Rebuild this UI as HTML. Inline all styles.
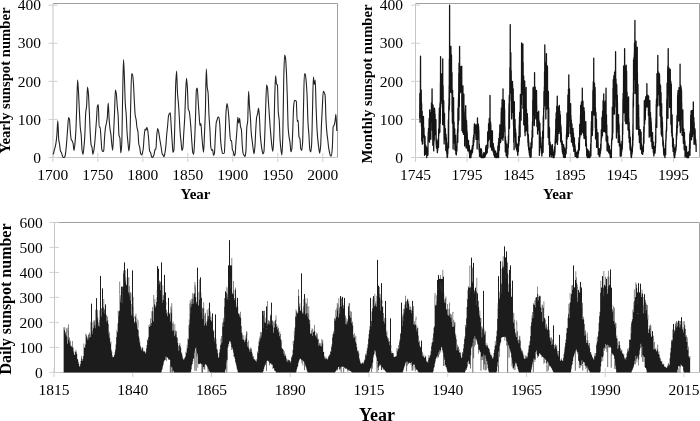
<!DOCTYPE html>
<html><head><meta charset="utf-8"><style>
html,body{margin:0;padding:0;background:#fff;overflow:hidden}
svg{display:block;filter:grayscale(1) blur(0.3px)}
</style></head><body>
<svg width="700" height="421" viewBox="0 0 700 421">
<path d="M53,3.5H337.5V157.5" fill="none" stroke="#a0a0a0" stroke-width="1"/><path d="M53,3.5V157.5H337.5" fill="none" stroke="#c4c4c4" stroke-width="1"/>
<path d="M48.5,157.5H57.5" stroke="#d0d0d0" stroke-width="1"/>
<text x="41.1" y="162.7" text-anchor="end" font-family="Liberation Serif" font-size="15.5">0</text>
<path d="M48.5,119.42H57.5" stroke="#d0d0d0" stroke-width="1"/>
<text x="41.1" y="124.62" text-anchor="end" font-family="Liberation Serif" font-size="15.5">100</text>
<path d="M48.5,81.34H57.5" stroke="#d0d0d0" stroke-width="1"/>
<text x="41.1" y="86.54" text-anchor="end" font-family="Liberation Serif" font-size="15.5">200</text>
<path d="M48.5,43.26H57.5" stroke="#d0d0d0" stroke-width="1"/>
<text x="41.1" y="48.46" text-anchor="end" font-family="Liberation Serif" font-size="15.5">300</text>
<path d="M48.5,5.18H57.5" stroke="#d0d0d0" stroke-width="1"/>
<text x="41.1" y="10.38" text-anchor="end" font-family="Liberation Serif" font-size="15.5">400</text>
<path d="M52.8,153V162" stroke="#d0d0d0" stroke-width="1"/>
<text x="52.8" y="180.4" text-anchor="middle" font-family="Liberation Serif" font-size="15.5">1700</text>
<path d="M97.8,153V162" stroke="#d0d0d0" stroke-width="1"/>
<text x="97.8" y="180.4" text-anchor="middle" font-family="Liberation Serif" font-size="15.5">1750</text>
<path d="M142.8,153V162" stroke="#d0d0d0" stroke-width="1"/>
<text x="142.8" y="180.4" text-anchor="middle" font-family="Liberation Serif" font-size="15.5">1800</text>
<path d="M187.8,153V162" stroke="#d0d0d0" stroke-width="1"/>
<text x="187.8" y="180.4" text-anchor="middle" font-family="Liberation Serif" font-size="15.5">1850</text>
<path d="M232.8,153V162" stroke="#d0d0d0" stroke-width="1"/>
<text x="232.8" y="180.4" text-anchor="middle" font-family="Liberation Serif" font-size="15.5">1900</text>
<path d="M277.8,153V162" stroke="#d0d0d0" stroke-width="1"/>
<text x="277.8" y="180.4" text-anchor="middle" font-family="Liberation Serif" font-size="15.5">1950</text>
<path d="M322.8,153V162" stroke="#d0d0d0" stroke-width="1"/>
<text x="322.8" y="180.4" text-anchor="middle" font-family="Liberation Serif" font-size="15.5">2000</text>
<text x="195.5" y="198.5" text-anchor="middle" font-family="Liberation Serif" font-size="15" font-weight="bold">Year</text>
<text transform="translate(10.2,80.5) rotate(-90)" text-anchor="middle" font-family="Liberation Serif" font-size="14.7" font-weight="bold">Yearly sunspot number</text>
<path d="M53.3,154.34C53.6,153.07 53.9,151.69 54.2,150.53C54.5,149.37 54.8,148.57 55.1,147.33C55.4,146.1 55.7,144.83 56,142.92C56.3,141 56.6,138.11 56.9,134.65C57.2,131.19 57.5,120.68 57.8,120.68C58.1,120.68 58.4,136.2 58.7,139.11C59,142.01 59.3,142.82 59.6,144.82C59.9,146.82 60.2,150.42 60.5,151.14C60.8,151.86 61.1,151.82 61.4,152.44C61.7,153.05 62,154.8 62.3,155.6C62.6,156.39 62.9,157.5 63.2,157.5C63.5,157.5 63.8,157.5 64.1,157.5C64.4,157.5 64.7,156.93 65,156.24C65.3,155.56 65.6,152.97 65.9,150.53C66.2,148.09 66.5,144.13 66.8,140.36C67.1,136.6 67.4,131.45 67.7,127.68C68,123.92 68.3,117.52 68.6,117.52C68.9,117.52 69.2,118.31 69.5,119.42C69.8,120.53 70.1,129.7 70.4,132.75C70.7,135.8 71,138.99 71.3,139.72C71.6,140.44 71.9,140.44 72.2,141.01C72.5,141.58 72.8,142.29 73.1,143.52C73.4,144.76 73.7,150.53 74,150.53C74.3,150.53 74.6,146.95 74.9,144.17C75.2,141.4 75.5,137.46 75.8,132.1C76.1,126.74 76.4,116.62 76.7,108C77,99.37 77.3,80.08 77.6,80.08C77.9,80.08 78.2,87.2 78.5,92.12C78.8,97.03 79.1,105.26 79.4,111.16C79.7,117.05 80,124.21 80.3,127.68C80.6,131.16 80.9,131.91 81.2,135.3C81.5,138.68 81.8,148.5 82.1,150.53C82.4,152.56 82.7,154.34 83,154.34C83.3,154.34 83.6,150.23 83.9,147.33C84.2,144.44 84.5,140.99 84.8,135.91C85.1,130.83 85.4,116.62 85.7,113.06C86,109.5 86.3,109.49 86.6,106.09C86.9,102.69 87.2,87.05 87.5,87.05C87.8,87.05 88.1,90.29 88.4,93.41C88.7,96.53 89,104.75 89.3,111.16C89.6,117.56 89.9,126.83 90.2,132.1C90.5,137.38 90.8,143.42 91.1,144.82C91.4,146.22 91.7,146.1 92,147.33C92.3,148.57 92.6,154.34 92.9,154.34C93.2,154.34 93.5,152.18 93.8,150.53C94.1,148.89 94.4,146.42 94.7,143.52C95,140.63 95.3,136.11 95.6,132.1C95.9,128.09 96.2,123.74 96.5,119.42C96.8,115.1 97.1,107.12 97.4,106.17C97.7,105.22 98,104.57 98.3,104.57C98.6,104.57 98.9,127.23 99.2,127.23C99.5,127.23 99.8,127.15 100.1,127.15C100.4,127.15 100.7,134.24 101,138C101.3,141.77 101.6,148.81 101.9,149.77C102.2,150.73 102.5,151.41 102.8,151.41C103.1,151.41 103.4,151.27 103.7,151.03C104,150.78 104.3,140.75 104.6,136.94C104.9,133.12 105.2,129.21 105.5,127.3C105.8,125.39 106.1,124.8 106.4,123.23C106.7,121.65 107,120.3 107.3,117.59C107.6,114.88 107.9,102.97 108.2,102.97C108.5,102.97 108.8,114.54 109.1,118.66C109.4,122.78 109.7,126.48 110,128.86C110.3,131.25 110.6,132.03 110.9,134.39C111.2,136.75 111.5,141.76 111.8,144.25C112.1,146.74 112.4,150.26 112.7,150.26C113,150.26 113.3,139.63 113.6,133.51C113.9,127.39 114.2,120.41 114.5,113.21C114.8,106.02 115.1,90.17 115.4,90.17C115.7,90.17 116,91.77 116.3,93.53C116.6,95.28 116.9,102.13 117.2,105.71C117.5,109.29 117.8,110.98 118.1,115.31C118.4,119.64 118.7,133.84 119,135.41C119.3,136.98 119.6,136.57 119.9,138.08C120.2,139.59 120.5,153.04 120.8,153.04C121.1,153.04 121.4,149.53 121.7,144.93C122,140.33 122.3,112.92 122.6,98.78C122.9,84.64 123.2,59.52 123.5,59.52C123.8,59.52 124.1,70.49 124.4,77.61C124.7,84.73 125,98.67 125.3,103.69C125.6,108.71 125.9,109.77 126.2,114.28C126.5,118.79 126.8,128.71 127.1,133.05C127.4,137.4 127.7,140.07 128,143.03C128.3,145.99 128.6,151.03 128.9,151.03C129.2,151.03 129.5,146.95 129.8,142.19C130.1,137.43 130.4,116.19 130.7,104.87C131,93.55 131.3,73.72 131.6,73.72C131.9,73.72 132.2,73.99 132.5,74.41C132.8,74.83 133.1,78.83 133.4,82.56C133.7,86.29 134,95.06 134.3,100.46C134.6,105.85 134.9,113.06 135.2,115.23C135.5,117.41 135.8,117.56 136.1,119.42C136.4,121.28 136.7,125.99 137,127.72C137.3,129.45 137.6,129.56 137.9,131.49C138.2,133.42 138.5,142.22 138.8,143.98C139.1,145.74 139.4,145.89 139.7,147.33C140,148.77 140.3,152.63 140.6,153.43C140.9,154.22 141.2,154.91 141.5,154.91C141.8,154.91 142.1,154.04 142.4,153.2C142.7,152.35 143,150.63 143.3,148.28C143.6,145.94 143.9,138.88 144.2,135.91C144.5,132.94 144.8,128.94 145.1,128.94C145.4,128.94 145.7,130.16 146,130.16C146.3,130.16 146.6,127.34 146.9,127.34C147.2,127.34 147.5,129.09 147.8,130.73C148.1,132.37 148.4,136.33 148.7,139.68C149,143.02 149.3,150.35 149.6,151.1C149.9,151.86 150.2,151.74 150.5,152.36C150.8,152.98 151.1,155.17 151.4,155.9C151.7,156.64 152,157.5 152.3,157.5C152.6,157.5 152.9,157.05 153.2,156.62C153.5,156.2 153.8,155.35 154.1,154.34C154.4,153.32 154.7,150.36 155,149.77C155.3,149.18 155.6,149.35 155.9,148.67C156.2,147.98 156.5,137.99 156.8,135.03C157.1,132.07 157.4,128.44 157.7,128.44C158,128.44 158.3,130.15 158.6,131.49C158.9,132.83 159.2,135.47 159.5,137.36C159.8,139.24 160.1,141.02 160.4,142.84C160.7,144.66 161,146.43 161.3,148.28C161.6,150.14 161.9,153.38 162.2,154C162.5,154.61 162.8,154.67 163.1,155.1C163.4,155.53 163.7,156.66 164,156.66C164.3,156.66 164.6,154.67 164.9,153.16C165.2,151.65 165.5,149.55 165.8,146.76C166.1,143.97 166.4,138.08 166.7,134.69C167,131.3 167.3,128.97 167.6,125.89C167.9,122.82 168.2,117.53 168.5,116.18C168.8,114.84 169.1,114.05 169.4,113.63C169.7,113.21 170,112.79 170.3,112.79C170.6,112.79 170.9,122.09 171.2,126.73C171.5,131.37 171.8,136.38 172.1,140.63C172.4,144.88 172.7,152.4 173,152.4C173.3,152.4 173.6,151.49 173.9,150.07C174.2,148.66 174.5,135.22 174.8,124.83C175.1,114.44 175.4,90.76 175.7,84.12C176,77.48 176.3,70.94 176.6,70.94C176.9,70.94 177.2,88.72 177.5,93.26C177.8,97.79 178.1,99.17 178.4,103.05C178.7,106.92 179,112.28 179.3,117.33C179.6,122.37 179.9,129.62 180.2,133.4C180.5,137.17 180.8,139.29 181.1,142.15C181.4,145.02 181.7,150.61 182,150.61C182.3,150.61 182.6,149.46 182.9,147.94C183.2,146.43 183.5,137.36 183.8,132.44C184.1,127.53 184.4,124.32 184.7,118.39C185,112.46 185.3,100.59 185.6,94.17C185.9,87.75 186.2,78.18 186.5,78.18C186.8,78.18 187.1,83.52 187.4,88C187.7,92.49 188,108.39 188.3,109.4C188.6,110.42 188.9,110.15 189.2,111.04C189.5,111.94 189.8,115.47 190.1,118.39C190.4,121.32 190.7,125.28 191,129.28C191.3,133.28 191.6,138.83 191.9,142.65C192.2,146.47 192.5,151.69 192.8,152.66C193.1,153.64 193.4,154.38 193.7,154.38C194,154.38 194.3,146.64 194.6,140.97C194.9,135.31 195.2,126.23 195.5,117.74C195.8,109.26 196.1,90.54 196.4,89.6C196.7,88.66 197,88.12 197.3,88.12C197.6,88.12 197.9,97.23 198.2,101.67C198.5,106.12 198.8,110.84 199.1,114.81C199.4,118.78 199.7,125.7 200,125.7C200.3,125.7 200.6,123.53 200.9,123.53C201.2,123.53 201.5,131.8 201.8,135.49C202.1,139.18 202.4,143.18 202.7,145.81C203,148.44 203.3,152.21 203.6,152.21C203.9,152.21 204.2,140.47 204.5,133.59C204.8,126.71 205.1,120.32 205.4,110.43C205.7,100.54 206,69.15 206.3,69.15C206.6,69.15 206.9,83.9 207.2,86.94C207.5,89.98 207.8,89.86 208.1,93.07C208.4,96.28 208.7,109.93 209,115.57C209.3,121.21 209.6,124.03 209.9,129.13C210.2,134.23 210.5,144.74 210.8,146.72C211.1,148.71 211.4,150.3 211.7,150.3C212,150.3 212.3,149.62 212.6,149.62C212.9,149.62 213.2,155.33 213.5,155.33C213.8,155.33 214.1,154.69 214.4,153.69C214.7,152.7 215,142.12 215.3,137.05C215.6,131.98 215.9,124.79 216.2,123.04C216.5,121.28 216.8,120.78 217.1,119.8C217.4,118.82 217.7,117.1 218,117.1C218.3,117.1 218.6,117.14 218.9,117.21C219.2,117.29 219.5,121.21 219.8,124.64C220.1,128.06 220.4,137.79 220.7,141.35C221,144.91 221.3,147.42 221.6,149.2C221.9,150.98 222.2,153.05 222.5,153.24C222.8,153.42 223.1,153.54 223.4,153.54C223.7,153.54 224,153.35 224.3,153.01C224.6,152.66 224.9,141.7 225.2,134.84C225.5,127.99 225.8,115.04 226.1,111.16C226.4,107.27 226.7,103.43 227,103.43C227.3,103.43 227.6,105.98 227.9,108C228.2,110.01 228.5,113.26 228.8,116.91C229.1,120.55 229.4,127.22 229.7,131.07C230,134.92 230.3,140.82 230.6,140.82C230.9,140.82 231.2,140.59 231.5,140.59C231.8,140.59 232.1,148.84 232.4,149.81C232.7,150.77 233,150.71 233.3,151.52C233.6,152.33 233.9,155.75 234.2,155.75C234.5,155.75 234.8,155.15 235.1,154.26C235.4,153.38 235.7,145.86 236,141.96C236.3,138.06 236.6,134.88 236.9,130.81C237.2,126.74 237.5,117.33 237.8,117.33C238.1,117.33 238.4,123.19 238.7,123.19C239,123.19 239.3,118.35 239.6,118.35C239.9,118.35 240.2,125.25 240.5,126.69C240.8,128.14 241.1,127.97 241.4,129.63C241.7,131.28 242,142.13 242.3,145.73C242.6,149.34 242.9,153.12 243.2,153.88C243.5,154.65 243.8,154.76 244.1,155.22C244.4,155.67 244.7,156.59 245,156.59C245.3,156.59 245.6,154.23 245.9,151.37C246.2,148.51 246.5,130.65 246.8,127.42C247.1,124.18 247.4,124.7 247.7,121.32C248,117.95 248.3,91.39 248.6,91.39C248.9,91.39 249.2,102.03 249.5,106.24C249.8,110.46 250.1,112.86 250.4,117.25C250.7,121.64 251,130.25 251.3,133.62C251.6,136.99 251.9,138.46 252.2,140.94C252.5,143.41 252.8,146.39 253.1,148.48C253.4,150.56 253.7,153.81 254,153.81C254.3,153.81 254.6,150.19 254.9,146.88C255.2,143.56 255.5,134.16 255.8,129.32C256.1,124.48 256.4,118.61 256.7,116.94C257,115.28 257.3,115.17 257.6,113.82C257.9,112.48 258.2,108.11 258.5,108.11C258.8,108.11 259.1,112.51 259.4,116.3C259.7,120.09 260,130.76 260.3,134.88C260.6,139 260.9,141.64 261.2,144.13C261.5,146.63 261.8,148.9 262.1,150.42C262.4,151.94 262.7,154 263,154C263.3,154 263.6,153.17 263.9,151.94C264.2,150.71 264.5,141.69 264.8,134.58C265.1,127.47 265.4,115.1 265.7,106.93C266,98.76 266.3,84.92 266.6,84.92C266.9,84.92 267.2,86.32 267.5,87.97C267.8,89.62 268.1,96.72 268.4,101.14C268.7,105.56 269,110.1 269.3,114.47C269.6,118.83 269.9,123.42 270.2,127.34C270.5,131.26 270.8,134.88 271.1,138.16C271.4,141.44 271.7,145.27 272,147.18C272.3,149.09 272.6,151.37 272.9,151.37C273.2,151.37 273.5,143.57 273.8,136.44C274.1,129.31 274.4,108.27 274.7,98.74C275,89.22 275.3,75.74 275.6,75.74C275.9,75.74 276.2,83.48 276.5,84.01C276.8,84.53 277.1,84.32 277.4,84.88C277.7,85.45 278,108.16 278.3,112.22C278.6,116.29 278.9,116.3 279.2,120.07C279.5,123.84 279.8,136.06 280.1,140.36C280.4,144.67 280.7,147.62 281,149.85C281.3,152.07 281.6,154.99 281.9,154.99C282.2,154.99 282.5,145.98 282.8,136.86C283.1,127.74 283.4,92.93 283.7,81.07C284,69.21 284.3,54.95 284.6,54.95C284.9,54.95 285.2,56.25 285.5,57.84C285.8,59.44 286.1,65.8 286.4,71.78C286.7,77.76 287,87.63 287.3,96.95C287.6,106.27 287.9,123.84 288.2,128.41C288.5,132.97 288.8,135.01 289.1,137.17C289.4,139.32 289.7,140.08 290,142.31C290.3,144.53 290.6,151.79 290.9,151.79C291.2,151.79 291.5,150.66 291.8,149.12C292.1,147.59 292.4,138.84 292.7,132.06C293,125.28 293.3,110.34 293.6,106.89C293.9,103.44 294.2,100.38 294.5,100.38C294.8,100.38 295.1,100.5 295.4,100.61C295.7,100.72 296,100.8 296.3,101.14C296.6,101.49 296.9,121.55 297.2,121.55C297.5,121.55 297.8,120.33 298.1,120.33C298.4,120.33 298.7,135.78 299,136.9C299.3,138.02 299.6,137.71 299.9,138.76C300.2,139.82 300.5,148.03 300.8,148.93C301.1,149.83 301.4,150.49 301.7,150.49C302,150.49 302.3,146.86 302.6,142.53C302.9,138.21 303.2,119.09 303.5,107.62C303.8,96.14 304.1,73.69 304.4,73.69C304.7,73.69 305,73.86 305.3,74.14C305.6,74.43 305.9,78.48 306.2,81.76C306.5,85.04 306.8,89.53 307.1,95.66C307.4,101.79 307.7,117.42 308,122.85C308.3,128.27 308.6,130.07 308.9,134.46C309.2,138.85 309.5,148.37 309.8,149.66C310.1,150.94 310.4,151.86 310.7,151.86C311,151.86 311.3,148.58 311.6,144.59C311.9,140.6 312.2,121.91 312.5,110.66C312.8,99.42 313.1,77.11 313.4,77.11C313.7,77.11 314,84.46 314.3,84.46C314.6,84.46 314.9,80.08 315.2,80.08C315.5,80.08 315.8,98.87 316.1,106.85C316.4,114.84 316.7,123.41 317,128.52C317.3,133.64 317.6,137.33 317.9,140.4C318.2,143.48 318.5,145.9 318.8,147.94C319.1,149.98 319.4,153.08 319.7,153.08C320,153.08 320.3,149.9 320.6,146.49C320.9,143.09 321.2,130.61 321.5,123.88C321.8,117.14 322.1,110.95 322.4,105.6C322.7,100.24 323,91.28 323.3,91.28C323.6,91.28 323.9,92.03 324.2,92.61C324.5,93.2 324.8,93.64 325.1,95.2C325.4,96.76 325.7,114.04 326,119.69C326.3,125.33 326.6,129.49 326.9,132.63C327.2,135.78 327.5,137.49 327.8,140.06C328.1,142.63 328.4,146.14 328.7,148.09C329,150.05 329.3,151.44 329.6,152.7C329.9,153.96 330.2,155.9 330.5,155.9C330.8,155.9 331.1,155.82 331.4,155.67C331.7,155.52 332,151.77 332.3,148.02C332.6,144.26 332.9,127.61 333.2,126.73C333.5,125.85 333.8,126 334.1,125.32C334.4,124.65 334.7,123.32 335,121.7C335.3,120.09 335.6,114.36 335.9,114.36C336.2,114.36 336.5,125.4 336.8,130.92" fill="none" stroke="#222" stroke-width="1.1"/>
<path d="M415.5,3.5H699.5V157.5" fill="none" stroke="#a0a0a0" stroke-width="1"/><path d="M415.5,3.5V157.5H699.5" fill="none" stroke="#c4c4c4" stroke-width="1"/>
<path d="M411,157.5H420" stroke="#d0d0d0" stroke-width="1"/>
<text x="403.1" y="162.7" text-anchor="end" font-family="Liberation Serif" font-size="15.5">0</text>
<path d="M411,119.42H420" stroke="#d0d0d0" stroke-width="1"/>
<text x="403.1" y="124.62" text-anchor="end" font-family="Liberation Serif" font-size="15.5">100</text>
<path d="M411,81.34H420" stroke="#d0d0d0" stroke-width="1"/>
<text x="403.1" y="86.54" text-anchor="end" font-family="Liberation Serif" font-size="15.5">200</text>
<path d="M411,43.26H420" stroke="#d0d0d0" stroke-width="1"/>
<text x="403.1" y="48.46" text-anchor="end" font-family="Liberation Serif" font-size="15.5">300</text>
<path d="M411,5.18H420" stroke="#d0d0d0" stroke-width="1"/>
<text x="403.1" y="10.38" text-anchor="end" font-family="Liberation Serif" font-size="15.5">400</text>
<path d="M415.5,153V162" stroke="#d0d0d0" stroke-width="1"/>
<text x="415.5" y="180.4" text-anchor="middle" font-family="Liberation Serif" font-size="15.5">1745</text>
<path d="M467.1,153V162" stroke="#d0d0d0" stroke-width="1"/>
<text x="467.1" y="180.4" text-anchor="middle" font-family="Liberation Serif" font-size="15.5">1795</text>
<path d="M518.7,153V162" stroke="#d0d0d0" stroke-width="1"/>
<text x="518.7" y="180.4" text-anchor="middle" font-family="Liberation Serif" font-size="15.5">1845</text>
<path d="M570.3,153V162" stroke="#d0d0d0" stroke-width="1"/>
<text x="570.3" y="180.4" text-anchor="middle" font-family="Liberation Serif" font-size="15.5">1895</text>
<path d="M621.9,153V162" stroke="#d0d0d0" stroke-width="1"/>
<text x="621.9" y="180.4" text-anchor="middle" font-family="Liberation Serif" font-size="15.5">1945</text>
<path d="M673.5,153V162" stroke="#d0d0d0" stroke-width="1"/>
<text x="673.5" y="180.4" text-anchor="middle" font-family="Liberation Serif" font-size="15.5">1995</text>
<text x="558" y="198.5" text-anchor="middle" font-family="Liberation Serif" font-size="15" font-weight="bold">Year</text>
<text transform="translate(372.2,84) rotate(-90)" text-anchor="middle" font-family="Liberation Serif" font-size="14.7" font-weight="bold">Monthly sunspot number</text>
<path d="M419.67,113.6 419.76,118.11 419.84,93.52 419.93,99.84 420.01,122.28 420.1,115.05 420.19,117.75 420.27,109.04 420.36,102.12 420.45,76.39 420.53,56.21 420.62,102.39 420.7,113.76 420.79,90.74 420.88,97.77 420.96,90.23 421.05,100.4 421.13,106.39 421.22,90.02 421.31,101.84 421.39,101.25 421.48,126.39 421.56,109.77 421.65,103.62 421.74,140.98 421.82,132.62 421.91,113.62 421.99,112.95 422.08,121.64 422.17,111.28 422.25,139.15 422.34,144.15 422.42,140.04 422.51,132.34 422.6,128.71 422.68,129.74 422.77,130.85 422.85,136.27 422.94,127.46 423.03,136.85 423.11,132.41 423.2,121.71 423.28,124.25 423.37,124.01 423.46,116.3 423.54,126.62 423.63,128.45 423.71,131.24 423.8,137.81 423.88,132.9 423.97,127.97 424.06,133.87 424.14,143.38 424.23,141.77 424.32,136.58 424.4,135.22 424.49,137.05 424.57,155.3 424.66,144.16 424.75,139.34 424.83,141.24 424.92,140.21 425,136.35 425.09,144.41 425.18,150.9 425.26,154.36 425.35,150.7 425.43,151.4 425.52,149.34 425.61,145.01 425.69,153.29 425.78,149.64 425.86,146.22 425.95,148.78 426.04,151.11 426.12,148.75 426.21,153.67 426.29,149.92 426.38,151.09 426.46,146.98 426.55,147.58 426.64,147.52 426.72,157.5 426.81,151.62 426.9,153.59 426.98,151.27 427.07,151.47 427.15,151.36 427.24,152.71 427.33,149.13 427.41,154.34 427.5,151.93 427.58,155.3 427.67,148.79 427.75,155.17 427.84,154.24 427.93,155.1 428.01,145.63 428.1,136.64 428.19,140.58 428.27,132.06 428.36,139.86 428.44,133.07 428.53,128.4 428.62,130.37 428.7,130.34 428.79,135.29 428.87,132.76 428.96,133.17 429.05,128.94 429.13,118.3 429.22,122.45 429.3,139.39 429.39,130.96 429.48,142.14 429.56,132.41 429.65,109.81 429.73,126.59 429.82,112.03 429.91,124.59 429.99,124.09 430.08,123.53 430.16,119.18 430.25,117.09 430.33,127.06 430.42,122.5 430.51,125.76 430.59,112.6 430.68,121.54 430.77,119.53 430.85,139.33 430.94,112.71 431.02,122.34 431.11,114.89 431.2,114.84 431.28,109.53 431.37,116.23 431.45,102.79 431.54,106.83 431.62,111.79 431.71,114.56 431.8,117.04 431.88,102.7 431.97,104.62 432.06,88.96 432.14,101.72 432.23,107.89 432.31,130.31 432.4,104.32 432.49,114.63 432.57,113.76 432.66,120.11 432.74,134.02 432.83,145.3 432.92,128.29 433,106.95 433.09,105.12 433.17,118.02 433.26,113.6 433.35,136.31 433.43,125.04 433.52,125.78 433.6,125.03 433.69,150.87 433.78,143.51 433.86,143.3 433.95,123.45 434.03,132.57 434.12,121.79 434.2,138.49 434.29,140.13 434.38,129.89 434.46,108.11 434.55,125.85 434.64,131.32 434.72,109.94 434.81,117.07 434.89,130.37 434.98,123.13 435.07,114.2 435.15,120.38 435.24,124.01 435.32,129.69 435.41,134.53 435.5,124.11 435.58,133.84 435.67,128.2 435.75,127.61 435.84,125.14 435.93,119.54 436.01,140.89 436.1,130.76 436.18,143.34 436.27,144.81 436.36,144 436.44,148.03 436.53,145.41 436.61,140.13 436.7,142.91 436.79,148.33 436.87,144.01 436.96,141.29 437.04,141.05 437.13,144.65 437.22,148.68 437.3,151.07 437.39,152.66 437.47,148.07 437.56,147.57 437.65,150.77 437.73,149.44 437.82,146.25 437.9,143.01 437.99,144.1 438.07,143.03 438.16,141.35 438.25,138.62 438.33,139.04 438.42,143.27 438.51,147.37 438.59,140.5 438.68,129.02 438.76,136.06 438.85,132.66 438.94,129.05 439.02,128.48 439.11,128.43 439.19,113.71 439.28,113.57 439.37,108.02 439.45,119.8 439.54,117.47 439.62,132.81 439.71,114.3 439.8,116.25 439.88,132.05 439.97,103.58 440.05,108.16 440.14,108.6 440.23,101.63 440.31,123.23 440.4,83 440.48,87.23 440.57,56.59 440.65,107.08 440.74,88.76 440.83,94.11 440.91,103.99 441,92.64 441.09,74.12 441.17,78.14 441.26,87.84 441.34,79.09 441.43,88.6 441.52,82.73 441.6,73.97 441.69,79.94 441.77,100.54 441.86,95.16 441.94,98.86 442.03,95.87 442.12,95.12 442.2,95.08 442.29,75.26 442.38,103.52 442.46,93.79 442.55,96.67 442.63,124.48 442.72,58.87 442.81,108.13 442.89,104.54 442.98,102.51 443.06,85.53 443.15,90.51 443.24,111.17 443.32,102.49 443.41,112.96 443.49,115.53 443.58,124.54 443.67,121.99 443.75,100.74 443.84,118.42 443.92,123.26 444.01,133.32 444.1,139.52 444.18,143.94 444.27,121.69 444.35,126.78 444.44,123.26 444.52,113.33 444.61,135.49 444.7,125.08 444.78,131.41 444.87,136.56 444.96,139.68 445.04,136 445.13,135.76 445.21,133 445.3,131.18 445.39,128.7 445.47,138.5 445.56,135.95 445.64,137.72 445.73,138.25 445.81,150.35 445.9,134.95 445.99,134.15 446.07,142.69 446.16,144.19 446.25,143.81 446.33,137.54 446.42,151.22 446.5,143.01 446.59,147.66 446.68,147.05 446.76,152.96 446.85,153.5 446.93,151.85 447.02,153.48 447.11,157.5 447.19,152.02 447.28,154.31 447.36,156.02 447.45,152.99 447.54,156.77 447.62,151.03 447.71,151.81 447.79,153.66 447.88,148.94 447.97,142.66 448.05,144.94 448.14,146.66 448.22,142.3 448.31,134.69 448.39,119.85 448.48,128.39 448.57,147.94 448.65,133.47 448.74,106.05 448.83,113.18 448.91,110.04 449,98.24 449.08,108.15 449.17,85.55 449.26,109.7 449.34,59.14 449.43,86.38 449.51,105.18 449.6,5.18 449.69,71.52 449.77,45.1 449.86,65.43 449.94,52.97 450.03,86.67 450.12,92.25 450.2,62.89 450.29,86.48 450.37,65.05 450.46,65.59 450.55,59.18 450.63,55.9 450.72,79.52 450.8,50.7 450.89,46.28 450.98,55.59 451.06,53.69 451.15,91.8 451.23,92.49 451.32,75.16 451.41,82.8 451.49,55.27 451.58,78.95 451.66,81.39 451.75,93.34 451.84,93.41 451.92,93.94 452.01,72.63 452.09,112.08 452.18,103.86 452.26,101.81 452.35,119.97 452.44,123.12 452.52,112.11 452.61,90.1 452.7,103.51 452.78,105.41 452.87,109.12 452.95,112.68 453.04,132.84 453.13,149.07 453.21,139.37 453.3,117.12 453.38,106.08 453.47,106.87 453.56,97.6 453.64,111.81 453.73,129.92 453.81,136.22 453.9,136.89 453.99,142.84 454.07,122.25 454.16,126.15 454.24,130.23 454.33,143.05 454.42,134.93 454.5,138.74 454.59,135.09 454.67,128.61 454.76,129.19 454.85,141.22 454.93,150 455.02,138.97 455.1,139.52 455.19,143.65 455.28,142.74 455.36,145.23 455.45,145.17 455.53,135.4 455.62,146.29 455.71,147.72 455.79,146.49 455.88,154.05 455.96,151.41 456.05,151.95 456.13,148.31 456.22,149.53 456.31,154.48 456.39,154.84 456.48,149.15 456.57,151.46 456.65,147.49 456.74,149.69 456.82,148.1 456.91,150.71 457,145.43 457.08,143.51 457.17,140.64 457.25,138.81 457.34,133.4 457.43,141.23 457.51,130.45 457.6,129.38 457.68,138.53 457.77,142.26 457.86,120.3 457.94,108.25 458.03,132.22 458.11,118.43 458.2,109 458.29,124.8 458.37,108.89 458.46,98.32 458.54,107.59 458.63,93.19 458.72,112.22 458.8,73.46 458.89,120.35 458.97,82.18 459.06,63.05 459.15,67.77 459.23,94.54 459.32,106.51 459.4,69.48 459.49,70.6 459.58,46.31 459.66,65.29 459.75,87.69 459.83,78.5 459.92,87.72 460,68.05 460.09,82.66 460.18,92.86 460.26,70.45 460.35,76.51 460.44,83.1 460.52,79.71 460.61,73.17 460.69,66.7 460.78,77.7 460.87,88.64 460.95,91.49 461.04,90.33 461.12,83.45 461.21,80.42 461.3,80.7 461.38,83.83 461.47,73.45 461.55,69.65 461.64,77.28 461.73,66.12 461.81,100.06 461.9,114.77 461.98,130.63 462.07,95.22 462.16,92.62 462.24,97.89 462.33,118.73 462.41,104.48 462.5,122.94 462.58,131.25 462.67,109.58 462.76,115.31 462.84,132.58 462.93,85.87 463.02,100.31 463.1,123.05 463.19,126.11 463.27,116.75 463.36,126.2 463.45,128.22 463.53,134.33 463.62,126.95 463.7,121.82 463.79,111.15 463.88,94.23 463.96,117.9 464.05,108.98 464.13,128.72 464.22,111.65 464.31,129.05 464.39,126.49 464.48,131.54 464.56,120.56 464.65,145.95 464.74,125.08 464.82,122.69 464.91,128.69 464.99,137.93 465.08,123.56 465.17,135.13 465.25,124.57 465.34,133.73 465.42,133.41 465.51,133.13 465.6,113.31 465.68,105.69 465.77,122.61 465.85,134.29 465.94,117.75 466.03,141.49 466.11,148.06 466.2,123.01 466.28,126.82 466.37,129.8 466.45,130.03 466.54,120.66 466.63,136.43 466.71,124.9 466.8,138.95 466.89,140.07 466.97,130.59 467.06,131.43 467.14,144.67 467.23,133.2 467.32,147.3 467.4,137.06 467.49,149.09 467.57,147.47 467.66,147.35 467.75,150.42 467.83,148.08 467.92,149.19 468,150.88 468.09,148.34 468.18,141.92 468.26,149.65 468.35,148.56 468.43,144.6 468.52,140.31 468.61,151 468.69,148.68 468.78,145.3 468.86,147.73 468.95,145.19 469.04,146.14 469.12,147.43 469.21,152.41 469.29,152.27 469.38,145.64 469.47,153.37 469.55,149.23 469.64,157.5 469.72,153.24 469.81,152.88 469.9,157.5 469.98,154.58 470.07,151 470.15,150.49 470.24,156.99 470.32,155.34 470.41,152.94 470.5,152.01 470.58,153.27 470.67,157.5 470.76,155.22 470.84,157.5 470.93,157.5 471.01,154.17 471.1,156.2 471.19,153.27 471.27,154.78 471.36,153.19 471.44,150.13 471.53,153.23 471.62,150 471.7,153.77 471.79,153.87 471.87,152.4 471.96,150.56 472.05,147.8 472.13,149.26 472.22,149.87 472.3,147.48 472.39,145.59 472.48,152.25 472.56,148.02 472.65,147.32 472.73,148.67 472.82,148.08 472.9,149.25 472.99,146.35 473.08,146.79 473.16,140.18 473.25,144.72 473.34,137.71 473.42,141.68 473.51,145.49 473.59,140.1 473.68,135.17 473.77,135.74 473.85,134.58 473.94,142.03 474.02,134.42 474.11,138.54 474.19,127.36 474.28,126.95 474.37,123.97 474.45,125.66 474.54,126.96 474.63,128.23 474.71,124 474.8,128.41 474.88,127.96 474.97,128.74 475.06,124.97 475.14,130.08 475.23,133.24 475.31,131.6 475.4,129.48 475.49,128.07 475.57,129.73 475.66,132.91 475.74,128.23 475.83,135.65 475.92,134.17 476,139.44 476.09,132.88 476.17,124.98 476.26,132.75 476.35,137.41 476.43,125.05 476.52,131.85 476.6,129.59 476.69,127.79 476.77,130.71 476.86,130.32 476.95,127.17 477.03,134.17 477.12,148.94 477.21,139.82 477.29,126.17 477.38,129.66 477.46,117.9 477.55,130.53 477.64,131.65 477.72,126.97 477.81,127.36 477.89,139.32 477.98,129.56 478.06,131.88 478.15,131.75 478.24,124.76 478.32,124.18 478.41,137.9 478.5,136.54 478.58,126.52 478.67,129 478.75,134.07 478.84,130.29 478.93,137.88 479.01,146.66 479.1,150.07 479.18,145.9 479.27,151.43 479.36,144.1 479.44,148.42 479.53,156.25 479.61,155.07 479.7,153.96 479.79,151.32 479.87,153.26 479.96,154.45 480.04,152.22 480.13,148.34 480.22,150.63 480.3,156.15 480.39,156.05 480.47,150.48 480.56,149.96 480.64,156.74 480.73,155.27 480.82,151.98 480.9,155.45 480.99,153.06 481.08,157.5 481.16,154.76 481.25,152.84 481.33,155.14 481.42,148.92 481.51,154.3 481.59,150.47 481.68,157.5 481.76,157.5 481.85,153.98 481.94,157.5 482.02,155.28 482.11,157.48 482.19,155.68 482.28,156.9 482.37,156.68 482.45,157.5 482.54,157.5 482.62,156.94 482.71,156.37 482.8,157.5 482.88,157.29 482.97,157.5 483.05,155.91 483.14,157.5 483.23,156.8 483.31,157.5 483.4,156.3 483.48,153.35 483.57,152.9 483.66,157.5 483.74,157.19 483.83,157.4 483.91,152.75 484,157.12 484.09,155.57 484.17,157.4 484.26,156.94 484.34,153.3 484.43,154.34 484.51,155.58 484.6,157.43 484.69,153.45 484.77,156.01 484.86,155.63 484.95,152.91 485.03,154.56 485.12,153.24 485.2,154.63 485.29,156.14 485.38,155.37 485.46,154.6 485.55,155.07 485.63,148.52 485.72,153.26 485.81,146.76 485.89,149.17 485.98,147.6 486.06,150.49 486.15,145.39 486.24,145.88 486.32,153.91 486.41,145.29 486.49,150.86 486.58,152.26 486.67,153.47 486.75,147.81 486.84,150.95 486.92,147.62 487.01,146.08 487.1,147.87 487.18,151.48 487.27,152.44 487.35,145.99 487.44,144.59 487.53,145.31 487.61,137.66 487.7,131.9 487.78,140.89 487.87,148.31 487.96,137.78 488.04,139.85 488.13,142.11 488.21,137.55 488.3,141.1 488.38,138.49 488.47,140.53 488.56,123.75 488.64,132.86 488.73,129.53 488.82,131.5 488.9,139.11 488.99,139.2 489.07,131.94 489.16,124.78 489.25,118.73 489.33,118.38 489.42,134.44 489.5,124.2 489.59,121.19 489.68,121.75 489.76,124.76 489.85,130.44 489.93,127.29 490.02,95.43 490.11,125.56 490.19,134.51 490.28,132.26 490.36,147.02 490.45,138.56 490.54,121.89 490.62,131.18 490.71,126.45 490.79,124.21 490.88,131.16 490.97,138.33 491.05,142.58 491.14,139.99 491.22,130.37 491.31,144.88 491.4,136.95 491.48,140.46 491.57,149.88 491.65,142.13 491.74,138.04 491.83,150.12 491.91,145.04 492,140.83 492.08,146.28 492.17,142.41 492.25,146.51 492.34,140.45 492.43,130.82 492.51,148.32 492.6,146.66 492.69,146.5 492.77,143.89 492.86,143.73 492.94,145.19 493.03,146.19 493.12,151.89 493.2,147.87 493.29,143.64 493.37,145.87 493.46,150.47 493.55,149.94 493.63,146.56 493.72,149.07 493.8,154.91 493.89,151.62 493.98,147.83 494.06,149.16 494.15,150.33 494.23,154.86 494.32,153.49 494.41,152.34 494.49,154.17 494.58,156.94 494.66,150.16 494.75,151.84 494.84,157.17 494.92,154.63 495.01,155.92 495.09,155.93 495.18,152.35 495.27,155.89 495.35,152.78 495.44,155.33 495.52,153.15 495.61,151.1 495.7,153.4 495.78,157.5 495.87,156.64 495.95,156.13 496.04,154.47 496.12,157.5 496.21,155.29 496.3,157.5 496.38,155.55 496.47,156.58 496.56,157.5 496.64,154.98 496.73,156.06 496.81,154.41 496.9,156.38 496.99,153.17 497.07,157.5 497.16,155.26 497.24,153.31 497.33,157.5 497.42,153.4 497.5,156.85 497.59,154.22 497.67,156.41 497.76,152.38 497.85,146.17 497.93,152.77 498.02,149.07 498.1,148.35 498.19,148.85 498.28,148.53 498.36,149.16 498.45,142.45 498.53,146.92 498.62,157.5 498.7,143.03 498.79,138.48 498.88,143.49 498.96,140.85 499.05,143.48 499.14,150.65 499.22,150.58 499.31,140.09 499.39,147.95 499.48,133.2 499.57,141.42 499.65,140.42 499.74,143.33 499.82,124.86 499.91,126.5 500,135.49 500.08,130.68 500.17,130.3 500.25,135.95 500.34,127.36 500.43,132.62 500.51,142.44 500.6,136.62 500.68,130.68 500.77,141.8 500.86,132.3 500.94,126.78 501.03,123.66 501.11,120.31 501.2,112.23 501.28,119.92 501.37,108 501.46,115.43 501.54,111.96 501.63,138.74 501.72,120.65 501.8,121.72 501.89,117.15 501.97,114.23 502.06,99.68 502.15,113.82 502.23,123.57 502.32,122.11 502.4,115.02 502.49,110.6 502.57,114.16 502.66,111.91 502.75,105.41 502.83,130.14 502.92,140.28 503.01,88.96 503.09,133.26 503.18,110.96 503.26,109.61 503.35,137.14 503.44,107.55 503.52,99.89 503.61,103.93 503.69,113.72 503.78,123.54 503.87,111.4 503.95,118.81 504.04,117.15 504.12,100.82 504.21,113.9 504.3,100.49 504.38,106.18 504.47,123.27 504.55,114.26 504.64,109.62 504.73,131.93 504.81,126.32 504.9,126.92 504.98,130.92 505.07,143.32 505.15,143.47 505.24,143.33 505.33,151.87 505.41,136.71 505.5,140.57 505.59,142.3 505.67,142.84 505.76,141.55 505.84,140.62 505.93,148.31 506.02,142.51 506.1,147.57 506.19,155.65 506.27,147.64 506.36,151.9 506.44,151.67 506.53,151.82 506.62,144.09 506.7,156.09 506.79,151.67 506.88,154.27 506.96,154.29 507.05,154.93 507.13,156.8 507.22,156.38 507.31,153.12 507.39,150.69 507.48,154.82 507.56,157.5 507.65,151.91 507.74,153.27 507.82,154.47 507.91,153.13 507.99,146.99 508.08,142.94 508.17,145.49 508.25,142.75 508.34,147.62 508.42,135.87 508.51,143.51 508.6,142.1 508.68,139.98 508.77,132.71 508.85,118.48 508.94,109.66 509.02,103.78 509.11,116.32 509.2,112.24 509.28,95.46 509.37,97.58 509.46,128.31 509.54,106.89 509.63,112.55 509.71,97.09 509.8,91.05 509.89,67.71 509.97,73.51 510.06,92.28 510.14,91.49 510.23,24.6 510.31,56.42 510.4,71.71 510.49,68.02 510.57,64.93 510.66,54.99 510.75,60.21 510.83,52.75 510.92,73.48 511,93.27 511.09,72.58 511.18,70.57 511.26,80.39 511.35,100.42 511.43,88.62 511.52,84.21 511.61,116.21 511.69,118.93 511.78,95.36 511.86,90.88 511.95,94.17 512.04,95.7 512.12,112.41 512.21,97.58 512.29,100.1 512.38,103.27 512.47,81.51 512.55,97.06 512.64,84.53 512.72,100.02 512.81,109.23 512.89,94.2 512.98,109.77 513.07,109.21 513.15,89.56 513.24,88.83 513.33,117.17 513.41,102.16 513.5,125.57 513.58,116.16 513.67,127.13 513.76,142.3 513.84,128.49 513.93,117.06 514.01,125.1 514.1,149.66 514.18,107.09 514.27,120.12 514.36,101.58 514.44,120.4 514.53,129.99 514.62,132.75 514.7,124.05 514.79,122.16 514.87,124.6 514.96,120.47 515.05,119.49 515.13,126.85 515.22,136.91 515.3,128.5 515.39,130.39 515.48,131.78 515.56,129.37 515.65,142.81 515.73,142.53 515.82,147.11 515.91,133 515.99,136.88 516.08,140.8 516.16,148.36 516.25,148.59 516.34,143.5 516.42,148.62 516.51,144.46 516.59,149.49 516.68,146.71 516.76,143.42 516.85,150.2 516.94,147.04 517.02,147.39 517.11,151.36 517.2,151.05 517.28,150.07 517.37,147.49 517.45,148.23 517.54,148.02 517.63,155.17 517.71,146.48 517.8,154.29 517.88,148.46 517.97,150.66 518.06,144.36 518.14,144.58 518.23,148.77 518.31,147.24 518.4,151.5 518.49,144.02 518.57,136.48 518.66,142.6 518.74,139.08 518.83,145.75 518.92,136.36 519,144.15 519.09,140.27 519.17,126.42 519.26,124.47 519.35,140.86 519.43,117.05 519.52,120.49 519.6,117.96 519.69,112.39 519.78,123.18 519.86,126.63 519.95,122.72 520.03,114.27 520.12,136.75 520.21,110.85 520.29,113.92 520.38,94.4 520.46,97.16 520.55,95.43 520.63,117.96 520.72,109.51 520.81,118.81 520.89,106.1 520.98,117.25 521.07,120.13 521.15,100.37 521.24,101.51 521.32,104.54 521.41,81.74 521.5,90.44 521.58,42.88 521.67,89.57 521.75,75.22 521.84,76.89 521.92,94.64 522.01,66.13 522.1,85.49 522.18,81.52 522.27,63.15 522.36,62.65 522.44,78.96 522.53,67.71 522.61,62.16 522.7,66.16 522.79,74.31 522.87,44.02 522.96,108.34 523.04,95.67 523.13,62.77 523.22,89.19 523.3,92.23 523.39,104.85 523.47,80.07 523.56,99.68 523.65,75.78 523.73,124.84 523.82,121.44 523.9,88.93 523.99,87.81 524.08,86.16 524.16,112.27 524.25,95.48 524.33,107.24 524.42,121.17 524.5,99.78 524.59,106.58 524.68,80.96 524.76,89.72 524.85,132.61 524.94,100.51 525.02,123.35 525.11,135.72 525.19,107.8 525.28,130.77 525.37,126.83 525.45,108.99 525.54,108.15 525.62,103 525.71,110.23 525.79,108.23 525.88,118.84 525.97,106.63 526.05,95.48 526.14,87.39 526.23,107.28 526.31,130.96 526.4,129.45 526.48,109.31 526.57,118.37 526.66,117.92 526.74,121.58 526.83,127.36 526.91,118.89 527,116.9 527.09,119.61 527.17,125.24 527.26,128.46 527.34,113.77 527.43,134.67 527.52,117.4 527.6,135.18 527.69,124.94 527.77,131.22 527.86,139.13 527.95,142.76 528.03,138.54 528.12,134.31 528.2,145.99 528.29,142.91 528.38,134.77 528.46,146.65 528.55,138.98 528.63,149.86 528.72,144.6 528.81,142 528.89,145.16 528.98,148.08 529.06,149.82 529.15,152.53 529.24,148.57 529.32,149.93 529.41,154.15 529.49,154.81 529.58,153.25 529.66,153.64 529.75,154.77 529.84,155.67 529.92,153.58 530.01,147.91 530.1,153.78 530.18,157.5 530.27,151.21 530.35,155.12 530.44,153.91 530.53,154.6 530.61,152.91 530.7,154.02 530.78,149.03 530.87,146 530.96,142.91 531.04,150.53 531.13,156.91 531.21,152.27 531.3,147.43 531.39,145.27 531.47,141.67 531.56,148.8 531.64,145.91 531.73,137.88 531.82,138.56 531.9,147.78 531.99,139.9 532.07,145.11 532.16,130.47 532.25,129.82 532.33,137.24 532.42,125.81 532.5,121.73 532.59,129.99 532.68,137.35 532.76,100.76 532.85,125.48 532.93,103.41 533.02,88.18 533.11,98.51 533.19,87.13 533.28,100.09 533.36,95.83 533.45,112.43 533.53,100.14 533.62,100.09 533.71,99.68 533.79,104.14 533.88,113.07 533.97,106.62 534.05,115.3 534.14,98.3 534.22,89.02 534.31,125.52 534.4,115.12 534.48,118.35 534.57,72.58 534.65,97.63 534.74,108.97 534.83,106.87 534.91,93.47 535,92.62 535.08,104.71 535.17,92.43 535.26,87.27 535.34,110.33 535.43,90.44 535.51,99.54 535.6,90.73 535.69,103.99 535.77,100.02 535.86,118.93 535.94,101.41 536.03,111.81 536.12,100.84 536.2,95.98 536.29,114.93 536.37,95.35 536.46,113.28 536.55,90.52 536.63,107.92 536.72,105.32 536.8,122.14 536.89,126.57 536.98,118.86 537.06,119.54 537.15,115.65 537.23,115.8 537.32,119.52 537.4,112.28 537.49,114.52 537.58,134.11 537.66,123.09 537.75,127.68 537.84,122.47 537.92,121.08 538.01,127.65 538.09,119.13 538.18,123.96 538.27,125.99 538.35,130.4 538.44,127.33 538.52,122.82 538.61,125.69 538.7,111.05 538.78,126.46 538.87,119.5 538.95,125.56 539.04,128.39 539.13,120.9 539.21,126.63 539.3,125.77 539.38,155.29 539.47,136.65 539.56,128.93 539.64,126.23 539.73,137.3 539.81,126.66 539.9,123.1 539.99,132.23 540.07,144.55 540.16,131.85 540.24,140.39 540.33,141.13 540.42,142.85 540.5,143.57 540.59,147.54 540.67,146.1 540.76,137.17 540.85,141.52 540.93,142.23 541.02,146.13 541.1,147.94 541.19,150.68 541.27,147.4 541.36,147.22 541.45,152.84 541.53,150.97 541.62,151.46 541.71,154.35 541.79,151.53 541.88,156.09 541.96,148.85 542.05,149.66 542.14,154.05 542.22,145.8 542.31,148.83 542.39,148.42 542.48,142.87 542.57,141.27 542.65,131.1 542.74,137.07 542.82,139.9 542.91,137.04 543,141.52 543.08,152.33 543.17,143.37 543.25,117.05 543.34,117.61 543.43,138.52 543.51,114.81 543.6,125.75 543.68,108.04 543.77,111.31 543.86,107.41 543.94,91.62 544.03,108.66 544.11,96.43 544.2,92.13 544.29,96.3 544.37,86.79 544.46,105.81 544.54,71.99 544.63,77.29 544.72,79.85 544.8,44.78 544.89,61.86 544.97,99 545.06,95.32 545.14,68.59 545.23,80.59 545.32,62.58 545.4,70.13 545.49,85.49 545.58,103.7 545.66,73.98 545.75,68.54 545.83,118.9 545.92,94.33 546.01,77.33 546.09,77.22 546.18,79.91 546.26,95.36 546.35,83.44 546.43,53.54 546.52,92.52 546.61,104.22 546.69,103.27 546.78,109.09 546.87,76.01 546.95,98.56 547.04,87 547.12,65.55 547.21,77.08 547.3,66.03 547.38,101.11 547.47,66.9 547.55,92.43 547.64,95.54 547.73,92.04 547.81,92.65 547.9,99.62 547.98,105.32 548.07,92.92 548.16,137.5 548.24,131.99 548.33,122.03 548.41,91.48 548.5,117.12 548.59,109.51 548.67,114.49 548.76,108.01 548.84,131.03 548.93,133.93 549.01,144.71 549.1,137.02 549.19,132.43 549.27,127.1 549.36,129.1 549.45,129.49 549.53,128.8 549.62,156.62 549.7,144.02 549.79,146.07 549.88,146.53 549.96,151.05 550.05,141.82 550.13,151.53 550.22,144.3 550.31,144.51 550.39,147.93 550.48,145.49 550.56,148.26 550.65,150.37 550.74,152.78 550.82,154.54 550.91,148.32 550.99,153.35 551.08,152.31 551.17,154.2 551.25,156.99 551.34,150.63 551.42,147.43 551.51,146.99 551.6,150.96 551.68,147.61 551.77,152.56 551.85,148.67 551.94,144.9 552.03,153.64 552.11,152.59 552.2,145.68 552.28,151.3 552.37,144.53 552.46,147.59 552.54,152.53 552.63,155.58 552.71,149.23 552.8,150.27 552.88,156.49 552.97,157.5 553.06,154.63 553.14,157.5 553.23,154.83 553.32,155.61 553.4,154.5 553.49,157.5 553.57,153.63 553.66,157.25 553.75,152.38 553.83,153.67 553.92,155.46 554,153.91 554.09,157.5 554.17,154.82 554.26,151.49 554.35,153.13 554.43,150.74 554.52,150.27 554.61,146.79 554.69,154.99 554.78,149.39 554.86,146.79 554.95,152.38 555.04,149.13 555.12,142.1 555.21,139.6 555.29,144.01 555.38,136.22 555.47,135.19 555.55,136.45 555.64,129.17 555.72,142.84 555.81,119.33 555.9,118.91 555.98,132.49 556.07,141.12 556.15,114.03 556.24,112.76 556.33,117.77 556.41,122.44 556.5,113.42 556.58,129.31 556.67,116.15 556.75,106.27 556.84,108.76 556.93,110.17 557.01,131.69 557.1,142.9 557.19,116.4 557.27,96.19 557.36,116.73 557.44,144.47 557.53,124.55 557.62,126.78 557.7,112.37 557.79,140.34 557.87,112.24 557.96,114.93 558.05,123.45 558.13,117.18 558.22,111.91 558.3,118.45 558.39,112.69 558.48,107.38 558.56,114.27 558.65,114.96 558.73,107.16 558.82,106.49 558.91,117.95 558.99,133.57 559.08,130.72 559.16,109.87 559.25,116.94 559.34,105.41 559.42,128.22 559.51,125.77 559.59,115.09 559.68,122.29 559.77,120.19 559.85,111.05 559.94,130.06 560.02,118.58 560.11,123.93 560.2,117.46 560.28,131.46 560.37,114.87 560.45,130.62 560.54,129.13 560.62,141.78 560.71,134.18 560.8,124.89 560.88,132.84 560.97,137.57 561.06,127.25 561.14,139.14 561.23,132.33 561.31,132.91 561.4,140.99 561.49,143.27 561.57,144.55 561.66,143.11 561.74,141.55 561.83,142.36 561.91,143.05 562,147.52 562.09,143.65 562.17,149.66 562.26,140.95 562.35,152 562.43,148.29 562.52,148.29 562.6,151.84 562.69,149.78 562.78,153.75 562.86,152.77 562.95,144.2 563.03,149.76 563.12,152.59 563.21,151.69 563.29,153.5 563.38,154.39 563.46,156.57 563.55,157.21 563.64,156.41 563.72,144.99 563.81,154.2 563.89,153.79 563.98,155.25 564.07,155.42 564.15,151.98 564.24,153.68 564.32,157.5 564.41,155.11 564.5,150.64 564.58,147.81 564.67,154.67 564.75,153.86 564.84,150.86 564.93,153.67 565.01,157.02 565.1,155.15 565.18,153.92 565.27,157.42 565.36,155.32 565.44,153.01 565.53,154.11 565.61,154.35 565.7,152.81 565.78,151.44 565.87,150.1 565.96,148.78 566.04,149.58 566.13,153.57 566.22,146.49 566.3,146.08 566.39,135.78 566.47,134.76 566.56,148.85 566.65,134.46 566.73,128.05 566.82,126.47 566.9,122.55 566.99,113.11 567.08,123.31 567.16,138.8 567.25,133.34 567.33,125.93 567.42,114.63 567.51,120.57 567.59,115.58 567.68,121.46 567.76,116.06 567.85,99.36 567.94,94.82 568.02,106.88 568.11,99.93 568.19,115.19 568.28,115.49 568.37,136.41 568.45,89.13 568.54,105.77 568.62,127.11 568.71,93.37 568.8,74.87 568.88,97.43 568.97,92.17 569.05,97.75 569.14,106.68 569.23,106.55 569.31,90.88 569.4,113.93 569.48,88.78 569.57,103.42 569.65,120.24 569.74,103.22 569.83,107.59 569.91,111.5 570,119.14 570.09,133.57 570.17,112.79 570.26,112.56 570.34,127.03 570.43,109.71 570.52,120.5 570.6,103.68 570.69,107.35 570.77,133.33 570.86,120.94 570.94,115.46 571.03,136.8 571.12,130.79 571.2,126.13 571.29,119.88 571.38,130.13 571.46,141.98 571.55,135.09 571.63,123.56 571.72,123.6 571.81,141.92 571.89,131.68 571.98,123.86 572.06,133.36 572.15,134.08 572.24,142.45 572.32,132.55 572.41,128.81 572.49,133.13 572.58,138.76 572.67,141.46 572.75,144.73 572.84,143.36 572.92,146.27 573.01,128.31 573.1,136.82 573.18,134.38 573.27,138.93 573.35,133.86 573.44,132.91 573.52,135.9 573.61,142.06 573.7,139.13 573.78,151.36 573.87,141.78 573.96,141.02 574.04,138.48 574.13,142.13 574.21,144.41 574.3,146.57 574.39,138 574.47,147.97 574.56,145.71 574.64,145.58 574.73,144.4 574.82,147.56 574.9,149.87 574.99,154.59 575.07,146.14 575.16,156.38 575.25,149.1 575.33,149.29 575.42,151.92 575.5,150.22 575.59,153.13 575.68,154.31 575.76,152.13 575.85,152.34 575.93,153.85 576.02,155.46 576.11,152.04 576.19,156.6 576.28,152.63 576.36,153.94 576.45,155.74 576.54,153.57 576.62,157.28 576.71,157.45 576.79,157.08 576.88,153.42 576.97,155.39 577.05,156.49 577.14,154.38 577.22,152.17 577.31,156.62 577.39,152.48 577.48,157.5 577.57,157.5 577.65,156.77 577.74,155.38 577.83,150.55 577.91,154.37 578,157.45 578.08,151.85 578.17,154.07 578.26,150.3 578.34,152.94 578.43,153.8 578.51,152.6 578.6,150.94 578.68,142.88 578.77,146.64 578.86,146.75 578.94,145.66 579.03,137.63 579.12,141.79 579.2,143.48 579.29,137.74 579.37,150.11 579.46,145.15 579.55,138.5 579.63,139.78 579.72,124.34 579.8,124.91 579.89,126.38 579.98,137.28 580.06,132.02 580.15,133.34 580.23,131.81 580.32,133.22 580.41,131.77 580.49,114.69 580.58,129.85 580.66,105.42 580.75,118.04 580.84,120.12 580.92,116.59 581.01,127.91 581.09,126.16 581.18,122.64 581.26,134.75 581.35,109.32 581.44,101.96 581.52,109.06 581.61,114.1 581.7,113.6 581.78,109.31 581.87,130.16 581.95,117.31 582.04,123.56 582.13,107.89 582.21,128.51 582.3,88.19 582.38,131.62 582.47,115.55 582.56,108.9 582.64,104.45 582.73,120.47 582.81,132.96 582.9,101.71 582.99,101.23 583.07,119.94 583.16,111.31 583.24,123.06 583.33,123.72 583.42,114.63 583.5,133.51 583.59,121.97 583.67,120.27 583.76,135.92 583.85,124.83 583.93,107.62 584.02,108.75 584.1,138.4 584.19,120.71 584.28,122.96 584.36,111.28 584.45,114.09 584.53,122.87 584.62,122.65 584.71,127.81 584.79,125.71 584.88,130.89 584.96,125.24 585.05,134.21 585.13,136.82 585.22,138.03 585.31,139 585.39,133.52 585.48,123.52 585.57,127.84 585.65,145.66 585.74,135.28 585.82,121.54 585.91,133.15 586,139.94 586.08,145.5 586.17,136.2 586.25,142.57 586.34,146.79 586.42,143.7 586.51,149.26 586.6,149.09 586.68,152.57 586.77,156 586.86,151.98 586.94,149.17 587.03,149.02 587.11,156.57 587.2,150.15 587.29,156.17 587.37,152.9 587.46,157.5 587.54,156.19 587.63,154.18 587.72,153.39 587.8,149.71 587.89,154.9 587.97,154.12 588.06,153.69 588.15,154.94 588.23,152.03 588.32,156.03 588.4,152.81 588.49,155.54 588.58,151.2 588.66,157.5 588.75,155.08 588.83,153.73 588.92,157.5 589,157.5 589.09,157.5 589.18,157.5 589.26,157.5 589.35,157.5 589.44,157.5 589.52,157.5 589.61,155.13 589.69,157.5 589.78,157.5 589.87,157.5 589.95,157.2 590.04,155.79 590.12,151.2 590.21,150.95 590.3,154.04 590.38,152.65 590.47,155.16 590.55,149.81 590.64,146.79 590.73,143.89 590.81,150.48 590.9,155.96 590.98,144.99 591.07,135.59 591.16,141.96 591.24,128.8 591.33,126.84 591.41,121.39 591.5,122.33 591.59,129.5 591.67,122.92 591.76,111.58 591.84,124.1 591.93,112.68 592.02,112.33 592.1,122.43 592.19,133.62 592.27,135.54 592.36,134.62 592.45,124.01 592.53,123.47 592.62,131.09 592.7,117.29 592.79,115.42 592.88,90.69 592.96,106.77 593.05,109.79 593.13,92.8 593.22,87.82 593.31,81.6 593.39,102.56 593.48,98.12 593.56,82.88 593.65,100.16 593.74,58.11 593.82,114.38 593.91,96.47 593.99,96.74 594.08,104.06 594.16,114.99 594.25,98.96 594.34,87.82 594.42,108.57 594.51,83.18 594.6,97.72 594.68,115.37 594.77,112.77 594.85,106.91 594.94,106.06 595.03,102.95 595.11,87.39 595.2,95.18 595.28,127.86 595.37,107.57 595.46,109.85 595.54,138.88 595.63,114.6 595.71,112.07 595.8,117.9 595.89,134.39 595.97,112.35 596.06,117.1 596.14,127.34 596.23,124.4 596.32,123.88 596.4,119.05 596.49,120.38 596.57,147.36 596.66,145.24 596.75,135.28 596.83,129.25 596.92,135.34 597,133.14 597.09,138.57 597.18,142.25 597.26,132.87 597.35,132.49 597.43,139.69 597.52,147.21 597.61,145.86 597.69,141.36 597.78,142.73 597.86,139.52 597.95,132.92 598.03,148.53 598.12,141.96 598.21,154.53 598.29,148.25 598.38,148.08 598.47,151.77 598.55,150.87 598.64,152.51 598.72,151.23 598.81,150.42 598.9,149.28 598.98,148.96 599.07,153.89 599.15,150.23 599.24,152.43 599.33,156.52 599.41,155.72 599.5,154.26 599.58,153.71 599.67,149.34 599.76,149.92 599.84,156.54 599.93,154.19 600.01,148.33 600.1,152.19 600.19,152.7 600.27,153.63 600.36,153.2 600.44,152.18 600.53,150.23 600.62,148.86 600.7,144.06 600.79,150.39 600.87,144.74 600.96,148.46 601.05,144.82 601.13,138.62 601.22,140.87 601.3,130.9 601.39,129.62 601.48,130.25 601.56,138.55 601.65,132.08 601.73,135.93 601.82,136.7 601.9,117.52 601.99,123.14 602.08,127.42 602.16,126.62 602.25,120.82 602.34,121.1 602.42,135.68 602.51,126.28 602.59,111.17 602.68,117.9 602.77,123.99 602.85,114.92 602.94,129.23 603.02,115.64 603.11,100.79 603.19,100.66 603.28,108.66 603.37,115.41 603.45,126.68 603.54,118.76 603.63,121.39 603.71,93.91 603.8,131.64 603.88,109.03 603.97,129.54 604.06,111.42 604.14,128.53 604.23,125.76 604.31,110.89 604.4,131.32 604.49,103.87 604.57,112.17 604.66,106.75 604.74,105.97 604.83,126.75 604.92,106.75 605,118.74 605.09,103.22 605.17,101.24 605.26,102.77 605.35,122.03 605.43,132.54 605.52,107.96 605.6,106.14 605.69,118.3 605.77,128.63 605.86,110.72 605.95,109.15 606.03,88.19 606.12,140.76 606.21,125.38 606.29,116.47 606.38,118.68 606.46,114.64 606.55,137.9 606.64,131.91 606.72,128.82 606.81,124.89 606.89,142.44 606.98,137.24 607.07,150.76 607.15,144.43 607.24,148.08 607.32,150.31 607.41,143.85 607.5,148.04 607.58,139.69 607.67,136.15 607.75,140.48 607.84,146.32 607.93,146.43 608.01,144.88 608.1,145.91 608.18,146.09 608.27,151.52 608.36,143.63 608.44,149.08 608.53,146.35 608.61,145.03 608.7,145.61 608.79,152.76 608.87,152.94 608.96,146.32 609.04,151.06 609.13,150.79 609.22,152.05 609.3,145.87 609.39,151.51 609.47,151.14 609.56,152.65 609.64,153.93 609.73,151.44 609.82,151.52 609.9,153 609.99,152.04 610.08,152.4 610.16,151.63 610.25,156.44 610.33,157.5 610.42,155.81 610.51,153.26 610.59,150.93 610.68,150.09 610.76,154.09 610.85,150.27 610.93,153.51 611.02,152.78 611.11,152.58 611.19,149.11 611.28,148.57 611.37,157.5 611.45,148.24 611.54,143.09 611.62,144.58 611.71,139.49 611.8,138.94 611.88,140.21 611.97,139.88 612.05,138.11 612.14,134.74 612.23,136.77 612.31,107.25 612.4,118.17 612.48,139.02 612.57,126.31 612.66,125.35 612.74,120.64 612.83,132.98 612.91,122.33 613,88.32 613.09,96.07 613.17,105.22 613.26,79.7 613.34,109.56 613.43,98.75 613.51,89.63 613.6,90.21 613.69,106.29 613.77,100.85 613.86,76.14 613.95,102.7 614.03,75.43 614.12,85.92 614.2,87.26 614.29,114.19 614.38,93.48 614.46,113.7 614.55,72.03 614.63,74.47 614.72,107.25 614.81,105.92 614.89,80.86 614.98,84.33 615.06,85.25 615.15,80.22 615.24,86.78 615.32,95.75 615.41,69.69 615.49,83.32 615.58,51.64 615.67,88.86 615.75,98.53 615.84,95.14 615.92,84.7 616.01,79.2 616.1,97.17 616.18,82.94 616.27,108.75 616.35,126.5 616.44,138.06 616.53,118.28 616.61,108.14 616.7,90.73 616.78,84.57 616.87,96.33 616.96,111.05 617.04,108.6 617.13,126.3 617.21,101.89 617.3,95.27 617.38,110.82 617.47,102.58 617.56,116.36 617.64,118.43 617.73,119.16 617.82,130.34 617.9,132.39 617.99,131.82 618.07,121.57 618.16,127.61 618.25,142.39 618.33,137.35 618.42,118.16 618.5,121.63 618.59,114.7 618.67,134.57 618.76,121.85 618.85,141.46 618.93,140.92 619.02,138.58 619.11,124.54 619.19,130.38 619.28,139.66 619.36,145.93 619.45,141.55 619.54,135.46 619.62,140.02 619.71,140.54 619.79,144.14 619.88,145.17 619.97,142.16 620.05,145.12 620.14,149.55 620.22,156.26 620.31,155.37 620.4,153.33 620.48,144.08 620.57,147.06 620.65,148.2 620.74,151.35 620.83,152.33 620.91,147.53 621,153.86 621.08,153.16 621.17,151.34 621.25,155.75 621.34,153.18 621.43,148.57 621.51,148.49 621.6,149.07 621.69,151.96 621.77,150.27 621.86,141.37 621.94,144.89 622.03,143.81 622.12,149.42 622.2,143.09 622.29,148.66 622.37,140.5 622.46,144.88 622.55,123.69 622.63,123.18 622.72,134.49 622.8,124.36 622.89,112.35 622.98,98.93 623.06,103.69 623.15,93.36 623.23,107.06 623.32,94.06 623.41,104.67 623.49,91.23 623.58,66.27 623.66,84.02 623.75,97.49 623.84,112.87 623.92,66.51 624.01,88.15 624.09,77.11 624.18,92.02 624.27,81.35 624.35,65.3 624.44,66.15 624.52,76.16 624.61,48.59 624.7,66.96 624.78,71.01 624.87,88.08 624.95,88.13 625.04,76.57 625.12,121.11 625.21,92.42 625.3,85.95 625.38,86.08 625.47,88.05 625.56,66.81 625.64,99.24 625.73,108.84 625.81,123.67 625.9,105.9 625.99,73.77 626.07,78.49 626.16,79.21 626.24,65.09 626.33,96.82 626.41,94.11 626.5,73.62 626.59,71.05 626.67,82.86 626.76,123.78 626.85,119.17 626.93,96.01 627.02,99.56 627.1,92.07 627.19,100.02 627.28,101.7 627.36,104.93 627.45,113.56 627.53,99.23 627.62,113.45 627.71,112.78 627.79,103.64 627.88,120.62 627.96,110.55 628.05,130.11 628.14,117.39 628.22,116.92 628.31,98.25 628.39,98.76 628.48,114.29 628.57,96.81 628.65,120.45 628.74,119.41 628.82,118.61 628.91,137.67 629,131.98 629.08,129.42 629.17,122.46 629.25,136.09 629.34,142.4 629.43,141.12 629.51,129.75 629.6,132.62 629.68,137.24 629.77,142.11 629.86,143.08 629.94,148.08 630.03,148.8 630.11,143.33 630.2,147.43 630.28,150.59 630.37,137.5 630.46,150.07 630.54,146.88 630.63,148.49 630.72,150.87 630.8,148.41 630.89,154.55 630.97,152.53 631.06,156.84 631.15,150.42 631.23,154.65 631.32,153.15 631.4,153.4 631.49,157.5 631.58,155.18 631.66,154.27 631.75,152.52 631.83,151.79 631.92,154.54 632.01,152.75 632.09,150.03 632.18,146.37 632.26,145.98 632.35,151.92 632.44,143.92 632.52,147.94 632.61,142.63 632.69,133.6 632.78,145.78 632.87,129.29 632.95,124.16 633.04,139.9 633.12,104.02 633.21,99.09 633.3,92.99 633.38,106.22 633.47,106.9 633.55,59.76 633.64,75.05 633.73,63.47 633.81,74.19 633.9,71.59 633.98,57.45 634.07,65.59 634.15,65.38 634.24,72.3 634.33,52.98 634.41,65.2 634.5,43.23 634.59,57.49 634.67,79.68 634.76,51.82 634.84,44.25 634.93,20.41 635.02,93.49 635.1,60.37 635.19,60.91 635.27,51.24 635.36,46.71 635.44,76.75 635.53,47.64 635.62,55.12 635.7,53.43 635.79,57.23 635.88,58.32 635.96,50.08 636.05,41.12 636.13,84.74 636.22,86.34 636.31,85.93 636.39,129.18 636.48,96.51 636.56,99.62 636.65,76.18 636.74,69.6 636.82,77.54 636.91,88.32 636.99,100.63 637.08,71.49 637.17,72 637.25,47.13 637.34,91.35 637.42,72.93 637.51,110.1 637.6,86.29 637.68,98.37 637.77,129.31 637.85,99.55 637.94,84.26 638.02,92.12 638.11,113.95 638.2,118.84 638.28,123.4 638.37,122.5 638.46,113.23 638.54,114.59 638.63,104.98 638.71,134.8 638.8,117.09 638.89,126.73 638.97,128.41 639.06,126.25 639.14,130.34 639.23,133.03 639.32,137.47 639.4,142.6 639.49,129.96 639.57,136.88 639.66,134.91 639.75,137.41 639.83,139.59 639.92,141.96 640,139.82 640.09,134.68 640.18,136.41 640.26,129.6 640.35,146.32 640.43,146.7 640.52,149.21 640.61,144.31 640.69,145.33 640.78,147.29 640.86,143.65 640.95,138.11 641.04,136.26 641.12,132.03 641.21,145.89 641.29,149.95 641.38,147.98 641.47,143.76 641.55,147.97 641.64,148.25 641.72,153.53 641.81,149.86 641.89,147.92 641.98,153.27 642.07,153.66 642.15,152.89 642.24,153.3 642.33,147.11 642.41,147.97 642.5,151.14 642.58,150.46 642.67,154.38 642.76,152.85 642.84,148.57 642.93,150.07 643.01,151.04 643.1,150.77 643.18,145.06 643.27,146.17 643.36,151.69 643.44,148.84 643.53,137.82 643.62,139.97 643.7,137.68 643.79,126.69 643.87,129.54 643.96,143.21 644.05,126.99 644.13,132.15 644.22,124.61 644.3,102.42 644.39,100.69 644.48,113.44 644.56,109.64 644.65,123.94 644.73,109.83 644.82,116.46 644.91,118.26 644.99,104.15 645.08,103.47 645.16,113.72 645.25,119.79 645.34,116.87 645.42,100.99 645.51,98.5 645.59,110.47 645.68,100.18 645.76,97.66 645.85,96.64 645.94,101.03 646.02,100.89 646.11,102.26 646.2,104.5 646.28,106.95 646.37,98.87 646.45,106.63 646.54,103.02 646.63,106.65 646.71,94.85 646.8,107.08 646.88,83.62 646.97,98.71 647.06,97.17 647.14,100.35 647.23,103.13 647.31,100.93 647.4,95.19 647.49,97.52 647.57,100.05 647.66,106.73 647.74,105.52 647.83,102.81 647.92,95.49 648,96.36 648.09,100.49 648.17,107 648.26,106.85 648.35,102.57 648.43,115.42 648.52,111.01 648.6,96.22 648.69,110.06 648.78,104.43 648.86,102.86 648.95,106.11 649.03,125.36 649.12,125.2 649.21,137.18 649.29,117.17 649.38,126.9 649.46,134.9 649.55,135.57 649.63,134.33 649.72,123.81 649.81,100.47 649.89,103.9 649.98,121.07 650.07,118.02 650.15,132.23 650.24,122.02 650.32,133.49 650.41,135.91 650.5,112.58 650.58,130.19 650.67,126.62 650.75,130.25 650.84,134.91 650.92,117.82 651.01,126.58 651.1,141.6 651.18,121.84 651.27,125.12 651.36,127.81 651.44,127.75 651.53,133.6 651.61,134.02 651.7,132.55 651.79,134.63 651.87,141.45 651.96,146.55 652.04,139.63 652.13,145.54 652.22,138.95 652.3,148.39 652.39,142.28 652.47,138.89 652.56,132.58 652.65,140.46 652.73,140.58 652.82,142.01 652.9,144.49 652.99,143.68 653.08,145.24 653.16,144.04 653.25,141.97 653.33,152.29 653.42,148.09 653.5,149.75 653.59,149.39 653.68,152.77 653.76,152.65 653.85,155.91 653.94,150.29 654.02,153.64 654.11,154.32 654.19,151.66 654.28,153.68 654.37,150.12 654.45,146.82 654.54,149.2 654.62,146.45 654.71,150.01 654.8,147.75 654.88,148.25 654.97,149 655.05,153.03 655.14,146.83 655.23,151.07 655.31,142.22 655.4,147.48 655.48,146.81 655.57,136.82 655.66,135.29 655.74,143.12 655.83,123.99 655.91,127.86 656,117.66 656.09,121.48 656.17,114.82 656.26,104.4 656.34,111.13 656.43,101.78 656.52,98.87 656.6,113.42 656.69,105.91 656.77,127.43 656.86,105 656.95,73.73 657.03,74.51 657.12,83.15 657.2,75.08 657.29,106.43 657.38,84.48 657.46,82.88 657.55,93.93 657.63,73.45 657.72,74.86 657.81,55.45 657.89,105.52 657.98,100.53 658.06,80.14 658.15,71.32 658.24,80.6 658.32,83.72 658.41,75.52 658.49,94.53 658.58,85.32 658.66,88.96 658.75,80.28 658.84,79.31 658.92,86.44 659.01,80.3 659.1,73.24 659.18,84.8 659.27,85.07 659.35,92.25 659.44,94.73 659.53,74.75 659.61,81.93 659.7,105.82 659.78,83.66 659.87,101.93 659.96,94.38 660.04,84.32 660.13,115.48 660.21,112.9 660.3,116.33 660.39,97.52 660.47,95.04 660.56,85.75 660.64,102.09 660.73,102.82 660.82,99.37 660.9,126.89 660.99,108.38 661.07,92.61 661.16,119.48 661.25,134.16 661.33,121.37 661.42,107.18 661.5,107.13 661.59,117.37 661.68,103.59 661.76,136.14 661.85,129.13 661.93,132.03 662.02,127.99 662.11,131.45 662.19,117.02 662.28,136.22 662.36,123.07 662.45,121.9 662.53,130.28 662.62,131.27 662.71,133.97 662.79,144.6 662.88,137.45 662.97,146.19 663.05,139.83 663.14,143.92 663.22,140.75 663.31,141.84 663.4,146.06 663.48,148.58 663.57,150.82 663.65,150.2 663.74,154.14 663.83,152.64 663.91,151.58 664,155.25 664.08,152.27 664.17,155.56 664.26,149.57 664.34,154.81 664.43,154.81 664.51,153.76 664.6,148.84 664.69,150.61 664.77,151.39 664.86,155.32 664.94,157.5 665.03,152.52 665.12,150.61 665.2,149.33 665.29,153.85 665.37,145.75 665.46,146.85 665.55,143.52 665.63,154.68 665.72,148.16 665.8,139.72 665.89,141.23 665.98,139.95 666.06,133.7 666.15,138.2 666.23,130.24 666.32,131.21 666.4,132.17 666.49,129.41 666.58,126.61 666.66,130.37 666.75,102.58 666.84,99.25 666.92,104.1 667.01,112.64 667.09,83.49 667.18,82.9 667.27,92.25 667.35,90.07 667.44,92.24 667.52,84.27 667.61,105.97 667.69,68.55 667.78,85.44 667.87,65.81 667.95,118.36 668.04,101.22 668.13,79.42 668.21,48.59 668.3,85.15 668.38,92.4 668.47,88.18 668.56,90.83 668.64,73.94 668.73,67.63 668.81,94.52 668.9,72.98 668.99,75.42 669.07,92.8 669.16,68.25 669.24,89.62 669.33,82.51 669.42,73.42 669.5,99.27 669.59,107.61 669.67,86.72 669.76,98.46 669.85,78.58 669.93,93.87 670.02,92.6 670.1,99.58 670.19,104.86 670.27,69.29 670.36,86.64 670.45,80.79 670.53,90.59 670.62,105.85 670.71,102.84 670.79,81.23 670.88,124.37 670.96,120.36 671.05,111.04 671.14,98.29 671.22,103.86 671.31,83.95 671.39,96.06 671.48,125.86 671.57,132.83 671.65,125.51 671.74,127.06 671.82,119.09 671.91,136.05 672,124.51 672.08,114.56 672.17,117.29 672.25,135.28 672.34,132.79 672.43,138.08 672.51,134.84 672.6,147.07 672.68,146.2 672.77,142.68 672.86,139.81 672.94,144.44 673.03,145.41 673.11,151.58 673.2,138.31 673.29,139.38 673.37,143.15 673.46,146.81 673.54,147.81 673.63,145.49 673.72,148.87 673.8,144.42 673.89,148.24 673.97,152.28 674.06,155.81 674.14,151.23 674.23,150.62 674.32,157.5 674.4,152.95 674.49,153.79 674.58,152.79 674.66,157.5 674.75,157.5 674.83,151.2 674.92,150.63 675.01,151.3 675.09,154.8 675.18,147.65 675.26,152.06 675.35,149.99 675.43,151.5 675.52,152.26 675.61,148.17 675.69,149.36 675.78,146.85 675.87,149.91 675.95,150.23 676.04,144.93 676.12,146.2 676.21,144.04 676.3,146.72 676.38,133.17 676.47,137.13 676.55,139.84 676.64,131.12 676.73,125.46 676.81,128.73 676.9,135.63 676.98,115.53 677.07,133.42 677.16,116.38 677.24,123.01 677.33,125.63 677.41,126.99 677.5,127.59 677.59,97.46 677.67,95.24 677.76,101.07 677.84,93.31 677.93,116.54 678.01,90.77 678.1,119.33 678.19,120.43 678.27,108.21 678.36,91.83 678.45,99.32 678.53,113.86 678.62,100.57 678.7,113.9 678.79,120.88 678.88,111.05 678.96,87.67 679.05,99.9 679.13,107.62 679.22,109.39 679.31,92.74 679.39,95.47 679.48,91.54 679.56,92.29 679.65,119.17 679.74,118.88 679.82,94.97 679.91,125.41 679.99,106.94 680.08,64.2 680.17,114.66 680.25,103.92 680.34,132.5 680.42,95.76 680.51,112.69 680.6,85.13 680.68,118.74 680.77,110.36 680.85,86.06 680.94,90.96 681.03,104.53 681.11,105.43 681.2,87.64 681.28,111.59 681.37,101.97 681.46,90.14 681.54,92.36 681.63,106.93 681.71,102.94 681.8,130.54 681.88,114.99 681.97,122.86 682.06,132 682.14,135.32 682.23,125.04 682.32,124.25 682.4,120.19 682.49,119.18 682.57,117.48 682.66,123.22 682.75,124.97 682.83,109.85 682.92,119.65 683,126.54 683.09,127.59 683.17,134.64 683.26,139.16 683.35,143.25 683.43,137.76 683.52,137.44 683.61,131.88 683.69,132.06 683.78,129.2 683.86,140.12 683.95,142.51 684.04,136.92 684.12,148.01 684.21,149.77 684.29,136.26 684.38,135.97 684.47,132.66 684.55,148.5 684.64,149.08 684.72,143.35 684.81,147.81 684.9,140.99 684.98,143.15 685.07,156.89 685.15,144.87 685.24,154.24 685.33,151.49 685.41,150.47 685.5,148.27 685.58,148.88 685.67,156.05 685.75,152.77 685.84,147.95 685.93,149.93 686.01,151.49 686.1,153.3 686.19,151.58 686.27,149.9 686.36,147.59 686.44,146.5 686.53,149.55 686.62,152.28 686.7,157.5 686.79,155.57 686.87,155.42 686.96,154.15 687.05,155.33 687.13,156.73 687.22,154.83 687.3,157.5 687.39,154.7 687.48,155 687.56,152.32 687.65,157.5 687.73,157.5 687.82,157.1 687.91,157.5 687.99,153.83 688.08,153.47 688.16,157.32 688.25,154.65 688.34,155.42 688.42,155.72 688.51,154.79 688.59,157.5 688.68,154.22 688.77,151.46 688.85,154.74 688.94,153.17 689.02,153.35 689.11,155.18 689.2,151.07 689.28,151.56 689.37,154.42 689.45,148.81 689.54,144.28 689.62,148.13 689.71,141.39 689.8,133.89 689.88,133.57 689.97,155.35 690.06,136.15 690.14,148.82 690.23,143.1 690.31,131.16 690.4,132.33 690.49,133.63 690.57,137.56 690.66,120.78 690.74,115.05 690.83,131.31 690.91,128.45 691,123.62 691.09,110.85 691.17,119.43 691.26,115.02 691.35,125.83 691.43,127.92 691.52,139.78 691.6,129.08 691.69,110.55 691.78,116.99 691.86,126.75 691.95,119.24 692.03,114.07 692.12,112.33 692.2,122.92 692.29,122.05 692.38,136.6 692.46,114.51 692.55,110.44 692.64,122.24 692.72,134.17 692.81,117.75 692.89,126.78 692.98,119.56 693.07,119.38 693.15,128.76 693.24,130.08 693.32,101.9 693.41,122.11 693.5,121.84 693.58,131.06 693.67,117.48 693.75,119.64 693.84,117.6 693.93,129.26 694.01,144.37 694.1,135.99 694.18,122.76 694.27,136.19 694.36,134 694.44,143.94 694.53,129.25 694.61,134.08 694.7,134.52 694.79,128.49 694.87,132.84 694.96,139.87 695.04,141.22 695.13,129.8 695.22,135.94 695.3,138.11 695.39,143.73 695.47,139.65 695.56,142.19 695.65,142.54 695.73,139.57 695.82,143.21 695.9,146.01 695.99,143.7 696.08,143.86 696.16,151.9" fill="none" stroke="#151515" stroke-width="1.3" stroke-linejoin="round"/>
<path d="M54.5,222.5H699.5V372.5" fill="none" stroke="#a0a0a0" stroke-width="1"/><path d="M54.5,222.5V372.5H699.5" fill="none" stroke="#c4c4c4" stroke-width="1"/>
<path d="M49.5,372.4H59" stroke="#d0d0d0" stroke-width="1"/>
<text x="42.8" y="377.6" text-anchor="end" font-family="Liberation Serif" font-size="15.5">0</text>
<path d="M49.5,347.4H59" stroke="#d0d0d0" stroke-width="1"/>
<text x="42.8" y="352.6" text-anchor="end" font-family="Liberation Serif" font-size="15.5">100</text>
<path d="M49.5,322.4H59" stroke="#d0d0d0" stroke-width="1"/>
<text x="42.8" y="327.6" text-anchor="end" font-family="Liberation Serif" font-size="15.5">200</text>
<path d="M49.5,297.4H59" stroke="#d0d0d0" stroke-width="1"/>
<text x="42.8" y="302.6" text-anchor="end" font-family="Liberation Serif" font-size="15.5">300</text>
<path d="M49.5,272.4H59" stroke="#d0d0d0" stroke-width="1"/>
<text x="42.8" y="277.6" text-anchor="end" font-family="Liberation Serif" font-size="15.5">400</text>
<path d="M49.5,247.4H59" stroke="#d0d0d0" stroke-width="1"/>
<text x="42.8" y="252.6" text-anchor="end" font-family="Liberation Serif" font-size="15.5">500</text>
<path d="M49.5,222.4H59" stroke="#d0d0d0" stroke-width="1"/>
<text x="42.8" y="227.6" text-anchor="end" font-family="Liberation Serif" font-size="15.5">600</text>
<path d="M54,368V377" stroke="#d0d0d0" stroke-width="1"/>
<text x="54" y="395" text-anchor="middle" font-family="Liberation Serif" font-size="15.5">1815</text>
<path d="M132.75,368V377" stroke="#d0d0d0" stroke-width="1"/>
<text x="132.75" y="395" text-anchor="middle" font-family="Liberation Serif" font-size="15.5">1840</text>
<path d="M211.5,368V377" stroke="#d0d0d0" stroke-width="1"/>
<text x="211.5" y="395" text-anchor="middle" font-family="Liberation Serif" font-size="15.5">1865</text>
<path d="M290.25,368V377" stroke="#d0d0d0" stroke-width="1"/>
<text x="290.25" y="395" text-anchor="middle" font-family="Liberation Serif" font-size="15.5">1890</text>
<path d="M369,368V377" stroke="#d0d0d0" stroke-width="1"/>
<text x="369" y="395" text-anchor="middle" font-family="Liberation Serif" font-size="15.5">1915</text>
<path d="M447.75,368V377" stroke="#d0d0d0" stroke-width="1"/>
<text x="447.75" y="395" text-anchor="middle" font-family="Liberation Serif" font-size="15.5">1940</text>
<path d="M526.5,368V377" stroke="#d0d0d0" stroke-width="1"/>
<text x="526.5" y="395" text-anchor="middle" font-family="Liberation Serif" font-size="15.5">1965</text>
<path d="M605.25,368V377" stroke="#d0d0d0" stroke-width="1"/>
<text x="605.25" y="395" text-anchor="middle" font-family="Liberation Serif" font-size="15.5">1990</text>
<path d="M684,368V377" stroke="#d0d0d0" stroke-width="1"/>
<text x="684" y="395" text-anchor="middle" font-family="Liberation Serif" font-size="15.5">2015</text>
<path d="M63.65,327.24 64.15,327.24 64.15,330.34 64.65,330.34 64.65,327.2 65.15,327.2 65.15,332.29 65.65,332.29 65.65,334.79 66.15,334.79 66.15,332.53 66.65,332.53 66.65,336.39 67.15,336.39 67.15,343.76 67.65,343.76 67.65,331 68.15,331 68.15,324.25 68.65,324.25 68.65,339.92 69.15,339.92 69.15,337.6 69.65,337.6 69.65,342.73 70.15,342.73 70.15,345.29 70.65,345.29 70.65,345.48 71.15,345.48 71.15,346.08 71.65,346.08 71.65,347.26 72.15,347.26 72.15,341 72.65,341 72.65,347.54 73.15,347.54 73.15,351.31 73.65,351.31 73.65,352.85 74.15,352.85 74.15,354.95 74.65,354.95 74.65,354.52 75.15,354.52 75.15,351.99 75.65,351.99 75.65,349.87 76.15,349.87 76.15,351.56 76.65,351.56 76.65,353.88 77.15,353.88 77.15,358.8 77.65,358.8 77.65,359.5 78.15,359.5 78.15,362.49 78.65,362.49 78.65,364.11 79.15,364.11 79.15,366.59 79.65,366.59 79.65,366.29 80.15,366.29 80.15,364.03 80.65,364.03 80.65,360.95 81.15,360.95 81.15,358.09 81.65,358.09 81.65,358.53 82.15,358.53 82.15,360.83 82.65,360.83 82.65,359.07 83.15,359.07 83.15,356.01 83.65,356.01 83.65,343.58 84.15,343.58 84.15,347.15 84.65,347.15 84.65,348.07 85.15,348.07 85.15,344.38 85.65,344.38 85.65,334.98 86.15,334.98 86.15,335.25 86.65,335.25 86.65,336.98 87.15,336.98 87.15,337.89 87.65,337.89 87.65,339.95 88.15,339.95 88.15,334.87 88.65,334.87 88.65,337.97 89.15,337.97 89.15,337.71 89.65,337.71 89.65,335.01 90.15,335.01 90.15,337.03 90.65,337.03 90.65,327.87 91.15,327.87 91.15,325.2 91.65,325.2 91.65,331.84 92.15,331.84 92.15,333.89 92.65,333.89 92.65,322.27 93.15,322.27 93.15,328.22 93.65,328.22 93.65,320.28 94.15,320.28 94.15,320.68 94.65,320.68 94.65,325.79 95.15,325.79 95.15,320.21 95.65,320.21 95.65,328.23 96.15,328.23 96.15,326.46 96.65,326.46 96.65,319.7 97.15,319.7 97.15,310.48 97.65,310.48 97.65,317.61 98.15,317.61 98.15,325.95 98.65,325.95 98.65,322.46 99.15,322.46 99.15,326.45 99.65,326.45 99.65,310.25 100.15,310.25 100.15,323.23 100.65,323.23 100.65,308.97 101.15,308.97 101.15,308.08 101.65,308.08 101.65,316.62 102.15,316.62 102.15,309.21 102.65,309.21 102.65,312.26 103.15,312.26 103.15,307.43 103.65,307.43 103.65,307.2 104.15,307.2 104.15,309.55 104.65,309.55 104.65,313.63 105.15,313.63 105.15,314 105.65,314 105.65,314.16 106.15,314.16 106.15,315.13 106.65,315.13 106.65,321.64 107.15,321.64 107.15,316.41 107.65,316.41 107.65,320.58 108.15,320.58 108.15,324.04 108.65,324.04 108.65,334.46 109.15,334.46 109.15,338.23 109.65,338.23 109.65,338.41 110.15,338.41 110.15,343.65 110.65,343.65 110.65,342.19 111.15,342.19 111.15,349.78 111.65,349.78 111.65,352.5 112.15,352.5 112.15,356.7 112.65,356.7 112.65,357.18 113.15,357.18 113.15,356.63 113.65,356.63 113.65,356.75 114.15,356.75 114.15,355.1 114.65,355.1 114.65,352.55 115.15,352.55 115.15,349.61 115.65,349.61 115.65,344.61 116.15,344.61 116.15,337.01 116.65,337.01 116.65,332.58 117.15,332.58 117.15,331.88 117.65,331.88 117.65,323.18 118.15,323.18 118.15,316.22 118.65,316.22 118.65,311.42 119.15,311.42 119.15,310.87 119.65,310.87 119.65,292.59 120.15,292.59 120.15,301.99 120.65,301.99 120.65,298.85 121.15,298.85 121.15,304.14 121.65,304.14 121.65,302.71 122.15,302.71 122.15,286.35 122.65,286.35 122.65,286.91 123.15,286.91 123.15,270.61 123.65,270.61 123.65,273.54 124.15,273.54 124.15,280.52 124.65,280.52 124.65,283.03 125.15,283.03 125.15,280.61 125.65,280.61 125.65,277.14 126.15,277.14 126.15,285.15 126.65,285.15 126.65,284.23 127.15,284.23 127.15,273.21 127.65,273.21 127.65,276.7 128.15,276.7 128.15,292.4 128.65,292.4 128.65,278.2 129.15,278.2 129.15,295.83 129.65,295.83 129.65,298.26 130.15,298.26 130.15,292.27 130.65,292.27 130.65,300.66 131.15,300.66 131.15,313.41 131.65,313.41 131.65,315.59 132.15,315.59 132.15,305.14 132.65,305.14 132.65,314.85 133.15,314.85 133.15,306.89 133.65,306.89 133.65,317.8 134.15,317.8 134.15,322.73 134.65,322.73 134.65,321.44 135.15,321.44 135.15,316.35 135.65,316.35 135.65,317.06 136.15,317.06 136.15,322.04 136.65,322.04 136.65,324.05 137.15,324.05 137.15,329.05 137.65,329.05 137.65,326.83 138.15,326.83 138.15,330.23 138.65,330.23 138.65,336.54 139.15,336.54 139.15,342.86 139.65,342.86 139.65,341.32 140.15,341.32 140.15,345.51 140.65,345.51 140.65,347.28 141.15,347.28 141.15,350.26 141.65,350.26 141.65,348.5 142.15,348.5 142.15,348.31 142.65,348.31 142.65,347.53 143.15,347.53 143.15,351.43 143.65,351.43 143.65,351.16 144.15,351.16 144.15,351.4 144.65,351.4 144.65,351.56 145.15,351.56 145.15,353.39 145.65,353.39 145.65,352.16 146.15,352.16 146.15,348.31 146.65,348.31 146.65,344.93 147.15,344.93 147.15,339.74 147.65,339.74 147.65,340.47 148.15,340.47 148.15,337.28 148.65,337.28 148.65,325.46 149.15,325.46 149.15,327.04 149.65,327.04 149.65,325.58 150.15,325.58 150.15,318.36 150.65,318.36 150.65,325.97 151.15,325.97 151.15,322.91 151.65,322.91 151.65,319.58 152.15,319.58 152.15,307.04 152.65,307.04 152.65,311.22 153.15,311.22 153.15,321.6 153.65,321.6 153.65,302.16 154.15,302.16 154.15,303.95 154.65,303.95 154.65,304.88 155.15,304.88 155.15,307.56 155.65,307.56 155.65,305.62 156.15,305.62 156.15,302.07 156.65,302.07 156.65,297.37 157.15,297.37 157.15,295.67 157.65,295.67 157.65,286.08 158.15,286.08 158.15,284.72 158.65,284.72 158.65,280.87 159.15,280.87 159.15,284.5 159.65,284.5 159.65,282.34 160.15,282.34 160.15,281.47 160.65,281.47 160.65,290.18 161.15,290.18 161.15,292.54 161.65,292.54 161.65,294.66 162.15,294.66 162.15,302.69 162.65,302.69 162.65,285.28 163.15,285.28 163.15,295.22 163.65,295.22 163.65,299.69 164.15,299.69 164.15,300.26 164.65,300.26 164.65,302.01 165.15,302.01 165.15,303.03 165.65,303.03 165.65,303.82 166.15,303.82 166.15,309.95 166.65,309.95 166.65,313.59 167.15,313.59 167.15,316.14 167.65,316.14 167.65,312.03 168.15,312.03 168.15,318.56 168.65,318.56 168.65,315.09 169.15,315.09 169.15,313.77 169.65,313.77 169.65,312.9 170.15,312.9 170.15,321.62 170.65,321.62 170.65,312.53 171.15,312.53 171.15,308.78 171.65,308.78 171.65,313.16 172.15,313.16 172.15,330.24 172.65,330.24 172.65,331.29 173.15,331.29 173.15,324.83 173.65,324.83 173.65,330.35 174.15,330.35 174.15,336.32 174.65,336.32 174.65,324.01 175.15,324.01 175.15,331.54 175.65,331.54 175.65,334.5 176.15,334.5 176.15,330.91 176.65,330.91 176.65,337.3 177.15,337.3 177.15,339.31 177.65,339.31 177.65,342.79 178.15,342.79 178.15,346.01 178.65,346.01 178.65,350.83 179.15,350.83 179.15,344.81 179.65,344.81 179.65,344.91 180.15,344.91 180.15,346.14 180.65,346.14 180.65,347.88 181.15,347.88 181.15,352.66 181.65,352.66 181.65,354.12 182.15,354.12 182.15,355.63 182.65,355.63 182.65,358.51 183.15,358.51 183.15,359.48 183.65,359.48 183.65,359.63 184.15,359.63 184.15,358.39 184.65,358.39 184.65,357.38 185.15,357.38 185.15,356.41 185.65,356.41 185.65,351.85 186.15,351.85 186.15,353.01 186.65,353.01 186.65,348.45 187.15,348.45 187.15,347.77 187.65,347.77 187.65,338.39 188.15,338.39 188.15,339.61 188.65,339.61 188.65,328.14 189.15,328.14 189.15,323.49 189.65,323.49 189.65,314.03 190.15,314.03 190.15,304.44 190.65,304.44 190.65,307.16 191.15,307.16 191.15,304.46 191.65,304.46 191.65,299.5 192.15,299.5 192.15,299.08 192.65,299.08 192.65,303.94 193.15,303.94 193.15,303.27 193.65,303.27 193.65,297.75 194.15,297.75 194.15,301.18 194.65,301.18 194.65,287.54 195.15,287.54 195.15,288.48 195.65,288.48 195.65,296.95 196.15,296.95 196.15,301.69 196.65,301.69 196.65,303.73 197.15,303.73 197.15,294.54 197.65,294.54 197.65,306.36 198.15,306.36 198.15,305.33 198.65,305.33 198.65,293.18 199.15,293.18 199.15,291.58 199.65,291.58 199.65,299.81 200.15,299.81 200.15,305.98 200.65,305.98 200.65,305.91 201.15,305.91 201.15,312.08 201.65,312.08 201.65,309.5 202.15,309.5 202.15,308.09 202.65,308.09 202.65,318.97 203.15,318.97 203.15,307.6 203.65,307.6 203.65,308.88 204.15,308.88 204.15,325.41 204.65,325.41 204.65,315.96 205.15,315.96 205.15,312.81 205.65,312.81 205.65,323.32 206.15,323.32 206.15,325.58 206.65,325.58 206.65,321.26 207.15,321.26 207.15,312.96 207.65,312.96 207.65,319.14 208.15,319.14 208.15,315.9 208.65,315.9 208.65,308.2 209.15,308.2 209.15,317.28 209.65,317.28 209.65,316.96 210.15,316.96 210.15,317.52 210.65,317.52 210.65,319.94 211.15,319.94 211.15,321.03 211.65,321.03 211.65,321.49 212.15,321.49 212.15,327.89 212.65,327.89 212.65,330.71 213.15,330.71 213.15,330.9 213.65,330.9 213.65,331.57 214.15,331.57 214.15,337.38 214.65,337.38 214.65,341.59 215.15,341.59 215.15,341.78 215.65,341.78 215.65,344.47 216.15,344.47 216.15,343.73 216.65,343.73 216.65,348.95 217.15,348.95 217.15,350 217.65,350 217.65,353.23 218.15,353.23 218.15,358.07 218.65,358.07 218.65,356.69 219.15,356.69 219.15,352.52 219.65,352.52 219.65,349.26 220.15,349.26 220.15,345.34 220.65,345.34 220.65,344.3 221.15,344.3 221.15,336.05 221.65,336.05 221.65,342.81 222.15,342.81 222.15,322.38 222.65,322.38 222.65,326.68 223.15,326.68 223.15,320.03 223.65,320.03 223.65,321.39 224.15,321.39 224.15,298 224.65,298 224.65,306.79 225.15,306.79 225.15,317.53 225.65,317.53 225.65,298.85 226.15,298.85 226.15,292.75 226.65,292.75 226.65,286.7 227.15,286.7 227.15,297.06 227.65,297.06 227.65,299.34 228.15,299.34 228.15,291.49 228.65,291.49 228.65,300.22 229.15,300.22 229.15,287.87 229.65,287.87 229.65,288.52 230.15,288.52 230.15,287.88 230.65,287.88 230.65,288.76 231.15,288.76 231.15,274.9 231.65,274.9 231.65,257.97 232.15,257.97 232.15,293.93 232.65,293.93 232.65,292.72 233.15,292.72 233.15,280.9 233.65,280.9 233.65,294.55 234.15,294.55 234.15,297.97 234.65,297.97 234.65,300.21 235.15,300.21 235.15,293.37 235.65,293.37 235.65,299 236.15,299 236.15,307.41 236.65,307.41 236.65,306.15 237.15,306.15 237.15,302.61 237.65,302.61 237.65,306.5 238.15,306.5 238.15,313.48 238.65,313.48 238.65,313.29 239.15,313.29 239.15,315.04 239.65,315.04 239.65,316.57 240.15,316.57 240.15,311.83 240.65,311.83 240.65,318.1 241.15,318.1 241.15,326 241.65,326 241.65,332.87 242.15,332.87 242.15,335.7 242.65,335.7 242.65,339.22 243.15,339.22 243.15,339.75 243.65,339.75 243.65,335.33 244.15,335.33 244.15,340.55 244.65,340.55 244.65,342.13 245.15,342.13 245.15,339.54 245.65,339.54 245.65,338.04 246.15,338.04 246.15,333.98 246.65,333.98 246.65,334.3 247.15,334.3 247.15,346.19 247.65,346.19 247.65,346.62 248.15,346.62 248.15,340.49 248.65,340.49 248.65,348.54 249.15,348.54 249.15,349.52 249.65,349.52 249.65,351.9 250.15,351.9 250.15,347.59 250.65,347.59 250.65,349.59 251.15,349.59 251.15,348.29 251.65,348.29 251.65,351.87 252.15,351.87 252.15,354.61 252.65,354.61 252.65,356.71 253.15,356.71 253.15,356.06 253.65,356.06 253.65,359.01 254.15,359.01 254.15,359.23 254.65,359.23 254.65,359.99 255.15,359.99 255.15,361.01 255.65,361.01 255.65,359.54 256.15,359.54 256.15,361.66 256.65,361.66 256.65,359.15 257.15,359.15 257.15,352.7 257.65,352.7 257.65,353.36 258.15,353.36 258.15,345.98 258.65,345.98 258.65,341.55 259.15,341.55 259.15,341.63 259.65,341.63 259.65,339.41 260.15,339.41 260.15,336.42 260.65,336.42 260.65,337.82 261.15,337.82 261.15,335.21 261.65,335.21 261.65,331.93 262.15,331.93 262.15,330.16 262.65,330.16 262.65,328.36 263.15,328.36 263.15,315.22 263.65,315.22 263.65,310.84 264.15,310.84 264.15,310.82 264.65,310.82 264.65,322.48 265.15,322.48 265.15,323.01 265.65,323.01 265.65,317.81 266.15,317.81 266.15,328.76 266.65,328.76 266.65,325.95 267.15,325.95 267.15,301.1 267.65,301.1 267.65,323.96 268.15,323.96 268.15,320.67 268.65,320.67 268.65,323.74 269.15,323.74 269.15,323.32 269.65,323.32 269.65,324.57 270.15,324.57 270.15,315.8 270.65,315.8 270.65,315.46 271.15,315.46 271.15,315.09 271.65,315.09 271.65,320.88 272.15,320.88 272.15,320.85 272.65,320.85 272.65,325.57 273.15,325.57 273.15,332.91 273.65,332.91 273.65,328.03 274.15,328.03 274.15,327.23 274.65,327.23 274.65,324.01 275.15,324.01 275.15,319.68 275.65,319.68 275.65,320.32 276.15,320.32 276.15,324.2 276.65,324.2 276.65,327.03 277.15,327.03 277.15,329.61 277.65,329.61 277.65,325.71 278.15,325.71 278.15,327.97 278.65,327.97 278.65,332.39 279.15,332.39 279.15,336.34 279.65,336.34 279.65,331.33 280.15,331.33 280.15,333.93 280.65,333.93 280.65,339.18 281.15,339.18 281.15,343.51 281.65,343.51 281.65,347.73 282.15,347.73 282.15,348.76 282.65,348.76 282.65,348.96 283.15,348.96 283.15,350.38 283.65,350.38 283.65,353.87 284.15,353.87 284.15,351.19 284.65,351.19 284.65,356.23 285.15,356.23 285.15,354.23 285.65,354.23 285.65,356.01 286.15,356.01 286.15,358.37 286.65,358.37 286.65,361.36 287.15,361.36 287.15,359.41 287.65,359.41 287.65,362.23 288.15,362.23 288.15,359.68 288.65,359.68 288.65,359.73 289.15,359.73 289.15,360.22 289.65,360.22 289.65,360.88 290.15,360.88 290.15,362.82 290.65,362.82 290.65,361.09 291.15,361.09 291.15,357.59 291.65,357.59 291.65,357.26 292.15,357.26 292.15,355.09 292.65,355.09 292.65,349.81 293.15,349.81 293.15,344.3 293.65,344.3 293.65,340.62 294.15,340.62 294.15,335.59 294.65,335.59 294.65,327.61 295.15,327.61 295.15,316.35 295.65,316.35 295.65,316.93 296.15,316.93 296.15,312.24 296.65,312.24 296.65,311.71 297.15,311.71 297.15,313.53 297.65,313.53 297.65,312.75 298.15,312.75 298.15,289.2 298.65,289.2 298.65,295.99 299.15,295.99 299.15,307.13 299.65,307.13 299.65,303.6 300.15,303.6 300.15,310.75 300.65,310.75 300.65,310.69 301.15,310.69 301.15,307.5 301.65,307.5 301.65,308.09 302.15,308.09 302.15,313.44 302.65,313.44 302.65,311.77 303.15,311.77 303.15,313.57 303.65,313.57 303.65,299.3 304.15,299.3 304.15,294.37 304.65,294.37 304.65,308.67 305.15,308.67 305.15,314.47 305.65,314.47 305.65,302.62 306.15,302.62 306.15,303.8 306.65,303.8 306.65,313.35 307.15,313.35 307.15,307.12 307.65,307.12 307.65,316.63 308.15,316.63 308.15,318.89 308.65,318.89 308.65,315.61 309.15,315.61 309.15,319.76 309.65,319.76 309.65,324.08 310.15,324.08 310.15,333.51 310.65,333.51 310.65,333.4 311.15,333.4 311.15,330.57 311.65,330.57 311.65,333.67 312.15,333.67 312.15,335.69 312.65,335.69 312.65,328.99 313.15,328.99 313.15,332.18 313.65,332.18 313.65,331.87 314.15,331.87 314.15,324.83 314.65,324.83 314.65,330.99 315.15,330.99 315.15,335.08 315.65,335.08 315.65,336.18 316.15,336.18 316.15,332.68 316.65,332.68 316.65,337.44 317.15,337.44 317.15,338.46 317.65,338.46 317.65,339.45 318.15,339.45 318.15,338.8 318.65,338.8 318.65,345.84 319.15,345.84 319.15,342.93 319.65,342.93 319.65,344.87 320.15,344.87 320.15,346.05 320.65,346.05 320.65,342.92 321.15,342.92 321.15,346.39 321.65,346.39 321.65,339.38 322.15,339.38 322.15,341.54 322.65,341.54 322.65,344.28 323.15,344.28 323.15,351.73 323.65,351.73 323.65,351.98 324.15,351.98 324.15,356.21 324.65,356.21 324.65,358.25 325.15,358.25 325.15,359.11 325.65,359.11 325.65,356.83 326.15,356.83 326.15,358.88 326.65,358.88 326.65,358.93 327.15,358.93 327.15,359.76 327.65,359.76 327.65,358.45 328.15,358.45 328.15,356.27 328.65,356.27 328.65,356.53 329.15,356.53 329.15,354.84 329.65,354.84 329.65,354.96 330.15,354.96 330.15,350.98 330.65,350.98 330.65,351.98 331.15,351.98 331.15,347.1 331.65,347.1 331.65,344.46 332.15,344.46 332.15,337.62 332.65,337.62 332.65,334.39 333.15,334.39 333.15,331.24 333.65,331.24 333.65,333.39 334.15,333.39 334.15,319.11 334.65,319.11 334.65,320.85 335.15,320.85 335.15,319.49 335.65,319.49 335.65,315.34 336.15,315.34 336.15,316.76 336.65,316.76 336.65,307.77 337.15,307.77 337.15,310.14 337.65,310.14 337.65,304.65 338.15,304.65 338.15,317.49 338.65,317.49 338.65,298.12 339.15,298.12 339.15,307.53 339.65,307.53 339.65,313.72 340.15,313.72 340.15,299.45 340.65,299.45 340.65,296.05 341.15,296.05 341.15,298.38 341.65,298.38 341.65,306.58 342.15,306.58 342.15,302.59 342.65,302.59 342.65,302.68 343.15,302.68 343.15,305.27 343.65,305.27 343.65,308.48 344.15,308.48 344.15,308.41 344.65,308.41 344.65,317.23 345.15,317.23 345.15,315.42 345.65,315.42 345.65,324.14 346.15,324.14 346.15,321.97 346.65,321.97 346.65,324.37 347.15,324.37 347.15,321.41 347.65,321.41 347.65,320.61 348.15,320.61 348.15,322.06 348.65,322.06 348.65,311.61 349.15,311.61 349.15,304.44 349.65,304.44 349.65,315.73 350.15,315.73 350.15,317.28 350.65,317.28 350.65,317.92 351.15,317.92 351.15,311.76 351.65,311.76 351.65,323.1 352.15,323.1 352.15,321.55 352.65,321.55 352.65,325.69 353.15,325.69 353.15,334.81 353.65,334.81 353.65,337.76 354.15,337.76 354.15,333.13 354.65,333.13 354.65,337.63 355.15,337.63 355.15,341.78 355.65,341.78 355.65,335.8 356.15,335.8 356.15,343.47 356.65,343.47 356.65,346.92 357.15,346.92 357.15,350.37 357.65,350.37 357.65,351.44 358.15,351.44 358.15,352.47 358.65,352.47 358.65,354.35 359.15,354.35 359.15,359.4 359.65,359.4 359.65,360.59 360.15,360.59 360.15,362.34 360.65,362.34 360.65,363.78 361.15,363.78 361.15,363.4 361.65,363.4 361.65,363.43 362.15,363.43 362.15,362.93 362.65,362.93 362.65,362.63 363.15,362.63 363.15,363.83 363.65,363.83 363.65,361.81 364.15,361.81 364.15,360.13 364.65,360.13 364.65,359.7 365.15,359.7 365.15,355.59 365.65,355.59 365.65,355.42 366.15,355.42 366.15,355.6 366.65,355.6 366.65,350.56 367.15,350.56 367.15,348.27 367.65,348.27 367.65,344.81 368.15,344.81 368.15,338.79 368.65,338.79 368.65,333.98 369.15,333.98 369.15,329.9 369.65,329.9 369.65,325.92 370.15,325.92 370.15,324.3 370.65,324.3 370.65,326.48 371.15,326.48 371.15,321.08 371.65,321.08 371.65,311.38 372.15,311.38 372.15,307.98 372.65,307.98 372.65,308.71 373.15,308.71 373.15,312.51 373.65,312.51 373.65,298.18 374.15,298.18 374.15,306.26 374.65,306.26 374.65,293.66 375.15,293.66 375.15,305.34 375.65,305.34 375.65,304.12 376.15,304.12 376.15,306.92 376.65,306.92 376.65,295.82 377.15,295.82 377.15,296.25 377.65,296.25 377.65,289.54 378.15,289.54 378.15,302.1 378.65,302.1 378.65,298 379.15,298 379.15,287.67 379.65,287.67 379.65,296.88 380.15,296.88 380.15,310.53 380.65,310.53 380.65,297.93 381.15,297.93 381.15,298.03 381.65,298.03 381.65,302.77 382.15,302.77 382.15,306.95 382.65,306.95 382.65,306.59 383.15,306.59 383.15,312.98 383.65,312.98 383.65,321.15 384.15,321.15 384.15,317.99 384.65,317.99 384.65,323.62 385.15,323.62 385.15,311.8 385.65,311.8 385.65,318.16 386.15,318.16 386.15,332.77 386.65,332.77 386.65,335.92 387.15,335.92 387.15,336.95 387.65,336.95 387.65,338.64 388.15,338.64 388.15,340.52 388.65,340.52 388.65,341.97 389.15,341.97 389.15,340.96 389.65,340.96 389.65,345.16 390.15,345.16 390.15,346.39 390.65,346.39 390.65,346.93 391.15,346.93 391.15,353.18 391.65,353.18 391.65,351.13 392.15,351.13 392.15,353.04 392.65,353.04 392.65,353.2 393.15,353.2 393.15,354.58 393.65,354.58 393.65,356.79 394.15,356.79 394.15,356.91 394.65,356.91 394.65,356.94 395.15,356.94 395.15,356.11 395.65,356.11 395.65,356.99 396.15,356.99 396.15,355.65 396.65,355.65 396.65,350.74 397.15,350.74 397.15,351.4 397.65,351.4 397.65,349.62 398.15,349.62 398.15,344.97 398.65,344.97 398.65,348.54 399.15,348.54 399.15,342.76 399.65,342.76 399.65,339.62 400.15,339.62 400.15,334.08 400.65,334.08 400.65,332.83 401.15,332.83 401.15,331.15 401.65,331.15 401.65,320.55 402.15,320.55 402.15,325.88 402.65,325.88 402.65,321 403.15,321 403.15,315.44 403.65,315.44 403.65,312.64 404.15,312.64 404.15,309.74 404.65,309.74 404.65,304.49 405.15,304.49 405.15,295.73 405.65,295.73 405.65,301.56 406.15,301.56 406.15,301.31 406.65,301.31 406.65,307.91 407.15,307.91 407.15,308.42 407.65,308.42 407.65,298.73 408.15,298.73 408.15,303.48 408.65,303.48 408.65,301.08 409.15,301.08 409.15,309.82 409.65,309.82 409.65,307.48 410.15,307.48 410.15,309.8 410.65,309.8 410.65,306.92 411.15,306.92 411.15,310.26 411.65,310.26 411.65,313.25 412.15,313.25 412.15,308.6 412.65,308.6 412.65,310.66 413.15,310.66 413.15,308.28 413.65,308.28 413.65,324.16 414.15,324.16 414.15,321.27 414.65,321.27 414.65,325.08 415.15,325.08 415.15,324.39 415.65,324.39 415.65,319.3 416.15,319.3 416.15,329.11 416.65,329.11 416.65,331.15 417.15,331.15 417.15,327.96 417.65,327.96 417.65,327.28 418.15,327.28 418.15,335.42 418.65,335.42 418.65,342.36 419.15,342.36 419.15,340.69 419.65,340.69 419.65,345.55 420.15,345.55 420.15,347.19 420.65,347.19 420.65,347.18 421.15,347.18 421.15,350.73 421.65,350.73 421.65,351.87 422.15,351.87 422.15,352.62 422.65,352.62 422.65,355.88 423.15,355.88 423.15,356.65 423.65,356.65 423.65,354.49 424.15,354.49 424.15,358.04 424.65,358.04 424.65,357.25 425.15,357.25 425.15,355.82 425.65,355.82 425.65,356.38 426.15,356.38 426.15,360.87 426.65,360.87 426.65,361.74 427.15,361.74 427.15,361.54 427.65,361.54 427.65,362.79 428.15,362.79 428.15,359.99 428.65,359.99 428.65,357.88 429.15,357.88 429.15,357.61 429.65,357.61 429.65,356.31 430.15,356.31 430.15,354.86 430.65,354.86 430.65,351.7 431.15,351.7 431.15,346.37 431.65,346.37 431.65,342.79 432.15,342.79 432.15,342.23 432.65,342.23 432.65,341.75 433.15,341.75 433.15,333.56 433.65,333.56 433.65,327.73 434.15,327.73 434.15,326.3 434.65,326.3 434.65,296.88 435.15,296.88 435.15,304.71 435.65,304.71 435.65,305.67 436.15,305.67 436.15,305.02 436.65,305.02 436.65,301.19 437.15,301.19 437.15,296.75 437.65,296.75 437.65,289.66 438.15,289.66 438.15,288.94 438.65,288.94 438.65,293.89 439.15,293.89 439.15,289.51 439.65,289.51 439.65,282.58 440.15,282.58 440.15,274.95 440.65,274.95 440.65,290.15 441.15,290.15 441.15,291.78 441.65,291.78 441.65,287.75 442.15,287.75 442.15,291.27 442.65,291.27 442.65,269.68 443.15,269.68 443.15,282.88 443.65,282.88 443.65,293.2 444.15,293.2 444.15,302.61 444.65,302.61 444.65,299.25 445.15,299.25 445.15,298.23 445.65,298.23 445.65,303.23 446.15,303.23 446.15,309.42 446.65,309.42 446.65,309.15 447.15,309.15 447.15,304.01 447.65,304.01 447.65,314.83 448.15,314.83 448.15,315.98 448.65,315.98 448.65,308.83 449.15,308.83 449.15,304.24 449.65,304.24 449.65,315.85 450.15,315.85 450.15,313.86 450.65,313.86 450.65,317.9 451.15,317.9 451.15,314.58 451.65,314.58 451.65,321.98 452.15,321.98 452.15,326.63 452.65,326.63 452.65,312.59 453.15,312.59 453.15,326.82 453.65,326.82 453.65,321.29 454.15,321.29 454.15,322.28 454.65,322.28 454.65,325.77 455.15,325.77 455.15,335.17 455.65,335.17 455.65,336.67 456.15,336.67 456.15,339.14 456.65,339.14 456.65,350.29 457.15,350.29 457.15,344.71 457.65,344.71 457.65,347.61 458.15,347.61 458.15,346.42 458.65,346.42 458.65,350.69 459.15,350.69 459.15,352.69 459.65,352.69 459.65,351.64 460.15,351.64 460.15,352.5 460.65,352.5 460.65,355.59 461.15,355.59 461.15,358.06 461.65,358.06 461.65,357.35 462.15,357.35 462.15,352.6 462.65,352.6 462.65,353.54 463.15,353.54 463.15,348.53 463.65,348.53 463.65,343.88 464.15,343.88 464.15,339.02 464.65,339.02 464.65,336.43 465.15,336.43 465.15,325.24 465.65,325.24 465.65,327.13 466.15,327.13 466.15,318.21 466.65,318.21 466.65,306.92 467.15,306.92 467.15,299.48 467.65,299.48 467.65,289.98 468.15,289.98 468.15,288.03 468.65,288.03 468.65,292.89 469.15,292.89 469.15,294.27 469.65,294.27 469.65,266.47 470.15,266.47 470.15,291.15 470.65,291.15 470.65,297.05 471.15,297.05 471.15,297.75 471.65,297.75 471.65,281.25 472.15,281.25 472.15,282.41 472.65,282.41 472.65,281.21 473.15,281.21 473.15,282.76 473.65,282.76 473.65,293.8 474.15,293.8 474.15,291.14 474.65,291.14 474.65,289.4 475.15,289.4 475.15,292.18 475.65,292.18 475.65,304.92 476.15,304.92 476.15,291.58 476.65,291.58 476.65,277.7 477.15,277.7 477.15,297.32 477.65,297.32 477.65,301.1 478.15,301.1 478.15,301.02 478.65,301.02 478.65,307.31 479.15,307.31 479.15,316.47 479.65,316.47 479.65,315.57 480.15,315.57 480.15,317.87 480.65,317.87 480.65,321.99 481.15,321.99 481.15,326.6 481.65,326.6 481.65,337.37 482.15,337.37 482.15,328.97 482.65,328.97 482.65,328.48 483.15,328.48 483.15,334.97 483.65,334.97 483.65,332.7 484.15,332.7 484.15,334.85 484.65,334.85 484.65,332.6 485.15,332.6 485.15,334.37 485.65,334.37 485.65,345.1 486.15,345.1 486.15,346.59 486.65,346.59 486.65,345.11 487.15,345.11 487.15,345.28 487.65,345.28 487.65,346.49 488.15,346.49 488.15,347.97 488.65,347.97 488.65,348.41 489.15,348.41 489.15,349.26 489.65,349.26 489.65,352.24 490.15,352.24 490.15,355.09 490.65,355.09 490.65,353.48 491.15,353.48 491.15,356.23 491.65,356.23 491.65,355.21 492.15,355.21 492.15,357.69 492.65,357.69 492.65,358.63 493.15,358.63 493.15,356.71 493.65,356.71 493.65,353.1 494.15,353.1 494.15,349.55 494.65,349.55 494.65,345.81 495.15,345.81 495.15,344.49 495.65,344.49 495.65,345.2 496.15,345.2 496.15,336.19 496.65,336.19 496.65,330.64 497.15,330.64 497.15,319.09 497.65,319.09 497.65,309.08 498.15,309.08 498.15,304.01 498.65,304.01 498.65,299.87 499.15,299.87 499.15,297.84 499.65,297.84 499.65,298.5 500.15,298.5 500.15,285.22 500.65,285.22 500.65,293.61 501.15,293.61 501.15,284.2 501.65,284.2 501.65,268.79 502.15,268.79 502.15,265.74 502.65,265.74 502.65,270.66 503.15,270.66 503.15,270.09 503.65,270.09 503.65,268.34 504.15,268.34 504.15,276.52 504.65,276.52 504.65,274.41 505.15,274.41 505.15,270.12 505.65,270.12 505.65,277.28 506.15,277.28 506.15,265.73 506.65,265.73 506.65,261.32 507.15,261.32 507.15,262.6 507.65,262.6 507.65,276.79 508.15,276.79 508.15,291.7 508.65,291.7 508.65,283.79 509.15,283.79 509.15,282.09 509.65,282.09 509.65,283.1 510.15,283.1 510.15,283.03 510.65,283.03 510.65,288.24 511.15,288.24 511.15,296.41 511.65,296.41 511.65,297.02 512.15,297.02 512.15,307.35 512.65,307.35 512.65,311.41 513.15,311.41 513.15,322.46 513.65,322.46 513.65,313.04 514.15,313.04 514.15,323.88 514.65,323.88 514.65,328.69 515.15,328.69 515.15,333.68 515.65,333.68 515.65,335.19 516.15,335.19 516.15,337.04 516.65,337.04 516.65,323.86 517.15,323.86 517.15,331.35 517.65,331.35 517.65,340.41 518.15,340.41 518.15,339.59 518.65,339.59 518.65,343.32 519.15,343.32 519.15,339.76 519.65,339.76 519.65,338.56 520.15,338.56 520.15,340.46 520.65,340.46 520.65,348.1 521.15,348.1 521.15,350.02 521.65,350.02 521.65,351.48 522.15,351.48 522.15,352.77 522.65,352.77 522.65,353.62 523.15,353.62 523.15,355.63 523.65,355.63 523.65,357.46 524.15,357.46 524.15,359.1 524.65,359.1 524.65,358.55 525.15,358.55 525.15,355.38 525.65,355.38 525.65,358.49 526.15,358.49 526.15,355.66 526.65,355.66 526.65,358.1 527.15,358.1 527.15,357.31 527.65,357.31 527.65,352.75 528.15,352.75 528.15,352.19 528.65,352.19 528.65,345.52 529.15,345.52 529.15,345.37 529.65,345.37 529.65,341.07 530.15,341.07 530.15,335.99 530.65,335.99 530.65,326.07 531.15,326.07 531.15,322.14 531.65,322.14 531.65,318.4 532.15,318.4 532.15,311.93 532.65,311.93 532.65,318.08 533.15,318.08 533.15,303.18 533.65,303.18 533.65,304.49 534.15,304.49 534.15,304.98 534.65,304.98 534.65,300.23 535.15,300.23 535.15,297.73 535.65,297.73 535.65,307.5 536.15,307.5 536.15,305.11 536.65,305.11 536.65,301.43 537.15,301.43 537.15,286.6 537.65,286.6 537.65,294.09 538.15,294.09 538.15,296.82 538.65,296.82 538.65,300.33 539.15,300.33 539.15,304.29 539.65,304.29 539.65,295.47 540.15,295.47 540.15,296.29 540.65,296.29 540.65,307.25 541.15,307.25 541.15,312.06 541.65,312.06 541.65,308.02 542.15,308.02 542.15,305.19 542.65,305.19 542.65,321.47 543.15,321.47 543.15,307.66 543.65,307.66 543.65,306.47 544.15,306.47 544.15,317.75 544.65,317.75 544.65,318.16 545.15,318.16 545.15,328.4 545.65,328.4 545.65,325.82 546.15,325.82 546.15,323.99 546.65,323.99 546.65,328.44 547.15,328.44 547.15,329.51 547.65,329.51 547.65,329.82 548.15,329.82 548.15,333.21 548.65,333.21 548.65,329.43 549.15,329.43 549.15,333.63 549.65,333.63 549.65,337.42 550.15,337.42 550.15,339.53 550.65,339.53 550.65,341.15 551.15,341.15 551.15,337.55 551.65,337.55 551.65,344.95 552.15,344.95 552.15,339.53 552.65,339.53 552.65,343.78 553.15,343.78 553.15,345.84 553.65,345.84 553.65,345.05 554.15,345.05 554.15,348.74 554.65,348.74 554.65,345.11 555.15,345.11 555.15,346.79 555.65,346.79 555.65,345.23 556.15,345.23 556.15,346.65 556.65,346.65 556.65,348.89 557.15,348.89 557.15,353.23 557.65,353.23 557.65,354.6 558.15,354.6 558.15,351.36 558.65,351.36 558.65,356.65 559.15,356.65 559.15,355.04 559.65,355.04 559.65,359.32 560.15,359.32 560.15,360.99 560.65,360.99 560.65,359.68 561.15,359.68 561.15,358.25 561.65,358.25 561.65,360.24 562.15,360.24 562.15,360.42 562.65,360.42 562.65,360.89 563.15,360.89 563.15,357.83 563.65,357.83 563.65,354.28 564.15,354.28 564.15,352.26 564.65,352.26 564.65,346.66 565.15,346.66 565.15,343.11 565.65,343.11 565.65,339.62 566.15,339.62 566.15,333.22 566.65,333.22 566.65,327.76 567.15,327.76 567.15,328.23 567.65,328.23 567.65,317.87 568.15,317.87 568.15,313.65 568.65,313.65 568.65,303.69 569.15,303.69 569.15,318.04 569.65,318.04 569.65,302.79 570.15,302.79 570.15,298.78 570.65,298.78 570.65,302.3 571.15,302.3 571.15,297.12 571.65,297.12 571.65,285.3 572.15,285.3 572.15,285.25 572.65,285.25 572.65,296.98 573.15,296.98 573.15,284.07 573.65,284.07 573.65,292.83 574.15,292.83 574.15,293.01 574.65,293.01 574.65,300.89 575.15,300.89 575.15,290.91 575.65,290.91 575.65,271.29 576.15,271.29 576.15,289.37 576.65,289.37 576.65,297.38 577.15,297.38 577.15,286.9 577.65,286.9 577.65,302.04 578.15,302.04 578.15,306.3 578.65,306.3 578.65,301.11 579.15,301.11 579.15,295.89 579.65,295.89 579.65,297.58 580.15,297.58 580.15,292.24 580.65,292.24 580.65,289.64 581.15,289.64 581.15,298.63 581.65,298.63 581.65,307.48 582.15,307.48 582.15,302.95 582.65,302.95 582.65,319.18 583.15,319.18 583.15,316.82 583.65,316.82 583.65,319.53 584.15,319.53 584.15,324.37 584.65,324.37 584.65,335.79 585.15,335.79 585.15,330.31 585.65,330.31 585.65,334.57 586.15,334.57 586.15,342.99 586.65,342.99 586.65,340.3 587.15,340.3 587.15,337.05 587.65,337.05 587.65,343.01 588.15,343.01 588.15,345.18 588.65,345.18 588.65,345.72 589.15,345.72 589.15,343.06 589.65,343.06 589.65,348.33 590.15,348.33 590.15,352.53 590.65,352.53 590.65,351.96 591.15,351.96 591.15,354.73 591.65,354.73 591.65,355.27 592.15,355.27 592.15,356.92 592.65,356.92 592.65,357.85 593.15,357.85 593.15,359.58 593.65,359.58 593.65,359.7 594.15,359.7 594.15,356.19 594.65,356.19 594.65,355.46 595.15,355.46 595.15,356.31 595.65,356.31 595.65,353.11 596.15,353.11 596.15,345.04 596.65,345.04 596.65,342.56 597.15,342.56 597.15,341.12 597.65,341.12 597.65,336.13 598.15,336.13 598.15,331.46 598.65,331.46 598.65,322.66 599.15,322.66 599.15,316.24 599.65,316.24 599.65,311.71 600.15,311.71 600.15,292.76 600.65,292.76 600.65,280.65 601.15,280.65 601.15,299 601.65,299 601.65,287.72 602.15,287.72 602.15,298.75 602.65,298.75 602.65,296.21 603.15,296.21 603.15,287.56 603.65,287.56 603.65,271.12 604.15,271.12 604.15,290 604.65,290 604.65,286.98 605.15,286.98 605.15,278.62 605.65,278.62 605.65,293.25 606.15,293.25 606.15,286.35 606.65,286.35 606.65,289.12 607.15,289.12 607.15,293.75 607.65,293.75 607.65,287.13 608.15,287.13 608.15,270.7 608.65,270.7 608.65,287.22 609.15,287.22 609.15,300.35 609.65,300.35 609.65,297.67 610.15,297.67 610.15,286.63 610.65,286.63 610.65,290.69 611.15,290.69 611.15,298.71 611.65,298.71 611.65,304.6 612.15,304.6 612.15,309.32 612.65,309.32 612.65,312.25 613.15,312.25 613.15,306.22 613.65,306.22 613.65,320.93 614.15,320.93 614.15,307.73 614.65,307.73 614.65,324.15 615.15,324.15 615.15,324.85 615.65,324.85 615.65,327.61 616.15,327.61 616.15,338.25 616.65,338.25 616.65,335.52 617.15,335.52 617.15,343.33 617.65,343.33 617.65,348.93 618.15,348.93 618.15,348.1 618.65,348.1 618.65,341.27 619.15,341.27 619.15,341.32 619.65,341.32 619.65,345.15 620.15,345.15 620.15,347.94 620.65,347.94 620.65,350.64 621.15,350.64 621.15,351.27 621.65,351.27 621.65,351.81 622.15,351.81 622.15,353.62 622.65,353.62 622.65,353.33 623.15,353.33 623.15,355.21 623.65,355.21 623.65,354.57 624.15,354.57 624.15,358.51 624.65,358.51 624.65,359.14 625.15,359.14 625.15,357.8 625.65,357.8 625.65,359.53 626.15,359.53 626.15,357.01 626.65,357.01 626.65,354.12 627.15,354.12 627.15,348.87 627.65,348.87 627.65,351.85 628.15,351.85 628.15,350.49 628.65,350.49 628.65,347.85 629.15,347.85 629.15,339.48 629.65,339.48 629.65,339.81 630.15,339.81 630.15,339.68 630.65,339.68 630.65,333.62 631.15,333.62 631.15,323.87 631.65,323.87 631.65,320.94 632.15,320.94 632.15,319.15 632.65,319.15 632.65,309.61 633.15,309.61 633.15,312.36 633.65,312.36 633.65,305.58 634.15,305.58 634.15,301.12 634.65,301.12 634.65,300.46 635.15,300.46 635.15,296.94 635.65,296.94 635.65,282.34 636.15,282.34 636.15,284.2 636.65,284.2 636.65,287.64 637.15,287.64 637.15,303.66 637.65,303.66 637.65,313.74 638.15,313.74 638.15,303.9 638.65,303.9 638.65,304.32 639.15,304.32 639.15,298.58 639.65,298.58 639.65,299.66 640.15,299.66 640.15,290.4 640.65,290.4 640.65,294.92 641.15,294.92 641.15,297.1 641.65,297.1 641.65,293.86 642.15,293.86 642.15,299.97 642.65,299.97 642.65,306.05 643.15,306.05 643.15,313.33 643.65,313.33 643.65,297.01 644.15,297.01 644.15,310.5 644.65,310.5 644.65,313.04 645.15,313.04 645.15,299.93 645.65,299.93 645.65,302.45 646.15,302.45 646.15,305.42 646.65,305.42 646.65,317.61 647.15,317.61 647.15,304.93 647.65,304.93 647.65,319.4 648.15,319.4 648.15,333.09 648.65,333.09 648.65,329.38 649.15,329.38 649.15,326.33 649.65,326.33 649.65,328.15 650.15,328.15 650.15,324.52 650.65,324.52 650.65,333.43 651.15,333.43 651.15,337 651.65,337 651.65,335.69 652.15,335.69 652.15,337.01 652.65,337.01 652.65,342.63 653.15,342.63 653.15,339.29 653.65,339.29 653.65,349.59 654.15,349.59 654.15,341.7 654.65,341.7 654.65,348.98 655.15,348.98 655.15,349.75 655.65,349.75 655.65,347.75 656.15,347.75 656.15,350.7 656.65,350.7 656.65,351.43 657.15,351.43 657.15,349.14 657.65,349.14 657.65,349.46 658.15,349.46 658.15,353.9 658.65,353.9 658.65,351.95 659.15,351.95 659.15,354.71 659.65,354.71 659.65,357.96 660.15,357.96 660.15,359.27 660.65,359.27 660.65,360.75 661.15,360.75 661.15,361.53 661.65,361.53 661.65,361.47 662.15,361.47 662.15,364.31 662.65,364.31 662.65,363.7 663.15,363.7 663.15,364.46 663.65,364.46 663.65,364.74 664.15,364.74 664.15,366.38 664.65,366.38 664.65,366.78 665.15,366.78 665.15,366.72 665.65,366.72 665.65,367.35 666.15,367.35 666.15,367.91 666.65,367.91 666.65,367.59 667.15,367.59 667.15,365.53 667.65,365.53 667.65,366.4 668.15,366.4 668.15,363.78 668.65,363.78 668.65,364.27 669.15,364.27 669.15,365.16 669.65,365.16 669.65,358.36 670.15,358.36 670.15,352.77 670.65,352.77 670.65,347.7 671.15,347.7 671.15,340.12 671.65,340.12 671.65,341.58 672.15,341.58 672.15,340.36 672.65,340.36 672.65,336.62 673.15,336.62 673.15,338.92 673.65,338.92 673.65,333.34 674.15,333.34 674.15,331.28 674.65,331.28 674.65,330.81 675.15,330.81 675.15,324 675.65,324 675.65,325.94 676.15,325.94 676.15,327.48 676.65,327.48 676.65,321.67 677.15,321.67 677.15,326.51 677.65,326.51 677.65,326.62 678.15,326.62 678.15,332.76 678.65,332.76 678.65,324.49 679.15,324.49 679.15,324.34 679.65,324.34 679.65,327.47 680.15,327.47 680.15,321.1 680.65,321.1 680.65,324.87 681.15,324.87 681.15,319.6 681.65,319.6 681.65,326.6 682.15,326.6 682.15,329.61 682.65,329.61 682.65,327.6 683.15,327.6 683.15,332.89 683.65,332.89 683.65,328.35 684.15,328.35 684.15,324.58 684.65,324.58 684.65,325.29 685.15,325.29 685.15,329.24 685.65,329.24 685.65,336.69 686.15,336.69 686.15,335.24 686.65,335.24 686.65,341.9 687.15,341.9 687.15,341.89 687.65,341.89 687.65,349.94 688.15,349.94 688.15,347.84 688.65,347.84 688.65,356.14 689.15,356.14 689.15,357.61 689.65,357.61 689.65,358.12 690.15,358.12 690.15,372.4 689.65,372.4 689.65,372.4 689.15,372.4 689.15,372.4 688.65,372.4 688.65,372.4 688.15,372.4 688.15,372.4 687.65,372.4 687.65,372.4 687.15,372.4 687.15,372.4 686.65,372.4 686.65,372.4 686.15,372.4 686.15,372.4 685.65,372.4 685.65,372.4 685.15,372.4 685.15,372.4 684.65,372.4 684.65,372.4 684.15,372.4 684.15,371.85 683.65,371.85 683.65,369.1 683.15,369.1 683.15,366.79 682.65,366.79 682.65,366.24 682.15,366.24 682.15,365.93 681.65,365.93 681.65,365.35 681.15,365.35 681.15,364.59 680.65,364.59 680.65,367.15 680.15,367.15 680.15,366.08 679.65,366.08 679.65,366.48 679.15,366.48 679.15,365.94 678.65,365.94 678.65,366.41 678.15,366.41 678.15,369.06 677.65,369.06 677.65,370.42 677.15,370.42 677.15,372.4 676.65,372.4 676.65,372.4 676.15,372.4 676.15,372.4 675.65,372.4 675.65,372.4 675.15,372.4 675.15,372.4 674.65,372.4 674.65,372.4 674.15,372.4 674.15,372.4 673.65,372.4 673.65,372.4 673.15,372.4 673.15,372.4 672.65,372.4 672.65,372.4 672.15,372.4 672.15,372.4 671.65,372.4 671.65,372.4 671.15,372.4 671.15,372.4 670.65,372.4 670.65,372.4 670.15,372.4 670.15,372.4 669.65,372.4 669.65,372.4 669.15,372.4 669.15,372.4 668.65,372.4 668.65,372.4 668.15,372.4 668.15,372.4 667.65,372.4 667.65,372.4 667.15,372.4 667.15,372.4 666.65,372.4 666.65,372.4 666.15,372.4 666.15,372.4 665.65,372.4 665.65,372.4 665.15,372.4 665.15,372.4 664.65,372.4 664.65,372.4 664.15,372.4 664.15,372.4 663.65,372.4 663.65,372.4 663.15,372.4 663.15,372.4 662.65,372.4 662.65,372.4 662.15,372.4 662.15,372.4 661.65,372.4 661.65,372.4 661.15,372.4 661.15,372.4 660.65,372.4 660.65,372.4 660.15,372.4 660.15,372.4 659.65,372.4 659.65,372.4 659.15,372.4 659.15,372.4 658.65,372.4 658.65,372.4 658.15,372.4 658.15,372.4 657.65,372.4 657.65,372.4 657.15,372.4 657.15,372.4 656.65,372.4 656.65,372.4 656.15,372.4 656.15,372.4 655.65,372.4 655.65,372.4 655.15,372.4 655.15,372.4 654.65,372.4 654.65,372.4 654.15,372.4 654.15,372.4 653.65,372.4 653.65,372.4 653.15,372.4 653.15,372.4 652.65,372.4 652.65,372.4 652.15,372.4 652.15,372.4 651.65,372.4 651.65,372.4 651.15,372.4 651.15,372.4 650.65,372.4 650.65,372.4 650.15,372.4 650.15,372.4 649.65,372.4 649.65,372.4 649.15,372.4 649.15,372.4 648.65,372.4 648.65,372.4 648.15,372.4 648.15,372.4 647.65,372.4 647.65,372.4 647.15,372.4 647.15,372.4 646.65,372.4 646.65,369.65 646.15,369.65 646.15,368.01 645.65,368.01 645.65,368.08 645.15,368.08 645.15,366.95 644.65,366.95 644.65,357.11 644.15,357.11 644.15,362.02 643.65,362.02 643.65,356.56 643.15,356.56 643.15,355.37 642.65,355.37 642.65,361.8 642.15,361.8 642.15,346.77 641.65,346.77 641.65,357.18 641.15,357.18 641.15,343.73 640.65,343.73 640.65,347.92 640.15,347.92 640.15,350.31 639.65,350.31 639.65,354.47 639.15,354.47 639.15,359.46 638.65,359.46 638.65,365.53 638.15,365.53 638.15,356.32 637.65,356.32 637.65,358.26 637.15,358.26 637.15,362.27 636.65,362.27 636.65,359.3 636.15,359.3 636.15,355.64 635.65,355.64 635.65,364.28 635.15,364.28 635.15,360.86 634.65,360.86 634.65,364.02 634.15,364.02 634.15,365.65 633.65,365.65 633.65,367.55 633.15,367.55 633.15,368.39 632.65,368.39 632.65,369.96 632.15,369.96 632.15,370.83 631.65,370.83 631.65,372.4 631.15,372.4 631.15,372.4 630.65,372.4 630.65,372.4 630.15,372.4 630.15,372.4 629.65,372.4 629.65,372.4 629.15,372.4 629.15,372.4 628.65,372.4 628.65,372.4 628.15,372.4 628.15,372.4 627.65,372.4 627.65,372.4 627.15,372.4 627.15,372.4 626.65,372.4 626.65,372.4 626.15,372.4 626.15,372.4 625.65,372.4 625.65,372.4 625.15,372.4 625.15,372.4 624.65,372.4 624.65,372.4 624.15,372.4 624.15,372.4 623.65,372.4 623.65,372.4 623.15,372.4 623.15,372.4 622.65,372.4 622.65,372.4 622.15,372.4 622.15,372.4 621.65,372.4 621.65,372.4 621.15,372.4 621.15,372.4 620.65,372.4 620.65,372.4 620.15,372.4 620.15,372.4 619.65,372.4 619.65,372.4 619.15,372.4 619.15,372.4 618.65,372.4 618.65,372.4 618.15,372.4 618.15,372.4 617.65,372.4 617.65,372.4 617.15,372.4 617.15,372.4 616.65,372.4 616.65,372.4 616.15,372.4 616.15,369.02 615.65,369.02 615.65,365.64 615.15,365.64 615.15,362.26 614.65,362.26 614.65,358.88 614.15,358.88 614.15,355.91 613.65,355.91 613.65,354.61 613.15,354.61 613.15,354.92 612.65,354.92 612.65,353.65 612.15,353.65 612.15,353.19 611.65,353.19 611.65,354.34 611.15,354.34 611.15,348.08 610.65,348.08 610.65,346.77 610.15,346.77 610.15,347.06 609.65,347.06 609.65,347.81 609.15,347.81 609.15,345.3 608.65,345.3 608.65,347.6 608.15,347.6 608.15,346.72 607.65,346.72 607.65,344.72 607.15,344.72 607.15,351.88 606.65,351.88 606.65,345.3 606.15,345.3 606.15,348.97 605.65,348.97 605.65,343.95 605.15,343.95 605.15,347.57 604.65,347.57 604.65,350.78 604.15,350.78 604.15,348.24 603.65,348.24 603.65,355.78 603.15,355.78 603.15,361.19 602.65,361.19 602.65,357.48 602.15,357.48 602.15,356.87 601.65,356.87 601.65,361.72 601.15,361.72 601.15,366.58 600.65,366.58 600.65,371.43 600.15,371.43 600.15,372.4 599.65,372.4 599.65,372.4 599.15,372.4 599.15,372.4 598.65,372.4 598.65,372.4 598.15,372.4 598.15,372.4 597.65,372.4 597.65,372.4 597.15,372.4 597.15,372.4 596.65,372.4 596.65,372.4 596.15,372.4 596.15,372.4 595.65,372.4 595.65,372.4 595.15,372.4 595.15,372.4 594.65,372.4 594.65,372.4 594.15,372.4 594.15,372.4 593.65,372.4 593.65,372.4 593.15,372.4 593.15,372.4 592.65,372.4 592.65,372.4 592.15,372.4 592.15,372.4 591.65,372.4 591.65,372.4 591.15,372.4 591.15,372.4 590.65,372.4 590.65,372.4 590.15,372.4 590.15,372.22 589.65,372.22 589.65,371.32 589.15,371.32 589.15,370.54 588.65,370.54 588.65,369.64 588.15,369.64 588.15,368.07 587.65,368.07 587.65,367.04 587.15,367.04 587.15,366.01 586.65,366.01 586.65,367.85 586.15,367.85 586.15,369.09 585.65,369.09 585.65,365.77 585.15,365.77 585.15,365.5 584.65,365.5 584.65,362.61 584.15,362.61 584.15,362.13 583.65,362.13 583.65,361.65 583.15,361.65 583.15,365.82 582.65,365.82 582.65,363.88 582.15,363.88 582.15,360.2 581.65,360.2 581.65,365.74 581.15,365.74 581.15,364.92 580.65,364.92 580.65,367.57 580.15,367.57 580.15,364.82 579.65,364.82 579.65,363.81 579.15,363.81 579.15,361.5 578.65,361.5 578.65,360.72 578.15,360.72 578.15,352.1 577.65,352.1 577.65,354.04 577.15,354.04 577.15,351.59 576.65,351.59 576.65,349.59 576.15,349.59 576.15,350.4 575.65,350.4 575.65,351.3 575.15,351.3 575.15,352.83 574.65,352.83 574.65,354.36 574.15,354.36 574.15,355.89 573.65,355.89 573.65,357.42 573.15,357.42 573.15,360.95 572.65,360.95 572.65,364.17 572.15,364.17 572.15,365.52 571.65,365.52 571.65,368.65 571.15,368.65 571.15,371.77 570.65,371.77 570.65,372.4 570.15,372.4 570.15,372.4 569.65,372.4 569.65,372.4 569.15,372.4 569.15,372.4 568.65,372.4 568.65,372.4 568.15,372.4 568.15,372.4 567.65,372.4 567.65,372.4 567.15,372.4 567.15,372.4 566.65,372.4 566.65,372.4 566.15,372.4 566.15,372.4 565.65,372.4 565.65,372.4 565.15,372.4 565.15,372.4 564.65,372.4 564.65,372.4 564.15,372.4 564.15,372.4 563.65,372.4 563.65,372.4 563.15,372.4 563.15,372.4 562.65,372.4 562.65,372.4 562.15,372.4 562.15,372.4 561.65,372.4 561.65,372.4 561.15,372.4 561.15,372.4 560.65,372.4 560.65,372.4 560.15,372.4 560.15,372.4 559.65,372.4 559.65,372.4 559.15,372.4 559.15,372.4 558.65,372.4 558.65,372.4 558.15,372.4 558.15,372.4 557.65,372.4 557.65,372.4 557.15,372.4 557.15,372.4 556.65,372.4 556.65,372.4 556.15,372.4 556.15,372.4 555.65,372.4 555.65,372.4 555.15,372.4 555.15,372.4 554.65,372.4 554.65,372.4 554.15,372.4 554.15,372.4 553.65,372.4 553.65,371.91 553.15,371.91 553.15,371.34 552.65,371.34 552.65,369.96 552.15,369.96 552.15,368.93 551.65,368.93 551.65,367.96 551.15,367.96 551.15,367.17 550.65,367.17 550.65,366.18 550.15,366.18 550.15,366.7 549.65,366.7 549.65,365.69 549.15,365.69 549.15,364.62 548.65,364.62 548.65,362.47 548.15,362.47 548.15,362.5 547.65,362.5 547.65,361.57 547.15,361.57 547.15,366.65 546.65,366.65 546.65,363.17 546.15,363.17 546.15,359.76 545.65,359.76 545.65,359.38 545.15,359.38 545.15,362.9 544.65,362.9 544.65,358.26 544.15,358.26 544.15,363.71 543.65,363.71 543.65,357.39 543.15,357.39 543.15,356.96 542.65,356.96 542.65,356.52 542.15,356.52 542.15,357.53 541.65,357.53 541.65,355.47 541.15,355.47 541.15,354.89 540.65,354.89 540.65,354.3 540.15,354.3 540.15,353.72 539.65,353.72 539.65,353.13 539.15,353.13 539.15,355.8 538.65,355.8 538.65,356.87 538.15,356.87 538.15,355.76 537.65,355.76 537.65,357.98 537.15,357.98 537.15,354.14 536.65,354.14 536.65,350.49 536.15,350.49 536.15,352.1 535.65,352.1 535.65,359.76 535.15,359.76 535.15,361.96 534.65,361.96 534.65,359.43 534.15,359.43 534.15,358.51 533.65,358.51 533.65,360.12 533.15,360.12 533.15,361.92 532.65,361.92 532.65,364.54 532.15,364.54 532.15,367.16 531.65,367.16 531.65,369.78 531.15,369.78 531.15,372.4 530.65,372.4 530.65,372.4 530.15,372.4 530.15,372.4 529.65,372.4 529.65,372.4 529.15,372.4 529.15,372.4 528.65,372.4 528.65,372.4 528.15,372.4 528.15,372.4 527.65,372.4 527.65,372.4 527.15,372.4 527.15,372.4 526.65,372.4 526.65,372.4 526.15,372.4 526.15,372.4 525.65,372.4 525.65,372.4 525.15,372.4 525.15,372.4 524.65,372.4 524.65,372.4 524.15,372.4 524.15,372.4 523.65,372.4 523.65,372.4 523.15,372.4 523.15,372.4 522.65,372.4 522.65,372.4 522.15,372.4 522.15,372.4 521.65,372.4 521.65,372.4 521.15,372.4 521.15,372.4 520.65,372.4 520.65,372.4 520.15,372.4 520.15,372.4 519.65,372.4 519.65,372.4 519.15,372.4 519.15,372.17 518.65,372.17 518.65,370.85 518.15,370.85 518.15,369.12 517.65,369.12 517.65,367.12 517.15,367.12 517.15,366.08 516.65,366.08 516.65,363.85 516.15,363.85 516.15,362.46 515.65,362.46 515.65,363.82 515.15,363.82 515.15,365.21 514.65,365.21 514.65,366.44 514.15,366.44 514.15,369.74 513.65,369.74 513.65,367.92 513.15,367.92 513.15,368.5 512.65,368.5 512.65,363.45 512.15,363.45 512.15,360.32 511.65,360.32 511.65,357.46 511.15,357.46 511.15,353.31 510.65,353.31 510.65,351.39 510.15,351.39 510.15,349.56 509.65,349.56 509.65,348.13 509.15,348.13 509.15,346.7 508.65,346.7 508.65,345.26 508.15,345.26 508.15,344.89 507.65,344.89 507.65,342.4 507.15,342.4 507.15,340.96 506.65,340.96 506.65,345.71 506.15,345.71 506.15,338.1 505.65,338.1 505.65,336.66 505.15,336.66 505.15,340.78 504.65,340.78 504.65,336.64 504.15,336.64 504.15,336.78 503.65,336.78 503.65,336.92 503.15,336.92 503.15,337.07 502.65,337.07 502.65,337.21 502.15,337.21 502.15,337.36 501.65,337.36 501.65,337.99 501.15,337.99 501.15,342.05 500.65,342.05 500.65,343.16 500.15,343.16 500.15,345.75 499.65,345.75 499.65,357 499.15,357 499.15,351.58 498.65,351.58 498.65,366.36 498.15,366.36 498.15,362.26 497.65,362.26 497.65,366.61 497.15,366.61 497.15,370.99 496.65,370.99 496.65,372.4 496.15,372.4 496.15,372.4 495.65,372.4 495.65,372.4 495.15,372.4 495.15,372.4 494.65,372.4 494.65,372.4 494.15,372.4 494.15,372.4 493.65,372.4 493.65,372.4 493.15,372.4 493.15,372.4 492.65,372.4 492.65,372.4 492.15,372.4 492.15,372.4 491.65,372.4 491.65,372.4 491.15,372.4 491.15,372.4 490.65,372.4 490.65,372.4 490.15,372.4 490.15,372.4 489.65,372.4 489.65,372.4 489.15,372.4 489.15,372.07 488.65,372.07 488.65,370.5 488.15,370.5 488.15,368.22 487.65,368.22 487.65,364.55 487.15,364.55 487.15,361.04 486.65,361.04 486.65,361.1 486.15,361.1 486.15,358.75 485.65,358.75 485.65,355.76 485.15,355.76 485.15,355.42 484.65,355.42 484.65,355.07 484.15,355.07 484.15,354.73 483.65,354.73 483.65,354.39 483.15,354.39 483.15,359.91 482.65,359.91 482.65,356.38 482.15,356.38 482.15,360.04 481.65,360.04 481.65,356.72 481.15,356.72 481.15,359.37 480.65,359.37 480.65,352.32 480.15,352.32 480.15,351.7 479.65,351.7 479.65,349.94 479.15,349.94 479.15,349.53 478.65,349.53 478.65,353.68 478.15,353.68 478.15,344.66 477.65,344.66 477.65,343.65 477.15,343.65 477.15,341.14 476.65,341.14 476.65,339.38 476.15,339.38 476.15,338.66 475.65,338.66 475.65,345.12 475.15,345.12 475.15,336.13 474.65,336.13 474.65,346.65 474.15,346.65 474.15,338.69 473.65,338.69 473.65,342.2 473.15,342.2 473.15,342.54 472.65,342.54 472.65,345.68 472.15,345.68 472.15,346.39 471.65,346.39 471.65,348.31 471.15,348.31 471.15,355.54 470.65,355.54 470.65,358.13 470.15,358.13 470.15,364.62 469.65,364.62 469.65,363.63 469.15,363.63 469.15,364.08 468.65,364.08 468.65,360.8 468.15,360.8 468.15,361.96 467.65,361.96 467.65,366.45 467.15,366.45 467.15,368.04 466.65,368.04 466.65,370.1 466.15,370.1 466.15,369.43 465.65,369.43 465.65,370.93 465.15,370.93 465.15,372.4 464.65,372.4 464.65,372.4 464.15,372.4 464.15,372.4 463.65,372.4 463.65,372.4 463.15,372.4 463.15,372.4 462.65,372.4 462.65,372.4 462.15,372.4 462.15,372.4 461.65,372.4 461.65,372.4 461.15,372.4 461.15,372.4 460.65,372.4 460.65,372.4 460.15,372.4 460.15,372.4 459.65,372.4 459.65,372.4 459.15,372.4 459.15,372.4 458.65,372.4 458.65,372.4 458.15,372.4 458.15,372.4 457.65,372.4 457.65,372.4 457.15,372.4 457.15,372.4 456.65,372.4 456.65,372.4 456.15,372.4 456.15,372.4 455.65,372.4 455.65,372.4 455.15,372.4 455.15,372.4 454.65,372.4 454.65,372.4 454.15,372.4 454.15,372.4 453.65,372.4 453.65,372.4 453.15,372.4 453.15,372.4 452.65,372.4 452.65,372.4 452.15,372.4 452.15,372.4 451.65,372.4 451.65,372.4 451.15,372.4 451.15,372.4 450.65,372.4 450.65,372.4 450.15,372.4 450.15,372.4 449.65,372.4 449.65,372.4 449.15,372.4 449.15,372.4 448.65,372.4 448.65,372.4 448.15,372.4 448.15,372.08 447.65,372.08 447.65,371.39 447.15,371.39 447.15,369.56 446.65,369.56 446.65,367.62 446.15,367.62 446.15,366.94 445.65,366.94 445.65,364.93 445.15,364.93 445.15,365.74 444.65,365.74 444.65,359.8 444.15,359.8 444.15,357.34 443.65,357.34 443.65,354.74 443.15,354.74 443.15,352.39 442.65,352.39 442.65,350.17 442.15,350.17 442.15,347.69 441.65,347.69 441.65,346.72 441.15,346.72 441.15,350.44 440.65,350.44 440.65,352.5 440.15,352.5 440.15,350.03 439.65,350.03 439.65,354.41 439.15,354.41 439.15,352.24 438.65,352.24 438.65,357.06 438.15,357.06 438.15,358.18 437.65,358.18 437.65,355.56 437.15,355.56 437.15,356.66 436.65,356.66 436.65,357.77 436.15,357.77 436.15,359.11 435.65,359.11 435.65,361.4 435.15,361.4 435.15,363.69 434.65,363.69 434.65,366.83 434.15,366.83 434.15,368.28 433.65,368.28 433.65,370.91 433.15,370.91 433.15,372.4 432.65,372.4 432.65,372.4 432.15,372.4 432.15,372.4 431.65,372.4 431.65,372.4 431.15,372.4 431.15,372.4 430.65,372.4 430.65,372.4 430.15,372.4 430.15,372.4 429.65,372.4 429.65,372.4 429.15,372.4 429.15,372.4 428.65,372.4 428.65,372.4 428.15,372.4 428.15,372.4 427.65,372.4 427.65,372.4 427.15,372.4 427.15,372.4 426.65,372.4 426.65,372.4 426.15,372.4 426.15,372.4 425.65,372.4 425.65,372.4 425.15,372.4 425.15,372.4 424.65,372.4 424.65,372.4 424.15,372.4 424.15,372.4 423.65,372.4 423.65,372.4 423.15,372.4 423.15,372.4 422.65,372.4 422.65,372.4 422.15,372.4 422.15,372.4 421.65,372.4 421.65,372.4 421.15,372.4 421.15,372.4 420.65,372.4 420.65,372.4 420.15,372.4 420.15,372.4 419.65,372.4 419.65,372.4 419.15,372.4 419.15,372.4 418.65,372.4 418.65,371.99 418.15,371.99 418.15,371.46 417.65,371.46 417.65,370.23 417.15,370.23 417.15,369.99 416.65,369.99 416.65,369.56 416.15,369.56 416.15,369.03 415.65,369.03 415.65,367.46 415.15,367.46 415.15,367.49 414.65,367.49 414.65,364.75 414.15,364.75 414.15,364.13 413.65,364.13 413.65,365.1 413.15,365.1 413.15,366.4 412.65,366.4 412.65,366.1 412.15,366.1 412.15,367.23 411.65,367.23 411.65,362.18 411.15,362.18 411.15,364.75 410.65,364.75 410.65,362.92 410.15,362.92 410.15,362.91 409.65,362.91 409.65,362.62 409.15,362.62 409.15,363.77 408.65,363.77 408.65,363.8 408.15,363.8 408.15,362.13 407.65,362.13 407.65,365.74 407.15,365.74 407.15,361.32 406.65,361.32 406.65,361.34 406.15,361.34 406.15,362.37 405.65,362.37 405.65,363.43 405.15,363.43 405.15,365.54 404.65,365.54 404.65,366.73 404.15,366.73 404.15,368.44 403.65,368.44 403.65,370.13 403.15,370.13 403.15,371.81 402.65,371.81 402.65,372.4 402.15,372.4 402.15,372.4 401.65,372.4 401.65,372.4 401.15,372.4 401.15,372.4 400.65,372.4 400.65,372.4 400.15,372.4 400.15,372.4 399.65,372.4 399.65,372.4 399.15,372.4 399.15,372.4 398.65,372.4 398.65,372.4 398.15,372.4 398.15,372.4 397.65,372.4 397.65,372.4 397.15,372.4 397.15,372.4 396.65,372.4 396.65,372.4 396.15,372.4 396.15,372.4 395.65,372.4 395.65,372.4 395.15,372.4 395.15,372.4 394.65,372.4 394.65,372.4 394.15,372.4 394.15,372.4 393.65,372.4 393.65,372.4 393.15,372.4 393.15,372.4 392.65,372.4 392.65,372.4 392.15,372.4 392.15,372.4 391.65,372.4 391.65,372.4 391.15,372.4 391.15,372.4 390.65,372.4 390.65,372.4 390.15,372.4 390.15,372.4 389.65,372.4 389.65,372.4 389.15,372.4 389.15,372.4 388.65,372.4 388.65,372.4 388.15,372.4 388.15,372.4 387.65,372.4 387.65,372.4 387.15,372.4 387.15,372.4 386.65,372.4 386.65,372.31 386.15,372.31 386.15,371.91 385.65,371.91 385.65,370.98 385.15,370.98 385.15,370.72 384.65,370.72 384.65,369.68 384.15,369.68 384.15,369.58 383.65,369.58 383.65,369.61 383.15,369.61 383.15,368.26 382.65,368.26 382.65,367.13 382.15,367.13 382.15,370.06 381.65,370.06 381.65,370.07 381.15,370.07 381.15,366.18 380.65,366.18 380.65,364.8 380.15,364.8 380.15,364.58 379.65,364.58 379.65,366.05 379.15,366.05 379.15,366.83 378.65,366.83 378.65,366.81 378.15,366.81 378.15,367.91 377.65,367.91 377.65,361.05 377.15,361.05 377.15,363.32 376.65,363.32 376.65,357.48 376.15,357.48 376.15,355.52 375.65,355.52 375.65,351.39 375.15,351.39 375.15,350.33 374.65,350.33 374.65,353.48 374.15,353.48 374.15,355.09 373.65,355.09 373.65,357.49 373.15,357.49 373.15,362.95 372.65,362.95 372.65,362.52 372.15,362.52 372.15,365.75 371.65,365.75 371.65,367.04 371.15,367.04 371.15,368.19 370.65,368.19 370.65,368.55 370.15,368.55 370.15,370.56 369.65,370.56 369.65,371.52 369.15,371.52 369.15,372.4 368.65,372.4 368.65,372.4 368.15,372.4 368.15,372.4 367.65,372.4 367.65,372.4 367.15,372.4 367.15,372.4 366.65,372.4 366.65,372.4 366.15,372.4 366.15,372.4 365.65,372.4 365.65,372.4 365.15,372.4 365.15,372.4 364.65,372.4 364.65,372.4 364.15,372.4 364.15,372.4 363.65,372.4 363.65,372.4 363.15,372.4 363.15,372.4 362.65,372.4 362.65,372.4 362.15,372.4 362.15,372.4 361.65,372.4 361.65,372.4 361.15,372.4 361.15,372.4 360.65,372.4 360.65,372.4 360.15,372.4 360.15,372.4 359.65,372.4 359.65,372.4 359.15,372.4 359.15,372.4 358.65,372.4 358.65,372.4 358.15,372.4 358.15,372.4 357.65,372.4 357.65,372.4 357.15,372.4 357.15,372.4 356.65,372.4 356.65,372.4 356.15,372.4 356.15,372.4 355.65,372.4 355.65,372.4 355.15,372.4 355.15,372.4 354.65,372.4 354.65,372.4 354.15,372.4 354.15,372.4 353.65,372.4 353.65,372.4 353.15,372.4 353.15,372.4 352.65,372.4 352.65,372.4 352.15,372.4 352.15,372.32 351.65,372.32 351.65,371.9 351.15,371.9 351.15,371.49 350.65,371.49 350.65,371.08 350.15,371.08 350.15,370.67 349.65,370.67 349.65,370.83 349.15,370.83 349.15,369.84 348.65,369.84 348.65,370.66 348.15,370.66 348.15,369.55 347.65,369.55 347.65,369.62 347.15,369.62 347.15,368.97 346.65,368.97 346.65,368.57 346.15,368.57 346.15,368.33 345.65,368.33 345.65,368.98 345.15,368.98 345.15,367.41 344.65,367.41 344.65,367.77 344.15,367.77 344.15,368.67 343.65,368.67 343.65,366.69 343.15,366.69 343.15,366.71 342.65,366.71 342.65,366.73 342.15,366.73 342.15,366.75 341.65,366.75 341.65,366.77 341.15,366.77 341.15,367.21 340.65,367.21 340.65,368.74 340.15,368.74 340.15,370.55 339.65,370.55 339.65,368.91 339.15,368.91 339.15,366.86 338.65,366.86 338.65,367.01 338.15,367.01 338.15,368.76 337.65,368.76 337.65,370.55 337.15,370.55 337.15,369.44 336.65,369.44 336.65,370.54 336.15,370.54 336.15,371.05 335.65,371.05 335.65,371.7 335.15,371.7 335.15,372.4 334.65,372.4 334.65,372.4 334.15,372.4 334.15,372.4 333.65,372.4 333.65,372.4 333.15,372.4 333.15,372.4 332.65,372.4 332.65,372.4 332.15,372.4 332.15,372.4 331.65,372.4 331.65,372.4 331.15,372.4 331.15,372.4 330.65,372.4 330.65,372.4 330.15,372.4 330.15,372.4 329.65,372.4 329.65,372.4 329.15,372.4 329.15,372.4 328.65,372.4 328.65,372.4 328.15,372.4 328.15,372.4 327.65,372.4 327.65,372.4 327.15,372.4 327.15,372.4 326.65,372.4 326.65,372.4 326.15,372.4 326.15,372.4 325.65,372.4 325.65,372.4 325.15,372.4 325.15,372.4 324.65,372.4 324.65,372.4 324.15,372.4 324.15,372.4 323.65,372.4 323.65,372.4 323.15,372.4 323.15,372.4 322.65,372.4 322.65,372.4 322.15,372.4 322.15,372.4 321.65,372.4 321.65,372.4 321.15,372.4 321.15,372.4 320.65,372.4 320.65,372.4 320.15,372.4 320.15,372.4 319.65,372.4 319.65,372.4 319.15,372.4 319.15,372.4 318.65,372.4 318.65,372.4 318.15,372.4 318.15,372.4 317.65,372.4 317.65,372.4 317.15,372.4 317.15,372.4 316.65,372.4 316.65,372.4 316.15,372.4 316.15,372.4 315.65,372.4 315.65,372.4 315.15,372.4 315.15,372.4 314.65,372.4 314.65,372.4 314.15,372.4 314.15,372.4 313.65,372.4 313.65,372.4 313.15,372.4 313.15,372.4 312.65,372.4 312.65,372.4 312.15,372.4 312.15,372.4 311.65,372.4 311.65,372.4 311.15,372.4 311.15,372.4 310.65,372.4 310.65,372.4 310.15,372.4 310.15,372.4 309.65,372.4 309.65,372.4 309.15,372.4 309.15,372.4 308.65,372.4 308.65,372.4 308.15,372.4 308.15,372.4 307.65,372.4 307.65,371.73 307.15,371.73 307.15,370.51 306.65,370.51 306.65,368.54 306.15,368.54 306.15,367.05 305.65,367.05 305.65,365.56 305.15,365.56 305.15,364.08 304.65,364.08 304.65,362.59 304.15,362.59 304.15,361.63 303.65,361.63 303.65,360.95 303.15,360.95 303.15,365.55 302.65,365.55 302.65,360.19 302.15,360.19 302.15,363.33 301.65,363.33 301.65,360.36 301.15,360.36 301.15,359.06 300.65,359.06 300.65,358.68 300.15,358.68 300.15,358.66 299.65,358.66 299.65,360.11 299.15,360.11 299.15,361.55 298.65,361.55 298.65,363.19 298.15,363.19 298.15,366.19 297.65,366.19 297.65,367.14 297.15,367.14 297.15,368.98 296.65,368.98 296.65,371.6 296.15,371.6 296.15,372.4 295.65,372.4 295.65,372.4 295.15,372.4 295.15,372.4 294.65,372.4 294.65,372.4 294.15,372.4 294.15,372.4 293.65,372.4 293.65,372.4 293.15,372.4 293.15,372.4 292.65,372.4 292.65,372.4 292.15,372.4 292.15,372.4 291.65,372.4 291.65,372.4 291.15,372.4 291.15,372.4 290.65,372.4 290.65,372.4 290.15,372.4 290.15,372.4 289.65,372.4 289.65,372.4 289.15,372.4 289.15,372.4 288.65,372.4 288.65,372.4 288.15,372.4 288.15,372.4 287.65,372.4 287.65,372.4 287.15,372.4 287.15,372.4 286.65,372.4 286.65,372.4 286.15,372.4 286.15,372.4 285.65,372.4 285.65,372.4 285.15,372.4 285.15,372.4 284.65,372.4 284.65,372.4 284.15,372.4 284.15,372.4 283.65,372.4 283.65,372.4 283.15,372.4 283.15,372.4 282.65,372.4 282.65,372.4 282.15,372.4 282.15,372.4 281.65,372.4 281.65,372.4 281.15,372.4 281.15,372.4 280.65,372.4 280.65,372.4 280.15,372.4 280.15,372.4 279.65,372.4 279.65,372.4 279.15,372.4 279.15,372.4 278.65,372.4 278.65,372.4 278.15,372.4 278.15,372.4 277.65,372.4 277.65,372.4 277.15,372.4 277.15,372.4 276.65,372.4 276.65,372.4 276.15,372.4 276.15,372.18 275.65,372.18 275.65,371.11 275.15,371.11 275.15,370.56 274.65,370.56 274.65,370.79 274.15,370.79 274.15,368.09 273.65,368.09 273.65,368.27 273.15,368.27 273.15,369.12 272.65,369.12 272.65,364.64 272.15,364.64 272.15,364.46 271.65,364.46 271.65,364.39 271.15,364.39 271.15,363.34 270.65,363.34 270.65,363.53 270.15,363.53 270.15,363.54 269.65,363.54 269.65,365.47 269.15,365.47 269.15,361.19 268.65,361.19 268.65,361.64 268.15,361.64 268.15,360.49 267.65,360.49 267.65,360.73 267.15,360.73 267.15,360.97 266.65,360.97 266.65,361.95 266.15,361.95 266.15,363.21 265.65,363.21 265.65,365.05 265.15,365.05 265.15,365.55 264.65,365.55 264.65,367.27 264.15,367.27 264.15,369.1 263.65,369.1 263.65,370.93 263.15,370.93 263.15,372.4 262.65,372.4 262.65,372.4 262.15,372.4 262.15,372.4 261.65,372.4 261.65,372.4 261.15,372.4 261.15,372.4 260.65,372.4 260.65,372.4 260.15,372.4 260.15,372.4 259.65,372.4 259.65,372.4 259.15,372.4 259.15,372.4 258.65,372.4 258.65,372.4 258.15,372.4 258.15,372.4 257.65,372.4 257.65,372.4 257.15,372.4 257.15,372.4 256.65,372.4 256.65,372.4 256.15,372.4 256.15,372.4 255.65,372.4 255.65,372.4 255.15,372.4 255.15,372.4 254.65,372.4 254.65,372.4 254.15,372.4 254.15,372.4 253.65,372.4 253.65,372.4 253.15,372.4 253.15,372.4 252.65,372.4 252.65,372.4 252.15,372.4 252.15,372.4 251.65,372.4 251.65,372.4 251.15,372.4 251.15,372.4 250.65,372.4 250.65,372.4 250.15,372.4 250.15,372.4 249.65,372.4 249.65,372.4 249.15,372.4 249.15,372.4 248.65,372.4 248.65,372.4 248.15,372.4 248.15,372.4 247.65,372.4 247.65,372.4 247.15,372.4 247.15,372.4 246.65,372.4 246.65,372.4 246.15,372.4 246.15,372.4 245.65,372.4 245.65,372.4 245.15,372.4 245.15,372.4 244.65,372.4 244.65,372.4 244.15,372.4 244.15,372.4 243.65,372.4 243.65,372.4 243.15,372.4 243.15,372.4 242.65,372.4 242.65,372.4 242.15,372.4 242.15,372.4 241.65,372.4 241.65,372.4 241.15,372.4 241.15,372.4 240.65,372.4 240.65,372.4 240.15,372.4 240.15,372.4 239.65,372.4 239.65,372.4 239.15,372.4 239.15,372.4 238.65,372.4 238.65,372.4 238.15,372.4 238.15,371.99 237.65,371.99 237.65,369.93 237.15,369.93 237.15,368.61 236.65,368.61 236.65,365.8 236.15,365.8 236.15,363.69 235.65,363.69 235.65,361.92 235.15,361.92 235.15,359.11 234.65,359.11 234.65,356.82 234.15,356.82 234.15,356.76 233.65,356.76 233.65,352.84 233.15,352.84 233.15,350.07 232.65,350.07 232.65,348.42 232.15,348.42 232.15,346.91 231.65,346.91 231.65,350.09 231.15,350.09 231.15,343.47 230.65,343.47 230.65,341.82 230.15,341.82 230.15,340.72 229.65,340.72 229.65,341.82 229.15,341.82 229.15,346.28 228.65,346.28 228.65,344.02 228.15,344.02 228.15,347.83 227.65,347.83 227.65,360.23 227.15,360.23 227.15,359.47 226.65,359.47 226.65,362.5 226.15,362.5 226.15,368.67 225.65,368.67 225.65,370.2 225.15,370.2 225.15,372.4 224.65,372.4 224.65,372.4 224.15,372.4 224.15,372.4 223.65,372.4 223.65,372.4 223.15,372.4 223.15,372.4 222.65,372.4 222.65,372.4 222.15,372.4 222.15,372.4 221.65,372.4 221.65,372.4 221.15,372.4 221.15,372.4 220.65,372.4 220.65,372.4 220.15,372.4 220.15,372.4 219.65,372.4 219.65,372.4 219.15,372.4 219.15,372.4 218.65,372.4 218.65,372.4 218.15,372.4 218.15,372.4 217.65,372.4 217.65,372.4 217.15,372.4 217.15,372.4 216.65,372.4 216.65,372.4 216.15,372.4 216.15,372.4 215.65,372.4 215.65,372.4 215.15,372.4 215.15,372.4 214.65,372.4 214.65,372.4 214.15,372.4 214.15,372.4 213.65,372.4 213.65,372.4 213.15,372.4 213.15,372.4 212.65,372.4 212.65,372.4 212.15,372.4 212.15,372.4 211.65,372.4 211.65,372.4 211.15,372.4 211.15,372.4 210.65,372.4 210.65,372.4 210.15,372.4 210.15,372.19 209.65,372.19 209.65,371.16 209.15,371.16 209.15,370.92 208.65,370.92 208.65,369.1 208.15,369.1 208.15,368.42 207.65,368.42 207.65,367.26 207.15,367.26 207.15,366.01 206.65,366.01 206.65,364.97 206.15,364.97 206.15,364.15 205.65,364.15 205.65,364.15 205.15,364.15 205.15,364.67 204.65,364.67 204.65,367.24 204.15,367.24 204.15,369.17 203.65,369.17 203.65,366.98 203.15,366.98 203.15,366.25 202.65,366.25 202.65,364.15 202.15,364.15 202.15,364.15 201.65,364.15 201.65,364.15 201.15,364.15 201.15,363.94 200.65,363.94 200.65,362.88 200.15,362.88 200.15,364.35 199.65,364.35 199.65,363.87 199.15,363.87 199.15,363.98 198.65,363.98 198.65,363.63 198.15,363.63 198.15,367.8 197.65,367.8 197.65,353.63 197.15,353.63 197.15,356.38 196.65,356.38 196.65,351.26 196.15,351.26 196.15,347.62 195.65,347.62 195.65,348.97 195.15,348.97 195.15,350.99 194.65,350.99 194.65,353 194.15,353 194.15,359.04 193.65,359.04 193.65,358.21 193.15,358.21 193.15,361.37 192.65,361.37 192.65,364.01 192.15,364.01 192.15,365.52 191.65,365.52 191.65,369.17 191.15,369.17 191.15,371.78 190.65,371.78 190.65,372.4 190.15,372.4 190.15,372.4 189.65,372.4 189.65,372.4 189.15,372.4 189.15,372.4 188.65,372.4 188.65,372.4 188.15,372.4 188.15,372.4 187.65,372.4 187.65,372.4 187.15,372.4 187.15,372.4 186.65,372.4 186.65,372.4 186.15,372.4 186.15,372.4 185.65,372.4 185.65,372.4 185.15,372.4 185.15,372.4 184.65,372.4 184.65,372.4 184.15,372.4 184.15,372.4 183.65,372.4 183.65,372.4 183.15,372.4 183.15,372.4 182.65,372.4 182.65,372.4 182.15,372.4 182.15,372.4 181.65,372.4 181.65,372.4 181.15,372.4 181.15,372.4 180.65,372.4 180.65,372.4 180.15,372.4 180.15,372.4 179.65,372.4 179.65,372.4 179.15,372.4 179.15,372.4 178.65,372.4 178.65,372.4 178.15,372.4 178.15,372.4 177.65,372.4 177.65,372.4 177.15,372.4 177.15,372.4 176.65,372.4 176.65,372.4 176.15,372.4 176.15,372.4 175.65,372.4 175.65,372.4 175.15,372.4 175.15,372.4 174.65,372.4 174.65,372.4 174.15,372.4 174.15,372.24 173.65,372.24 173.65,370.75 173.15,370.75 173.15,370.63 172.65,370.63 172.65,367.45 172.15,367.45 172.15,367.76 171.65,367.76 171.65,367.07 171.15,367.07 171.15,366.3 170.65,366.3 170.65,365.46 170.15,365.46 170.15,359.93 169.65,359.93 169.65,359.45 169.15,359.45 169.15,359.72 168.65,359.72 168.65,359.18 168.15,359.18 168.15,358 167.65,358 167.65,357.52 167.15,357.52 167.15,357.04 166.65,357.04 166.65,360.99 166.15,360.99 166.15,356.45 165.65,356.45 165.65,359.78 165.15,359.78 165.15,360.23 164.65,360.23 164.65,360.43 164.15,360.43 164.15,361.76 163.65,361.76 163.65,364.51 163.15,364.51 163.15,366.35 162.65,366.35 162.65,368.8 162.15,368.8 162.15,370.12 161.65,370.12 161.65,372.02 161.15,372.02 161.15,372.4 160.65,372.4 160.65,372.4 160.15,372.4 160.15,372.4 159.65,372.4 159.65,372.4 159.15,372.4 159.15,372.4 158.65,372.4 158.65,372.4 158.15,372.4 158.15,372.4 157.65,372.4 157.65,372.4 157.15,372.4 157.15,372.4 156.65,372.4 156.65,372.4 156.15,372.4 156.15,372.4 155.65,372.4 155.65,372.4 155.15,372.4 155.15,372.4 154.65,372.4 154.65,372.4 154.15,372.4 154.15,372.4 153.65,372.4 153.65,372.4 153.15,372.4 153.15,372.4 152.65,372.4 152.65,372.4 152.15,372.4 152.15,372.4 151.65,372.4 151.65,372.4 151.15,372.4 151.15,372.4 150.65,372.4 150.65,372.4 150.15,372.4 150.15,372.4 149.65,372.4 149.65,372.4 149.15,372.4 149.15,372.4 148.65,372.4 148.65,372.4 148.15,372.4 148.15,372.4 147.65,372.4 147.65,372.4 147.15,372.4 147.15,372.4 146.65,372.4 146.65,372.4 146.15,372.4 146.15,372.4 145.65,372.4 145.65,372.4 145.15,372.4 145.15,372.4 144.65,372.4 144.65,372.4 144.15,372.4 144.15,372.4 143.65,372.4 143.65,372.4 143.15,372.4 143.15,372.4 142.65,372.4 142.65,372.4 142.15,372.4 142.15,372.4 141.65,372.4 141.65,372.4 141.15,372.4 141.15,372.4 140.65,372.4 140.65,372.4 140.15,372.4 140.15,372.4 139.65,372.4 139.65,372.4 139.15,372.4 139.15,372.4 138.65,372.4 138.65,372.4 138.15,372.4 138.15,372.4 137.65,372.4 137.65,372.4 137.15,372.4 137.15,372.4 136.65,372.4 136.65,372.4 136.15,372.4 136.15,372.4 135.65,372.4 135.65,372.4 135.15,372.4 135.15,372.4 134.65,372.4 134.65,372.4 134.15,372.4 134.15,372.4 133.65,372.4 133.65,372.4 133.15,372.4 133.15,372.4 132.65,372.4 132.65,372.4 132.15,372.4 132.15,372.4 131.65,372.4 131.65,372.4 131.15,372.4 131.15,372.4 130.65,372.4 130.65,372.4 130.15,372.4 130.15,372.4 129.65,372.4 129.65,372.4 129.15,372.4 129.15,372.4 128.65,372.4 128.65,372.4 128.15,372.4 128.15,372.4 127.65,372.4 127.65,372.4 127.15,372.4 127.15,372.4 126.65,372.4 126.65,372.4 126.15,372.4 126.15,372.4 125.65,372.4 125.65,372.4 125.15,372.4 125.15,372.4 124.65,372.4 124.65,372.4 124.15,372.4 124.15,372.4 123.65,372.4 123.65,372.4 123.15,372.4 123.15,372.4 122.65,372.4 122.65,372.4 122.15,372.4 122.15,372.4 121.65,372.4 121.65,372.4 121.15,372.4 121.15,372.4 120.65,372.4 120.65,372.4 120.15,372.4 120.15,372.4 119.65,372.4 119.65,372.4 119.15,372.4 119.15,372.4 118.65,372.4 118.65,372.4 118.15,372.4 118.15,372.4 117.65,372.4 117.65,372.4 117.15,372.4 117.15,372.4 116.65,372.4 116.65,372.4 116.15,372.4 116.15,372.4 115.65,372.4 115.65,372.4 115.15,372.4 115.15,372.4 114.65,372.4 114.65,372.4 114.15,372.4 114.15,372.4 113.65,372.4 113.65,372.4 113.15,372.4 113.15,372.4 112.65,372.4 112.65,372.4 112.15,372.4 112.15,372.4 111.65,372.4 111.65,372.4 111.15,372.4 111.15,372.4 110.65,372.4 110.65,372.4 110.15,372.4 110.15,372.4 109.65,372.4 109.65,372.4 109.15,372.4 109.15,372.4 108.65,372.4 108.65,372.4 108.15,372.4 108.15,372.4 107.65,372.4 107.65,372.4 107.15,372.4 107.15,372.4 106.65,372.4 106.65,372.4 106.15,372.4 106.15,372.4 105.65,372.4 105.65,372.4 105.15,372.4 105.15,372.4 104.65,372.4 104.65,372.4 104.15,372.4 104.15,372.4 103.65,372.4 103.65,372.4 103.15,372.4 103.15,372.4 102.65,372.4 102.65,372.4 102.15,372.4 102.15,372.4 101.65,372.4 101.65,372.4 101.15,372.4 101.15,372.4 100.65,372.4 100.65,372.4 100.15,372.4 100.15,372.4 99.65,372.4 99.65,372.4 99.15,372.4 99.15,372.4 98.65,372.4 98.65,372.4 98.15,372.4 98.15,372.4 97.65,372.4 97.65,372.4 97.15,372.4 97.15,372.4 96.65,372.4 96.65,372.4 96.15,372.4 96.15,372.4 95.65,372.4 95.65,372.4 95.15,372.4 95.15,372.4 94.65,372.4 94.65,372.4 94.15,372.4 94.15,372.4 93.65,372.4 93.65,372.4 93.15,372.4 93.15,372.4 92.65,372.4 92.65,372.4 92.15,372.4 92.15,372.4 91.65,372.4 91.65,372.4 91.15,372.4 91.15,372.4 90.65,372.4 90.65,372.4 90.15,372.4 90.15,372.4 89.65,372.4 89.65,372.4 89.15,372.4 89.15,372.4 88.65,372.4 88.65,372.4 88.15,372.4 88.15,372.4 87.65,372.4 87.65,372.4 87.15,372.4 87.15,372.4 86.65,372.4 86.65,372.4 86.15,372.4 86.15,372.4 85.65,372.4 85.65,372.4 85.15,372.4 85.15,372.4 84.65,372.4 84.65,372.4 84.15,372.4 84.15,372.4 83.65,372.4 83.65,372.4 83.15,372.4 83.15,372.4 82.65,372.4 82.65,372.4 82.15,372.4 82.15,372.4 81.65,372.4 81.65,372.4 81.15,372.4 81.15,372.4 80.65,372.4 80.65,372.4 80.15,372.4 80.15,372.4 79.65,372.4 79.65,372.4 79.15,372.4 79.15,372.4 78.65,372.4 78.65,372.4 78.15,372.4 78.15,372.4 77.65,372.4 77.65,372.4 77.15,372.4 77.15,372.4 76.65,372.4 76.65,372.4 76.15,372.4 76.15,372.4 75.65,372.4 75.65,372.4 75.15,372.4 75.15,372.4 74.65,372.4 74.65,372.4 74.15,372.4 74.15,372.4 73.65,372.4 73.65,372.4 73.15,372.4 73.15,372.4 72.65,372.4 72.65,372.4 72.15,372.4 72.15,372.4 71.65,372.4 71.65,372.4 71.15,372.4 71.15,372.4 70.65,372.4 70.65,372.4 70.15,372.4 70.15,372.4 69.65,372.4 69.65,372.4 69.15,372.4 69.15,372.4 68.65,372.4 68.65,372.4 68.15,372.4 68.15,372.4 67.65,372.4 67.65,372.4 67.15,372.4 67.15,372.4 66.65,372.4 66.65,372.4 66.15,372.4 66.15,372.4 65.65,372.4 65.65,372.4 65.15,372.4 65.15,372.4 64.65,372.4 64.65,372.4 64.15,372.4 64.15,372.4 63.65,372.4Z" fill="#1c1c1c"/>
<path d="M96.5,330.2V298.15M100.5,325.19V275.9M102.5,322.76V288.4M91.5,335.6V303.65M105.5,324.8V304.4M121.5,309.16V286.65M124.5,301.48V262.4M127.5,301.33V268.65M129.5,314.4V295.15M132.5,324.44V270.4M157.5,309.01V266.15M158.5,306.4V268.65M159.5,306.4V283.9M161.5,307.1V262.4M164.5,312.6V274.9M165.5,315.44V292.4M168.5,321.2V297.9M194.5,312.54V293.4M197.5,308.48V267.65M200.5,312.4V277.4M201.5,315.74V297.9M229.5,301V240.15M228.5,304.6V265.4M229.5,302.8V265.4M230.5,301.2V265.4M231.5,302.8V265.4M230.5,301.8V282.9M225.5,318V291.4M235.5,318.64V289.65M237.5,324V297.9M209.5,327.2V302.65M212.5,337.8V313.4M215.5,350V314.4M262.5,333.2V310.9M266.5,328.4V306.4M271.5,332.4V302.65M301.5,315.82V273.4M304.5,317.51V294.15M340.5,318.23V296.15M342.5,319.43V296.9M344.5,324.68V297.9M348.5,324.4V306.4M370.5,335.08V297.9M373.5,321.32V296.15M377.5,314.33V259.9M378.5,312.7V285.65M381.5,317.87V283.15M385.5,334.52V300.9M390.5,350V318.4M401.5,336.4V302.65M407.5,318.66V299.65M412.5,326.81V300.9M421.5,356V340.65M437.5,314.01V279.9M438.5,307.85V275.15M443.5,303.94V276.65M439.5,304.67V278.9M440.5,302.57V278.9M441.5,302.9V278.9M442.5,303.17V278.9M471.5,305.82V257.65M473.5,306.4V262.9M468.5,315.47V287.65M469.5,307.99V287.65M470.5,306.64V287.65M472.5,305.07V287.65M475.5,307.45V287.65M477.5,313.79V293.4M483.5,341.16V290.9M498.5,318V276.15M500.5,303.12V261.15M504.5,297.25V246.4M506.5,298V251.4M507.5,300V273.4M510.5,304.4V265.4M512.5,321.47V280.65M502.5,299.6V267.4M503.5,296.55V267.4M505.5,297.65V257.4M509.5,302.4V269.9M536.5,315.6V297.15M539.5,315.2V296.15M548.5,337.8V315.9M553.5,348.4V325.4M559.5,359.2V334.9M573.5,310.04V265.4M575.5,309.8V279.9M576.5,309.8V282.9M580.5,311.58V281.9M581.5,321.08V287.65M571.5,310.3V294.15M572.5,310.16V289.9M574.5,309.87V287.4M578.5,309.8V289.9M579.5,309.8V292.4M602.5,308.22V276.15M606.5,304.6V278.9M610.5,310.59V269.4M601.5,310.73V287.65M604.5,304.6V284.9M605.5,304.6V286.15M608.5,304.6V286.15M609.5,304.6V284.9M611.5,315.49V287.65M638.5,312.97V283.15M640.5,312.64V283.65M642.5,313.4V293.4M644.5,321.01V294.15M646.5,328.8V310.15M652.5,344V331.15M673.5,341.47V323.9M678.5,336.02V320.65M681.5,334.4V317.15M635.5,316.44V297.4M637.5,313.4V292.4M639.5,312.57V292.4" stroke="#1c1c1c" stroke-width="1" fill="none"/>
<path d="M65.91,335.29V333.33M66.57,333.03V328.34M67.79,331.5V327.52M68.88,340.42V338.13M70.13,343.23V341.48M70.24,345.79V340.79M73.3,351.81V347.69M73.88,353.35V351.34M78.37,362.99V361.7M81.6,358.59V355.84M85.8,335.48V333.6M86.87,337.48V335.79M88.76,338.47V334.68M89.38,338.21V332.48M89.8,335.51V333.76M90.87,328.37V321.86M91.66,332.34V327.47M92.41,334.39V330.52M95.01,326.29V324.26M95.64,320.71V309.77M97.05,320.2V313.65M97.22,310.98V309.67M98.26,326.45V325.43M99.6,326.95V319.94M103.75,307.7V298.96M104.75,314.13V309.17M107.77,321.08V320.46M108.75,334.96V331.15M109.4,338.73V332.47M109.67,338.91V337.2M110.57,344.15V342.88M111.13,342.69V341.59M111.74,353V351.34M112.23,357.2V355.1M116.92,333.08V329.81M118.25,316.72V310.53M119.67,293.09V281.57M120.4,302.49V295.27M121.29,304.64V299.23M121.67,303.21V301.59M125.38,281.11V270.1M128.86,278.7V277.38M129.43,296.33V285.99M129.82,298.76V292.21M131.05,301.16V293.32M131.61,313.91V304.09M132.69,315.35V312.91M133.22,307.39V296.94M134.11,318.3V316.01M135.93,317.56V313.71M136.92,324.55V318.28M138.1,327.33V320.34M139.4,343.36V338.53M142.36,348.81V347.29M143.74,351.66V350.85M144.92,352.06V351.47M147.16,340.24V339.45M148.41,337.78V336.87M150.01,326.08V323.84M151.81,320.08V311.24M153.66,302.66V295.01M154.82,305.38V298.97M155.62,308.06V306.89M157.19,296.17V290.1M158.36,285.22V276.91M159.48,285V280.58M161.77,295.16V290.96M162.64,303.19V299.85M164.49,300.76V298.86M166.13,304.32V302.34M170.1,313.4V312.74M170.18,322.12V318.7M170.9,313.03V306.29M171.75,313.66V303.12M172.51,330.74V323.34M173.27,325.33V321.77M175.45,332.04V330.65M175.77,335V333.11M177.43,339.81V337.64M179.94,345.41V342.97M180.66,348.38V346.77M181.6,353.16V352.43M181.72,354.62V353.25M182.78,359.01V358.15M183.89,360.13V359.26M187.18,348.27V344.84M188.74,328.64V325.11M189.37,323.99V319.38M189.84,314.53V303.53M190.28,304.94V300.16M191.12,307.66V304.74M191.19,304.96V301.53M191.67,300V298.93M192.75,304.44V292.95M193.32,303.77V294.2M194.9,288.04V281.91M195.2,288.98V285.33M198.83,293.68V292.16M199.42,292.08V279.49M200.96,306.41V292.62M201.27,312.58V302.3M201.88,310V307.89M203.07,319.47V314.44M203.66,309.38V302.28M205.15,316.46V313.9M207.26,313.46V309.6M207.89,319.64V316.16M209.83,317.46V315.36M210.26,318.02V311.39M212,321.99V316.57M213.82,332.07V329.55M214.65,342.09V339.67M216.03,344.97V338.95M217.12,349.45V348.43M219.07,357.19V356.63M221.02,344.8V338.68M223.42,320.53V318.01M225.32,318.03V313.26M227.21,297.56V294.14M228.02,299.84V288.14M229,300.72V297.92M230.5,288.38V278.94M233.83,295.05V290.01M235.42,293.87V287.56M235.69,299.5V295.47M237.08,306.65V303.53M239.21,315.54V313.88M241.91,333.37V332.15M242.34,336.2V334.16M245.99,338.54V335.35M246.54,334.48V331.07M246.96,334.8V332.04M247.44,346.69V342.17M248.81,349.04V347.71M249.93,352.4V350.02M252.32,355.11V353.58M254,359.51V358.55M256.5,362.16V361.49M257.13,359.65V358.77M257.42,353.2V351.35M259.3,342.13V339.34M259.79,339.91V336.62M260.45,336.92V331.93M261.62,335.71V332.36M263.43,315.72V311.02M265,322.98V321.7M266.71,326.45V323.05M268.44,321.17V320.16M268.72,324.24V321.51M269.41,323.82V321.16M269.99,325.07V320.87M270.64,316.3V314.63M271.45,315.59V307.53M272.11,321.38V320.36M273.01,326.07V321.34M273.24,333.41V331.5M273.93,328.53V322.58M274.3,327.73V326.92M274.8,324.51V320.98M276.03,320.82V315.36M276.16,324.7V323.91M277.17,330.11V328.92M281.61,344.01V340.36M283.56,350.88V349.88M287.11,361.86V360.5M289.58,360.72V360.16M291.97,357.76V356.16M293.17,344.8V341.08M294.31,336.09V330.99M296.03,317.43V309.23M296.73,312.21V311.03M299.19,307.63V305.94M300.58,311.25V310.43M301.3,308V302.74M303.51,314.07V306.31M305,309.17V298.14M307.3,307.62V298.32M308.22,319.39V313.37M308.74,316.11V306.11M309.76,324.58V320.07M312.13,334.17V328.37M316.78,337.94V335.4M317.38,338.96V333.48M320.05,345.37V344.55M321.92,339.88V339.21M322.72,344.78V340.22M325.26,359.61V358.75M326.53,359.38V358.03M326.73,359.43V358.83M327.56,360.26V359.47M330,355.46V354.12M331.64,347.6V346.95M333.08,334.89V334.15M334.59,319.61V317.87M335.21,319.99V318.7M335.72,315.84V309.94M337.34,310.64V302.87M338,305.15V304.63M340.04,314.22V309.41M342.52,303.09V301.49M344.95,317.73V315.53M345.88,324.64V323.1M346.22,322.47V318.38M347.86,321.11V319.1M349.02,312.11V303.21M349.62,304.94V303.12M350.39,317.78V311.02M352.82,326.19V325.38M355,338.13V336.88M358.6,352.97V350.69M358.89,354.85V353.14M359.51,359.9V358.07M359.69,361.09V360.38M362.65,363.43V362.46M364.73,360.2V359.31M365.65,355.92V353.69M366.28,356.1V353.67M367.22,348.77V347.76M368.14,345.31V344.06M370.67,326.98V324.14M372.88,309.21V298.71M373.8,298.68V296.91M375.36,305.84V303.34M375.9,304.62V301.3M376.39,307.42V305.71M379.26,288.17V286.92M379.68,297.38V293.79M380.62,311.03V300.32M380.89,298.43V294.09M382.15,303.27V300.27M382.54,307.45V306.55M386.92,336.42V330.67M387.26,337.45V336.86M388.68,342.47V337.92M391.07,347.43V345.36M393.55,355.08V353.05M394.92,357.44V356.8M396.95,351.24V347.98M397.64,351.9V350.91M397.95,350.12V349.24M399.51,343.26V341.3M400.09,340.12V339.58M400.41,334.58V333.75M402.09,321.05V319.88M402.53,326.38V316.57M402.96,321.5V314.26M403.36,315.94V308.9M404.49,310.24V308.31M407.43,308.92V304.74M410.08,307.98V305.93M412.52,309.1V304.74M413.58,308.78V305.9M414.66,325.58V324.85M416.08,319.8V316.58M416.72,331.65V325.37M421.91,352.37V351.58M427.73,363.29V361.88M428.41,360.49V358.23M428.87,358.38V354.98M430.92,352.2V350.91M432.82,342.25V337.94M435.07,297.38V292.92M436.4,305.52V295.27M437.97,290.16V286.92M440.91,290.65V281.96M441.52,292.28V291.39M442.39,291.77V285.41M443.27,283.38V282.53M445.95,303.73V296.58M448.39,316.48V315.36M449.62,304.74V302.49M449.84,316.35V313.33M451.8,322.48V317.71M453.08,313.09V311.94M453.71,321.79V319.88M455.07,326.27V322.3M455.52,335.67V333.5M455.85,337.17V335.31M458.03,348.11V347.39M459.13,351.19V349.02M460.68,356.09V353.25M461.41,358.56V357.81M462.41,353.1V352.09M465.29,325.74V324.81M466.13,327.63V325.98M467.23,299.98V298.93M468.43,288.53V286.12M469.41,294.77V289.75M469.9,266.97V265.68M470.63,291.65V286.61M471.83,281.75V269.1M472.57,282.91V267.48M476.02,305.42V303.93M477.89,301.6V300.4M479.24,316.97V314.42M479.81,316.07V310.7M480.99,322.49V318.02M481.72,337.87V332.51M482.2,329.47V328.58M483,328.98V326.23M483.76,333.2V327.77M484.2,335.35V333.51M484.97,333.1V330.42M485.55,334.87V331.76M486.8,345.61V343.19M491.35,356.73V355.66M493.77,353.6V353.09M495.3,344.99V340.98M498.09,309.58V303.08M499.31,298.34V291.7M500.93,294.11V292.43M501.41,284.7V283.3M502.33,266.24V261.45M503.19,270.59V256.26M503.77,268.84V265.69M505.59,270.62V269.62M505.77,277.78V273.49M507.89,277.29V275.18M510.56,283.53V273.54M514.62,324.38V319.6M515.32,334.18V332.72M516.01,335.69V332.51M516.7,324.36V320.57M518.83,343.82V343.31M519.3,340.26V336.2M519.83,339.06V335.67M521.21,350.52V349.69M522.41,353.27V350.51M522.69,354.12V352.31M523.72,357.96V354.53M526.65,358.6V357.23M527.31,357.81V356.1M528.52,352.69V349.27M532.07,318.9V315.43M542.07,308.52V304.48M543.9,306.97V301.49M545.61,328.9V319.6M547.13,328.94V326.79M549.39,334.13V330.03M550.87,341.65V337.43M553.1,344.28V339.33M554.31,349.24V348.18M555.47,347.29V343.81M556.76,349.39V345.02M557.49,353.73V351.02M558.22,351.86V350.96M558.95,357.15V356.25M564.1,354.78V353.86M564.51,352.76V349.74M569.59,318.54V307.17M570.16,299.28V293.03M576.53,289.87V277.42M577.34,287.4V284.59M580.16,292.74V286.38M580.93,290.14V286.38M581.83,307.98V302.55M584.3,324.87V324.17M584.97,336.29V331.04M587.34,337.55V332.51M587.89,343.51V340.36M588.88,346.22V343.34M590.21,353.03V352.33M591.39,355.23V354.22M593.57,360.08V358.78M593.74,360.2V359.3M594.99,355.96V352.99M595.44,356.81V355.63M596.46,345.54V344.61M597.22,341.62V337.24M601.17,299.5V296.86M604.99,287.48V286.43M605.63,279.12V276.61M606,293.75V292.69M607.87,287.63V276.61M608.93,287.72V276.61M613.15,312.75V310.77M615.54,325.35V322.46M616,328.11V323.33M617.35,343.83V338.62M618.54,348.6V345.05M621.42,351.77V349.92M621.88,352.31V349.93M623.39,355.71V354.84M623.68,355.07V353.98M624.29,359.01V357.26M624.77,359.64V358.01M625.84,360.03V359.24M627.07,354.62V352.89M631.11,334.12V326.56M631.42,324.37V322.58M632.16,319.65V319.14M633.89,306.08V301.88M634.36,301.62V289.4M637.6,304.16V298.7M642.02,294.36V289.64M643.21,313.83V304.81M644.3,311V304.55M646.45,305.92V304.31M647.94,319.9V314.58M649.08,329.88V329.19M649.48,326.83V325.54M650.9,333.93V325.91M653.52,339.79V335.78M655.64,350.25V349.4M657.64,349.64V344.49M659.05,352.45V351.41M660.26,359.77V357.67M662.08,361.97V361.21M662.49,364.81V364.07M663.64,364.96V363.6M668.34,364.28V363.09M670.44,353.27V352.73M672.34,340.86V339.19M672.72,337.12V329.47M673.66,333.84V329.81M674.65,331.78V330.85M674.75,331.31V329.65M675.83,326.44V322.64M676.61,327.98V321.02M677.43,327.01V322.76M679.54,324.84V321.02M680.15,321.6V321.02M683.04,328.1V321.4M683.48,333.39V331.28M684.25,325.08V321.02M685.38,329.74V328.96M687.33,342.39V337.59M688.17,348.34V346.24M689.03,356.64V356.09M689.99,358.62V356.32" stroke="#3a3a3a" stroke-width="0.6" fill="none"/>
<path d="M170.3,364.96V372.4M171.1,365.8V372.4M172.51,366.95V372.4M194.85,350.49V370.58M196.18,350.76V371.05M202,363.65V372.4M202.4,363.65V372.4M204.71,364.17V369.76M208.1,367.92V372.4M226.81,358.97V372.33M266.45,361.45V370.93M304.56,362.09V370.2M341.15,366.27V372.4M343.67,368.17V372.4M347.73,369.05V371.52M371.62,366.54V371.95M372.27,362.02V368.56M377.04,362.82V372.4M378.46,366.31V370.29M406.55,360.84V371.32M412.13,366.73V370.8M412.93,365.9V369.94M415.27,366.96V371.32M443.48,354.24V366.03M470.48,357.63V368.39M472.81,342.04V372.4M473.64,341.7V358.25M480.97,358.87V370.76M483.68,354.23V369.52M484.37,354.57V364.48M485.13,354.92V370.52M486.19,360.6V369.88M498.47,365.86V372.4M507.63,341.9V372.4M509.06,346.2V357.7M512.04,359.82V366.31M514.96,364.71V370.1M533.34,359.62V371.91M546.99,366.15V371.78M548.31,361.97V370.63M575.34,350.8V370.67M579.33,363.31V368.31M582.78,365.32V370.48M587.31,366.54V372.4M607.69,346.22V367.09M611.22,353.84V367.7M614.83,361.76V369.12M678.04,368.56V372.4M679.92,365.58V372.4M683.54,368.6V371.18" stroke="#2a2a2a" stroke-width="0.7" fill="none"/>
<text x="377" y="420.5" text-anchor="middle" font-family="Liberation Serif" font-size="18" font-weight="bold">Year</text>
<text transform="translate(11.2,299) rotate(-90)" text-anchor="middle" font-family="Liberation Serif" font-size="16" font-weight="bold">Daily sunspot number</text>
</svg>
</body></html>
